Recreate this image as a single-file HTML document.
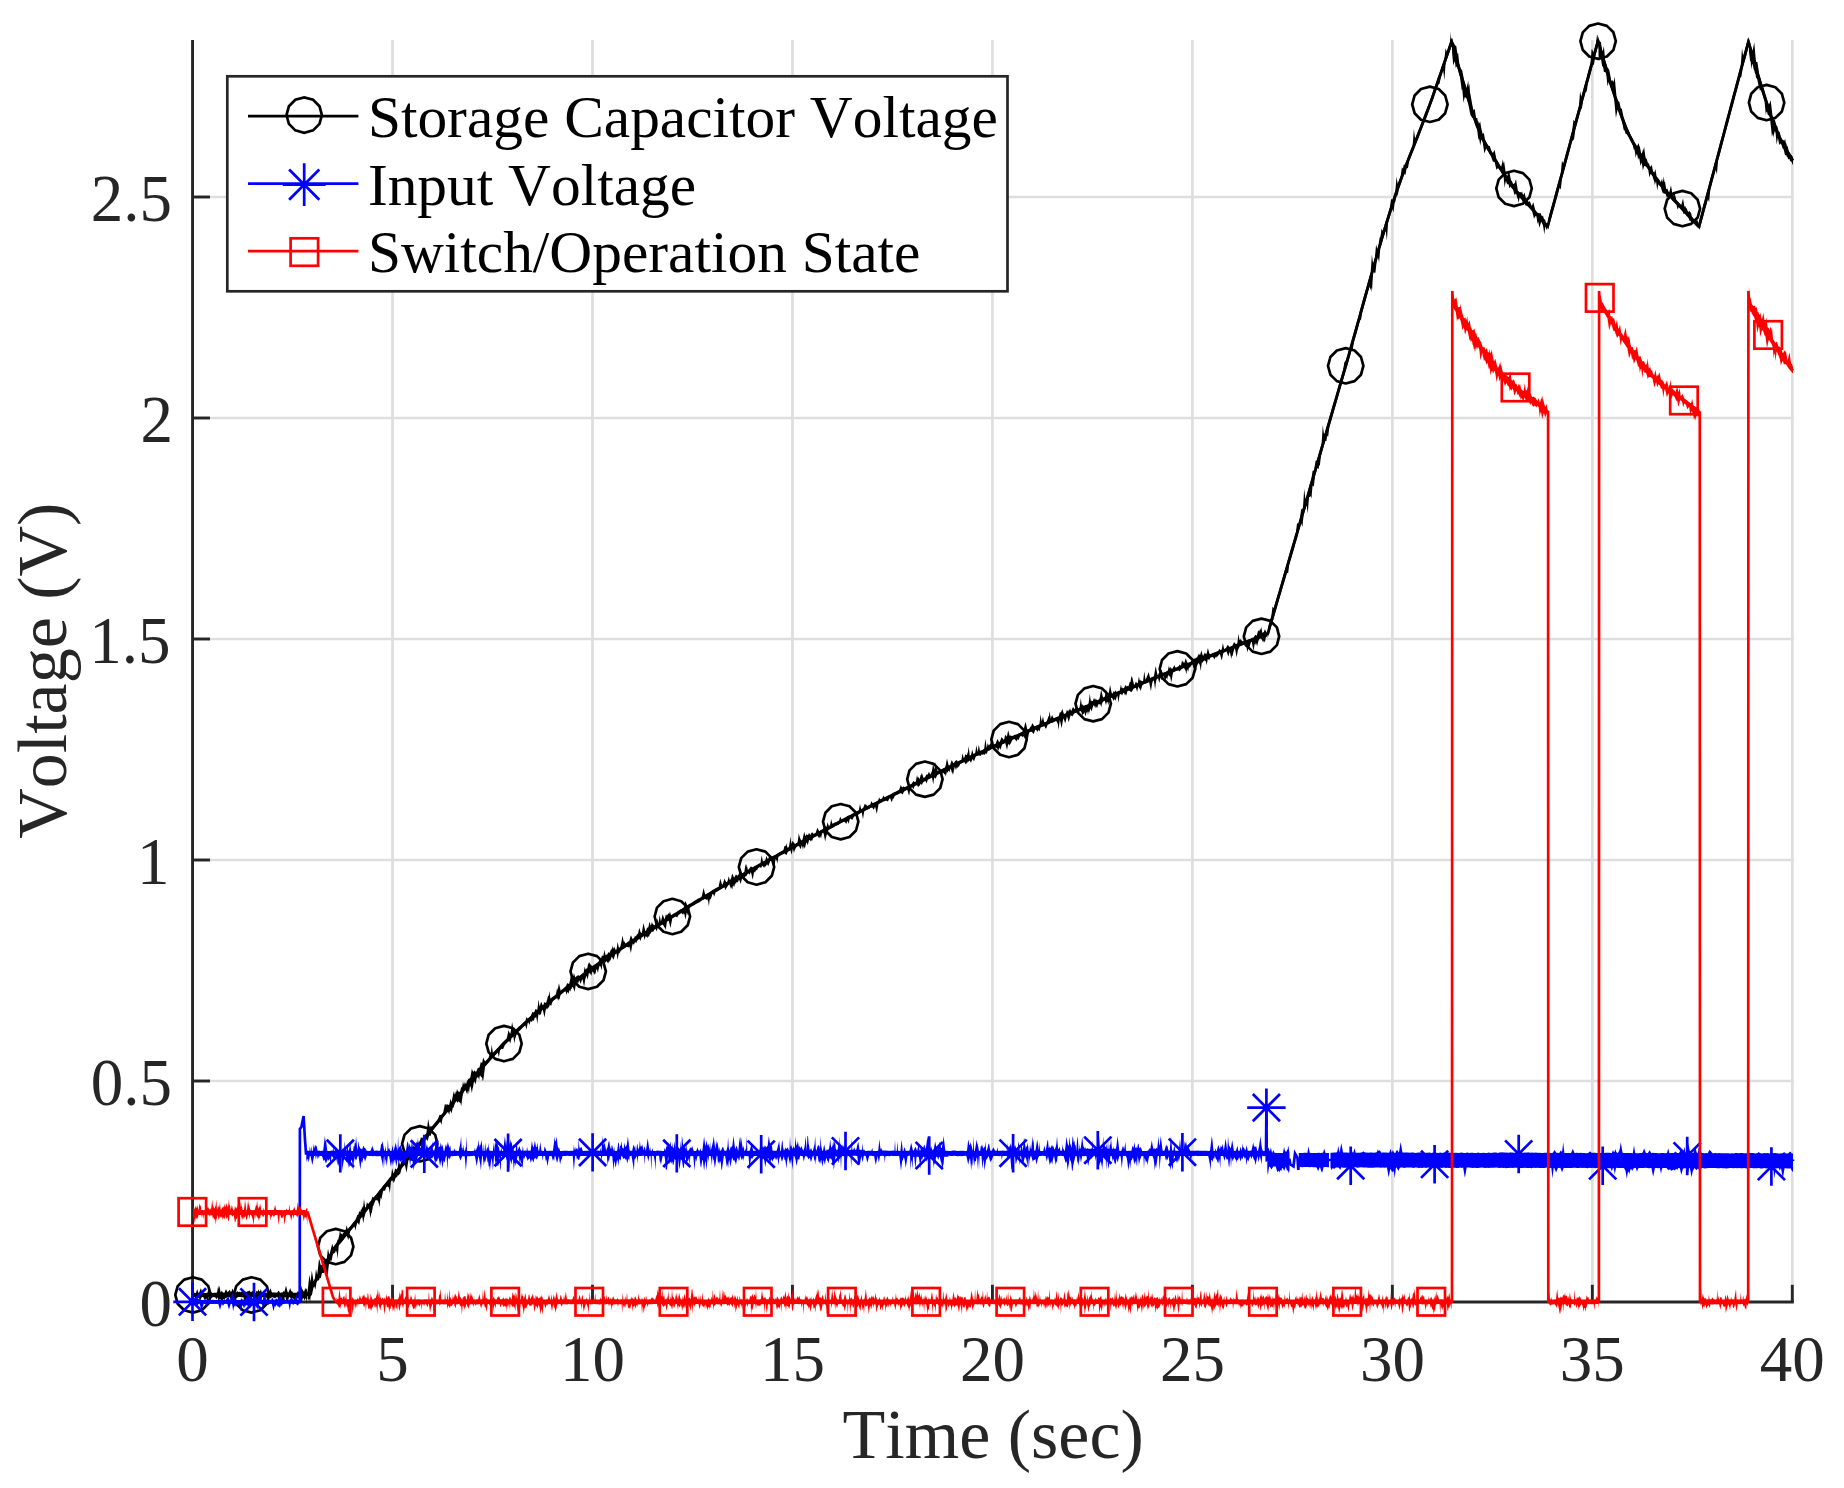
<!DOCTYPE html>
<html lang="en"><head><meta charset="utf-8"><title>Voltage vs Time</title>
<style>html,body{margin:0;padding:0;background:#fff}body{width:1844px;height:1488px;overflow:hidden}svg{display:block}text{font-family:"Liberation Serif",serif;font-kerning:none}</style>
</head><body>
<svg width="1844" height="1488" viewBox="0 0 1844 1488">
<rect width="1844" height="1488" fill="#fff"/>
<g stroke="#dedede" stroke-width="2.7" fill="none">
<line x1="392.52" y1="40" x2="392.52" y2="1302"/>
<line x1="592.49" y1="40" x2="592.49" y2="1302"/>
<line x1="792.46" y1="40" x2="792.46" y2="1302"/>
<line x1="992.42" y1="40" x2="992.42" y2="1302"/>
<line x1="1192.39" y1="40" x2="1192.39" y2="1302"/>
<line x1="1392.36" y1="40" x2="1392.36" y2="1302"/>
<line x1="1592.33" y1="40" x2="1592.33" y2="1302"/>
<line x1="1792.3" y1="40" x2="1792.3" y2="1302"/>
<line x1="192.6" y1="1081" x2="1793.7" y2="1081"/>
<line x1="192.6" y1="860" x2="1793.7" y2="860"/>
<line x1="192.6" y1="639" x2="1793.7" y2="639"/>
<line x1="192.6" y1="418" x2="1793.7" y2="418"/>
<line x1="192.6" y1="197" x2="1793.7" y2="197"/>
</g>
<g stroke="#262626" stroke-width="2.9" fill="none">
<path d="M192.55 40V1302H1793.8"/>
<line x1="392.52" y1="1302" x2="392.52" y2="1284.8"/>
<line x1="592.49" y1="1302" x2="592.49" y2="1284.8"/>
<line x1="792.46" y1="1302" x2="792.46" y2="1284.8"/>
<line x1="992.42" y1="1302" x2="992.42" y2="1284.8"/>
<line x1="1192.39" y1="1302" x2="1192.39" y2="1284.8"/>
<line x1="1392.36" y1="1302" x2="1392.36" y2="1284.8"/>
<line x1="1592.33" y1="1302" x2="1592.33" y2="1284.8"/>
<line x1="1792.3" y1="1302" x2="1792.3" y2="1284.8"/>
<line x1="192.55" y1="1081" x2="210" y2="1081"/>
<line x1="192.55" y1="860" x2="210" y2="860"/>
<line x1="192.55" y1="639" x2="210" y2="639"/>
<line x1="192.55" y1="418" x2="210" y2="418"/>
<line x1="192.55" y1="197" x2="210" y2="197"/>
</g>
<g fill="#262626" font-size="65">
<g text-anchor="middle">
<text transform="translate(192.6 1380.8) scale(1 1.02)">0</text>
<text transform="translate(392.5 1380.8) scale(1 1.02)">5</text>
<text transform="translate(592.5 1380.8) scale(1 1.02)">10</text>
<text transform="translate(792.5 1380.8) scale(1 1.02)">15</text>
<text transform="translate(992.4 1380.8) scale(1 1.02)">20</text>
<text transform="translate(1192.4 1380.8) scale(1 1.02)">25</text>
<text transform="translate(1392.4 1380.8) scale(1 1.02)">30</text>
<text transform="translate(1592.3 1380.8) scale(1 1.02)">35</text>
<text transform="translate(1792.3 1380.8) scale(1 1.02)">40</text>
</g>
<g text-anchor="end">
<text transform="translate(172 1326.1) scale(1 1.03)">0</text>
<text transform="translate(172 1105.1) scale(1 1.03)">0.5</text>
<text transform="translate(169.4 884.1) scale(1 1.03)">1</text>
<text transform="translate(170.6 663.1) scale(1 1.03)">1.5</text>
<text transform="translate(173 442.1) scale(1 1.03)">2</text>
<text transform="translate(172 221.1) scale(1 1.03)">2.5</text>
</g></g>
<g fill="#262626" font-size="70" text-anchor="middle">
<text x="993.2" y="1457.7">Time (sec)</text>
<text transform="translate(66.3 670.7) rotate(-90)">Voltage (V)</text>
</g>
<g fill="none" stroke-width="2.7" stroke-linejoin="miter" stroke-miterlimit="4">
<polyline stroke="#000" points="193,1294.9 196,1294.9 199,1294.9 202,1294.9 205,1294.9 208,1294.9 211,1294.9 214,1294.9 217,1294.9 220,1294.9 223,1294.9 226,1294.9 229,1294.9 232,1294.9 235,1294.9 238,1294.9 241,1294.9 244,1294.9 247,1294.9 250,1294.9 253,1294.9 256,1294.9 259,1294.9 262,1294.9 265,1294.9 268,1294.9 271,1294.9 274,1294.9 277,1294.9 280,1294.9 283,1294.9 286,1294.9 289,1294.9 292,1294.9 295,1294.9 298,1294.9 301,1294.9 304,1294.9 307,1294.9 307.6,1294.4 310.6,1289.3 313.6,1284.1 316.6,1279 319.6,1273.9 322.6,1268.7 325.7,1263.6 328.7,1258.5 331.7,1253.3 334.7,1248.2 337.7,1244.1 340.7,1240.5 343.7,1236.8 346.7,1233.1 349.7,1229.4 352.7,1225.7 355.7,1222 358.7,1218.3 361.8,1214.7 364.8,1211 367.8,1207.3 370.8,1203.6 373.8,1199.9 376.8,1196.2 379.8,1192.5 382.8,1188.8 385.8,1185.2 388.8,1181.5 391.8,1177.8 394.8,1174.1 397.9,1170.5 400.9,1166.8 403.9,1163.1 406.9,1159.5 409.9,1155.8 412.9,1152.2 415.9,1148.5 418.9,1144.9 421.9,1141.3 424.9,1137.6 427.9,1133.9 430.9,1130.2 434,1126.5 437,1122.8 440,1119 443,1115.3 446,1111.5 449,1107.8 452,1104 455,1100.3 458,1096.5 461,1092.8 464,1089.1 467,1085.5 470.1,1081.8 473.1,1078.2 476.1,1074.6 479.1,1071.1 482.1,1067.6 485.1,1064.1 488.1,1060.7 491.1,1057.3 494.1,1054 497.1,1050.8 500.1,1047.6 503.2,1044.5 506.2,1041.4 509.2,1038.4 512.2,1035.4 515.2,1032.5 518.2,1029.6 521.2,1026.8 524.2,1024 527.2,1021.2 530.2,1018.5 533.2,1015.8 536.2,1013.2 539.3,1010.5 542.3,1008 545.3,1005.4 548.3,1002.9 551.3,1000.4 554.3,997.9 557.3,995.5 560.3,993 563.3,990.6 566.3,988.2 569.3,985.9 572.3,983.5 575.4,981.2 578.4,978.9 581.4,976.6 584.4,974.3 587.4,972 590.4,969.7 593.4,967.5 596.4,965.3 599.4,963.2 602.4,961 605.4,958.9 608.4,956.9 611.5,954.8 614.5,952.8 617.5,950.8 620.5,948.8 623.5,946.9 626.5,944.9 629.5,943 632.5,941.1 635.5,939.2 638.5,937.3 641.5,935.5 644.5,933.6 647.6,931.7 650.6,929.9 653.6,928 656.6,926.2 659.6,924.3 662.6,922.5 665.6,920.7 668.6,918.8 671.6,916.9 674.6,915.1 677.6,913.2 680.6,911.4 683.7,909.5 686.7,907.7 689.7,905.9 692.7,904.1 695.7,902.2 698.7,900.4 701.7,898.6 704.7,896.9 707.7,895.1 710.7,893.3 713.7,891.5 716.8,889.8 719.8,888 722.8,886.3 725.8,884.5 728.8,882.8 731.8,881 734.8,879.3 737.8,877.6 740.8,875.9 743.8,874.1 746.8,872.4 749.8,870.7 752.9,869 755.9,867.3 758.9,865.6 761.9,864 764.9,862.3 767.9,860.6 770.9,858.9 773.9,857.3 776.9,855.6 779.9,854 782.9,852.3 785.9,850.7 789,849.1 792,847.4 795,845.8 798,844.2 801,842.6 804,841 807,839.4 810,837.8 813,836.2 816,834.6 819,833 822,831.4 825.1,829.8 828.1,828.3 831.1,826.7 834.1,825.1 837.1,823.5 840.1,822 843.1,820.4 846.1,818.8 849.1,817.3 852.1,815.7 855.1,814.2 858.1,812.6 861.2,811.1 864.2,809.5 867.2,808 870.2,806.5 873.2,804.9 876.2,803.4 879.2,801.9 882.2,800.4 885.2,798.9 888.2,797.3 891.2,795.8 894.3,794.3 897.3,792.8 900.3,791.3 903.3,789.8 906.3,788.4 909.3,786.9 912.3,785.4 915.3,783.9 918.3,782.4 921.3,781 924.3,779.5 927.3,778 930.4,776.5 933.4,775.1 936.4,773.6 939.4,772.2 942.4,770.7 945.4,769.2 948.4,767.8 951.4,766.3 954.4,764.9 957.4,763.5 960.4,762 963.4,760.6 966.5,759.2 969.5,757.7 972.5,756.3 975.5,754.9 978.5,753.5 981.5,752.1 984.5,750.7 987.5,749.3 990.5,747.9 993.5,746.5 996.5,745.1 999.5,743.7 1002.6,742.4 1005.6,741 1008.6,739.7 1011.6,738.3 1014.6,737 1017.6,735.7 1020.6,734.3 1023.6,733 1026.6,731.7 1029.6,730.4 1032.6,729.1 1035.6,727.8 1038.7,726.6 1041.7,725.3 1044.7,724 1047.7,722.7 1050.7,721.5 1053.7,720.2 1056.7,719 1059.7,717.7 1062.7,716.4 1065.7,715.2 1068.7,713.9 1071.7,712.7 1074.8,711.4 1077.8,710.2 1080.8,708.9 1083.8,707.7 1086.8,706.4 1089.8,705.2 1092.8,703.9 1095.8,702.6 1098.8,701.4 1101.8,700.1 1104.8,698.8 1107.9,697.6 1110.9,696.3 1113.9,695 1116.9,693.8 1119.9,692.5 1122.9,691.3 1125.9,690 1128.9,688.7 1131.9,687.5 1134.9,686.2 1137.9,685 1140.9,683.7 1144,682.5 1147,681.2 1150,680 1153,678.7 1156,677.5 1159,676.3 1162,675 1165,673.8 1168,672.6 1171,671.4 1174,670.2 1177,668.9 1180.1,667.7 1183.1,666.5 1186.1,665.3 1189.1,664.2 1192.1,663 1195.1,661.8 1198.1,660.6 1201.1,659.5 1204.1,658.3 1207.1,657.1 1210.1,656 1213.1,654.8 1216.2,653.6 1219.2,652.5 1222.2,651.3 1225.2,650.2 1228.2,649 1231.2,647.9 1234.2,646.7 1237.2,645.6 1240.2,644.4 1243.2,643.3 1246.2,642.1 1249.2,641 1252.3,639.8 1255.3,638.7 1258.3,637.5 1261.3,636.4 1264.3,635.2 1267.3,634.1 1267.6,634 1268.3,631.6 1271.3,621.1 1274.4,610.7 1277.4,600.2 1280.5,589.8 1283.5,579.3 1286.6,568.9 1289.6,558.5 1292.7,548 1295.7,537.6 1298.8,527.1 1301.8,516.7 1304.8,506.2 1307.9,495.8 1310.9,485.3 1314,474.9 1317,464.4 1320.1,454 1323.1,443.5 1326.2,433.1 1329.2,422.6 1332.2,412.1 1335.3,401.7 1338.3,391.2 1341.4,380.7 1344.4,370.2 1347.5,359.7 1350.5,349.1 1353.6,338.4 1356.6,327.5 1359.7,316.7 1362.7,305.8 1365.7,294.9 1368.8,284.1 1371.8,273.3 1374.9,262.6 1377.9,252 1381,241.6 1384,231.3 1387.1,221.3 1390.1,211.5 1393.1,201.9 1396.2,192.8 1399.2,184 1402.3,175.6 1405.3,167.5 1408.4,159.5 1411.4,151.8 1414.5,144.1 1417.5,136.5 1420.5,128.8 1423.6,121 1426.6,113 1429.7,104.9 1432.7,96.4 1435.8,87.8 1438.8,79 1441.9,70.2 1444.9,61.3 1448,52.4 1451,43.5 1451.6,41.8 1452.1,43.5 1455.2,54.4 1458.2,65.4 1461.3,76.1 1464.4,86.2 1467.4,96.1 1470.5,105.9 1473.6,115.4 1476.6,124.1 1479.7,131.9 1482.8,138.6 1485.8,144.6 1488.9,149.9 1492,154.9 1495,159.9 1498.1,164.9 1501.2,169.8 1504.3,174.6 1507.3,179.2 1510.4,183.5 1513.5,187.7 1516.5,191.5 1519.6,195.1 1522.7,198.5 1525.7,201.8 1528.8,205.1 1531.9,208.6 1534.9,212.1 1538,215.7 1541.1,219.2 1544.1,222.7 1547.2,226 1547.6,226.4 1548.1,224.6 1551.2,213.2 1554.3,201.8 1557.4,190.4 1560.5,179 1563.6,167.7 1566.7,156.3 1569.8,144.9 1572.8,133.5 1575.9,122.1 1579,110.8 1582.1,99.4 1585.2,88 1588.3,76.6 1591.4,65.2 1594.5,53.9 1597.6,42.5 1598,41 1598.5,42.7 1601.5,53 1604.6,63.3 1607.6,73.5 1610.6,83.2 1613.7,92.5 1616.7,101.9 1619.7,111 1622.8,119.6 1625.8,127.4 1628.8,134.3 1631.9,140.4 1634.9,145.8 1637.9,150.8 1641,155.5 1644,160.2 1647,164.9 1650.1,169.6 1653.1,174.1 1656.1,178.4 1659.2,182.6 1662.2,186.5 1665.2,190.3 1668.3,193.8 1671.3,197 1674.3,200.2 1677.4,203.3 1680.4,206.5 1683.4,209.8 1686.5,213.1 1689.5,216.5 1692.5,219.8 1695.6,223.1 1698.6,226.2 1699,226.6 1699.5,224.7 1702.5,213.4 1705.6,202.1 1708.6,190.7 1711.6,179.4 1714.7,168.1 1717.7,156.8 1720.7,145.4 1723.8,134.1 1726.8,122.8 1729.8,111.5 1732.8,100.1 1735.9,88.8 1738.9,77.5 1741.9,66.1 1745,54.8 1748,43.5 1748.4,42 1748.9,43.7 1752.1,54.7 1755.2,65.7 1758.4,76.4 1761.5,86.6 1764.7,96.6 1767.8,106.5 1771,115.9 1774.1,124.7 1777.2,132.4 1780.4,139.2 1783.5,145.1 1786.7,150.5 1789.8,155.5 1793,160.5 1793,160.5"/>
<path fill="#000" stroke="none" d="M193 1292.7 194.8 1292.8 196 1292.9 196.6 1291 197.2 1289.1 197.8 1291 198.4 1292.7 199 1292.7 199.6 1291.4 200.2 1289.8 200.8 1288.2 201.4 1289.8 202 1291.4 202.6 1292.5 203.8 1292.7 205.6 1292.9 207.4 1292.8 208 1290.4 208.6 1287.8 209.2 1290.4 209.8 1292 210.4 1291 211 1292 211.6 1292.6 212.8 1292.9 214.6 1292.7 216.4 1292.7 217 1292.6 217.6 1289.3 218.2 1285.6 218.8 1289.3 219.4 1285.6 220 1289.3 220.6 1292.5 221.2 1291.7 221.8 1290.4 222.4 1291.7 223 1292.7 223.6 1292.5 224.2 1292.9 224.8 1291.7 225.4 1290.4 226 1289.1 226.6 1290.4 227.2 1291.7 227.8 1292.1 228.4 1291.3 229 1290.8 229.6 1289.8 230.2 1290.8 230.8 1291.9 231.4 1291.5 232 1290.1 232.6 1288.6 233.2 1290.1 233.8 1291.5 234.4 1292.6 235.6 1292.7 236.2 1292.3 236.8 1291.7 237.4 1291 238 1291.7 238.6 1292.3 239.2 1292 239.8 1291.5 240.4 1292 241 1292.2 241.6 1291.5 242.2 1290.7 242.8 1291.5 243.4 1292.2 244 1292.8 244.6 1292.5 245.2 1292.1 245.8 1291.6 246.4 1292.1 247 1291.8 247.6 1291.2 248.2 1291.1 248.8 1291.2 249.4 1290.3 250 1291.2 250.6 1292.1 251.2 1292.2 251.8 1291.5 252.4 1290.7 253 1291.8 253.6 1292.7 254.2 1292.8 255.4 1292.9 256 1291.8 256.6 1290.7 257.2 1291.8 257.8 1291.1 258.4 1289.2 259 1290.8 259.6 1291.5 260.2 1291 260.8 1289.1 261.4 1291 262 1292.7 263.2 1292.6 265 1292.5 266.8 1292.7 268.6 1292.6 269.2 1291.4 269.8 1289.8 270.4 1288.2 271 1289.8 271.6 1291.4 272.2 1292.6 274 1292.6 275.8 1292.6 277 1292.7 277.6 1291.9 278.2 1290.9 278.8 1290.7 279.4 1291.8 280 1292.9 281.2 1292.5 282.4 1292.6 283 1291.9 283.6 1290.8 284.2 1291.9 284.8 1290.5 285.4 1288 286 1285.6 286.6 1288 287.2 1290.5 287.8 1292.6 288.4 1292.5 289 1291.3 289.6 1289.7 290.2 1288.1 290.8 1289.7 291.4 1291.3 292 1291.3 292.6 1292.1 293.2 1292.8 293.8 1292.7 295.6 1292.7 296.8 1292.8 297.4 1291.9 298 1290.8 298.6 1291.9 299.2 1292.9 299.8 1292.2 300.4 1291.4 301 1289.3 301.6 1285.6 302.2 1289.3 302.8 1289.8 303.4 1290.8 304 1291.9 304.6 1290.3 305.2 1287.6 305.8 1289.8 306.4 1288.2 307 1289.8 307 1303.7 306.4 1300.3 305.8 1298.1 305.2 1299.3 304.6 1300.5 304 1299.3 303.4 1298.1 302.8 1298.6 302.2 1300.4 301.6 1302.2 301 1300.4 300.4 1298.6 299.8 1297.2 299.2 1297.5 298.6 1298.2 298 1298.8 297.4 1298.2 296.8 1297.5 296.2 1297.1 295.6 1298.5 295 1300.1 294.4 1301.8 293.8 1300.1 293.2 1298.6 292.6 1298.2 292 1298.6 291.4 1298 290.8 1298.3 290.2 1297.6 289.6 1297.2 289 1297.3 288.4 1299.5 287.8 1302.1 287.2 1299.5 286.6 1301.6 286 1299.2 285.4 1297 284.8 1297 284.2 1299.3 283.6 1301.8 283 1304.2 282.4 1301.8 281.8 1299.3 281.2 1297.2 280 1297 279.4 1300.4 278.8 1304 278.2 1300.4 277.6 1296.9 276.4 1297.2 275.8 1297.7 275.2 1298.6 274.6 1297.7 274 1298.4 273.4 1297.6 272.8 1296.9 272.2 1297 271.6 1297.4 271 1298 270.4 1298.6 269.8 1298 269.2 1297.4 268.6 1297.6 268 1298.3 267.4 1299 266.8 1298.3 266.2 1297.6 265.6 1297.3 265 1297.2 263.2 1297.3 262 1297.3 261.4 1298.4 260.8 1300 260.2 1298.4 259.6 1297.2 257.8 1297 257.2 1298.8 256.6 1300.8 256 1298.8 255.4 1298.2 254.8 1299.6 254.2 1298.2 253.6 1297.1 252.4 1297.1 251.8 1297.9 251.2 1299 250.6 1300.1 250 1299 249.4 1297.9 248.8 1298.2 248.2 1297.8 247.6 1298.7 247 1300.6 246.4 1302.5 245.8 1300.6 245.2 1300 244.6 1301.6 244 1299.2 243.4 1297.2 241.6 1297.2 239.8 1297 238 1296.9 237.4 1297.5 236.8 1298.1 236.2 1298.7 235.6 1298.1 235 1297.5 234.4 1297.2 233.2 1297 232.6 1298.3 232 1299.8 231.4 1301.3 230.8 1300.4 230.2 1298.6 229.6 1297.3 229 1297.2 227.2 1297.2 226.6 1297.8 226 1298.8 225.4 1298.1 224.8 1299.3 224.2 1300.6 223.6 1299.3 223 1299.3 222.4 1301.8 221.8 1304.2 221.2 1301.8 220.6 1300.1 220 1298.5 219.4 1299.8 218.8 1302.7 218.2 1299.8 217.6 1297.3 217 1298.2 216.4 1299.5 215.8 1298.2 215.2 1297.3 214.6 1297.3 212.8 1296.9 212.2 1297.7 211.6 1298.5 211 1297.7 210.4 1296.9 209.2 1296.9 208.6 1297 208 1300.2 207.4 1303.6 206.8 1300.2 206.2 1298.2 205.6 1299.6 205 1301 204.4 1299.6 203.8 1298.2 203.2 1296.9 202 1297 201.4 1298 200.8 1299.1 200.2 1301.1 199.6 1299.7 199 1298.3 198.4 1298.2 197.8 1297.8 197.2 1297.3 196.6 1296.9 196 1297.6 195.4 1298.4 194.8 1297.6 194.2 1297.1 193 1296.9ZM307.6 1291 308.2 1285.9 308.8 1280.3 309.4 1274.8 310 1278.3 310.6 1281.8 311.2 1276.2 311.8 1270.7 312.4 1274.2 313 1277.7 313.6 1281.2 314.8 1278.8 315.4 1274 316 1268.9 316.6 1272 317.2 1274.8 317.8 1269.7 318.4 1264.3 319 1258.9 319.6 1260.3 320.2 1262.8 320.8 1265.4 321.4 1264.5 322 1265.2 322.6 1263 323.2 1260.6 323.8 1261 324.4 1261 325 1259.2 325.6 1259 326.2 1258.8 326.8 1258.5 327.4 1253.6 328 1248.6 328.6 1251.6 329.2 1254.6 329.8 1253.2 330.4 1251.1 331 1248.7 331.6 1246.2 332.2 1243.8 332.8 1245.6 333.4 1247.3 334.6 1245.2 336.4 1243 337 1241.4 337.6 1239.4 338.2 1239.4 338.8 1236.9 339.4 1234.4 340 1228.9 340.6 1233.2 341.2 1233.4 341.8 1234 342.4 1234.6 343 1232.6 343.6 1233.2 344.2 1231.6 344.8 1229.7 345.4 1230.1 346 1228.8 346.6 1225.2 347.2 1227.3 347.8 1229.3 349 1227.5 350.8 1225.7 352.6 1223.2 354.4 1221 355.6 1219.6 356.2 1218.1 356.8 1216.5 357.4 1214.8 358 1215 358.6 1213.7 359.2 1210.5 359.8 1212.2 360.4 1211.8 361 1208.9 361.6 1209.7 362.2 1206.1 362.8 1208.2 363.4 1204.9 364 1198.7 364.6 1203.4 365.2 1207.6 365.8 1207.2 366.4 1204.8 367 1202.3 367.6 1203.3 368.2 1204 368.8 1203.2 370.6 1201.1 371.2 1200.5 371.8 1198.7 372.4 1196.6 373 1197.2 373.6 1197.5 374.2 1196.7 376 1194.8 377.8 1192.6 379.6 1190.1 381.4 1188.1 383.2 1185.6 385 1183.4 386.8 1181.2 388.6 1179 390.4 1176.8 391 1176.2 391.6 1172.4 392.2 1168.3 392.8 1171 393.4 1173.6 394 1172.7 394.6 1170.5 395.2 1168.2 395.8 1169.1 396.4 1169.5 397.6 1168.1 398.2 1164 398.8 1159.5 399.4 1162.5 400 1165 400.6 1163.8 401.2 1162 401.8 1159.5 402.4 1155 403 1158.1 403.6 1156.7 404.2 1153.8 404.8 1148 405.4 1153.1 406 1150.6 406.6 1153.7 407.2 1156.7 407.8 1154.1 408.4 1151.5 409 1152.7 409.6 1153.7 410.2 1152.7 412 1150.8 412.6 1148.2 413.2 1145.4 413.8 1146.7 414.4 1147 415 1145.1 415.6 1145.5 416.2 1144.1 416.8 1141.5 417.4 1142.6 418 1143.6 419.2 1141.9 419.8 1141.3 420.4 1139.2 421 1136.9 421.6 1137.8 422.2 1138.4 422.8 1137.6 424.6 1135.3 426.4 1133.4 427 1128.7 427.6 1123.9 428.2 1119.1 428.8 1122.4 429.4 1125.7 430 1127.8 430.6 1125.8 431.2 1126.3 431.8 1126.4 433.6 1124.5 435.4 1122.2 437.2 1119.9 437.8 1119.1 438.4 1117.8 439 1116.3 439.6 1114.8 440.2 1114.8 440.8 1114.9 441.4 1114.7 442.6 1113.3 443.2 1112.5 443.8 1109.6 444.4 1106.5 445 1103.5 445.6 1105 446.2 1103.8 446.8 1105.6 447.4 1104.3 448 1104.6 448.6 1104.9 449.2 1104.8 449.8 1102 450.4 1098.8 451 1100.5 451.6 1102.1 452.2 1099 452.8 1095.9 453.4 1092.7 454 1091.2 454.6 1094.4 455.2 1094 455.8 1091.4 456.4 1091.9 457 1089 457.6 1090.4 458.2 1091.6 458.8 1091.6 459.4 1091.7 460 1091.7 460.6 1089.2 461.2 1086.6 461.8 1087.7 462.4 1085.4 463 1081.2 463.6 1083.9 464.2 1084.5 464.8 1081.7 465.4 1083.1 466 1084.3 466.6 1082.3 467.2 1080.2 467.7 1080.6 468.3 1078.2 468.9 1079.2 469.5 1077.9 470.1 1077.9 470.7 1075.6 471.3 1071.9 471.9 1068.2 472.5 1070.5 473.1 1071.3 473.7 1072.1 474.3 1070.3 474.9 1070.9 475.5 1071.6 476.1 1071.8 476.7 1070.7 477.3 1069.2 477.9 1067.7 478.5 1067.8 479.1 1067.9 479.7 1066.4 480.3 1064.1 480.9 1061.8 481.5 1062.7 482.1 1063.1 482.7 1060.3 483.3 1057.5 483.9 1058.9 484.5 1060.3 485.1 1061.6 485.7 1060.7 487.5 1058.9 488.7 1057.6 489.3 1055.3 489.9 1052.9 490.5 1054 491.1 1050.2 491.7 1044.7 492.3 1048.9 492.9 1052.7 494.7 1050.9 496.5 1049 498.3 1047.2 500.1 1045.1 501.9 1043.1 503.7 1041.3 505.5 1039.6 506.7 1038.4 507.3 1035.8 507.9 1033 508.5 1030.1 509.1 1031.8 509.7 1033 510.3 1033.7 510.9 1030.7 511.5 1026.3 512.1 1021.9 512.7 1025.2 513.3 1028.4 513.9 1029.1 514.5 1029.8 515.1 1030.4 516.3 1029.1 518.1 1027.2 519.9 1025.7 521.7 1024.2 523.5 1022.3 525.3 1020.7 525.9 1019 526.5 1017.1 527.1 1017.9 527.7 1018.4 528.9 1017.4 530.7 1016 531.3 1014.6 531.9 1013.2 532.5 1011.8 533.1 1012.2 533.7 1012.5 534.3 1011.9 534.9 1010.4 535.5 1008.9 536.1 1009.3 536.7 1009.8 537.3 1009.8 537.9 1004.9 538.5 999.5 539.1 1003.8 539.7 1006.6 540.3 1004.6 540.9 1002.6 541.5 1002.1 542.1 1003.9 542.7 1005.3 543.3 1005.1 543.9 1003.6 544.5 1002.1 545.1 1002.6 545.7 1003 546.3 1002.5 546.9 1000.3 547.5 998 548.1 995.7 548.7 996 549.3 990.9 549.9 995 550.5 998.7 552.3 997.1 554.1 995.9 555.9 994.2 556.5 991.2 557.1 987.8 557.7 990.2 558.3 986.7 558.9 983.3 559.5 985.8 560.1 988.3 560.7 990.7 561.3 989.9 563.1 988.7 564.9 987.1 565.5 986.5 566.1 985.7 566.7 984.3 567.3 983 567.9 983.4 568.5 983.8 569.1 984 569.7 981.5 570.3 978.8 570.9 976.1 571.5 977.4 572.1 974.5 572.7 976.5 573.3 975.9 573.9 972.9 574.5 975 575.1 977 575.7 977.3 576.3 976 576.9 976.4 577.5 975.5 578.1 975 578.7 975.6 579.3 976 581.1 974.6 582.9 973.1 583.5 973 584.1 969.9 584.7 966.6 585.3 968.9 585.9 969.5 586.5 968.2 587.1 968.6 587.7 966.3 588.3 962.3 588.9 964.6 589.5 961.9 590.1 963.7 590.7 964.7 591.3 965.2 591.9 965.8 592.5 966 593.7 965.1 595.5 964 597.3 962.7 598.5 961.5 599.1 960.6 599.7 959.1 600.3 959.7 600.9 958.8 601.5 956.9 602.1 955.1 602.7 956.1 603.3 956 603.9 952.9 604.5 949.7 605.1 953.3 605.7 955.6 606.3 954.5 606.9 954.8 607.5 953.9 608.1 952.6 608.7 952.2 609.3 953.1 609.9 952.1 610.5 950.6 611.1 949.3 611.7 949.4 612.3 945.6 612.9 948.2 613.5 948.6 614.1 946.7 614.7 947.8 615.3 948.9 615.9 950 616.5 949.6 617.1 945.7 617.7 941.7 618.3 944.9 618.9 947.8 620.1 947.2 620.7 944.9 621.3 942.5 621.9 939.2 622.5 935.4 623.1 938.5 623.7 941.5 624.3 941.3 624.9 942.5 625.5 943.5 626.1 943.2 627.9 941.8 629.1 941.3 629.7 939.4 630.3 937.3 630.9 935.2 631.5 936.6 632.1 937.9 632.7 939 633.3 938.4 633.9 938.4 634.5 937.1 635.1 935.8 635.7 936.4 636.3 935.6 636.9 934.5 637.5 934 638.1 933.4 638.7 930.5 639.3 927.7 639.9 929.8 640.5 931.9 641.1 932.8 641.7 933 642.3 930.1 642.9 926.5 643.5 923 644.1 925.8 644.7 928.6 645.3 931.1 645.9 930.8 646.5 929.2 647.1 927.4 647.7 927.8 648.3 927.2 648.9 924.5 649.5 921.8 650.1 923.7 650.7 925.7 651.3 924.2 651.9 922.1 652.5 923.5 653.1 924.4 653.7 924.8 654.3 925.1 654.9 925.4 655.5 923.6 656.1 921.8 656.7 920 657.3 918.8 657.9 921 658.5 923.2 659.1 919.1 659.7 914.9 660.3 918.4 660.9 921.6 661.5 919.3 662.1 916.8 662.7 914.3 663.3 916.1 663.9 917.8 664.5 919.5 665.1 917.3 665.7 915 666.3 915.7 666.9 913.9 667.5 914.9 668.1 914 668.7 913.1 669.3 914.1 669.9 911.2 670.5 913.4 671.1 915.2 672.9 914 674.7 912.9 676.5 912 678.3 910.8 680.1 909.6 681.9 908.7 683.7 907.6 684.3 905.4 684.9 903.1 685.5 900.7 686.1 902.4 686.7 904 687.3 905.2 689.1 904 690.9 903.2 692.7 902.1 694.5 900.8 696.3 899.7 698.1 898.6 699.9 897.9 701.7 896.5 702.3 893.9 702.9 890.9 703.5 887.9 704.1 890.2 704.7 892.5 705.3 894.5 707.1 893.5 708.9 892.6 710.7 891.2 712.5 890.1 714.3 889.1 716.1 888 717.9 886.9 718.5 887 719.1 884.2 719.7 881.4 720.3 878.6 720.9 880.7 721.5 882.8 722.1 884.8 722.7 884.2 723.3 882.6 723.9 880.6 724.5 878.5 725.1 879.9 725.7 881.2 726.3 882.3 726.9 882.1 727.5 881.3 728.1 879 728.7 876.3 729.3 878.3 729.9 880.3 730.5 879.3 731.1 877.9 731.7 875.6 732.3 873.4 732.9 874.9 733.5 876.5 734.1 877.6 734.7 876.8 735.3 875.6 735.9 874.4 736.5 874.9 737.1 875.4 737.7 875.6 738.3 875.1 738.9 873.6 739.5 871.7 740.1 869.7 740.7 868.5 741.3 871 741.9 873.3 743.1 872.8 744.3 871.9 744.9 868 745.5 863.8 746.1 867.3 746.7 863.9 747.3 867 747.9 870.1 748.5 869.4 749.1 868.8 749.7 867.9 750.3 867 750.9 866.4 751.5 866.7 752.1 867.1 752.7 867.4 753.9 866.5 755.7 865.4 757.5 864.6 759.3 863.6 760.5 863 761.1 859.1 761.7 855.2 762.3 858.4 762.9 861.6 764.7 860.7 765.3 860.3 765.9 858 766.5 855.7 767.1 857.4 767.7 858.9 768.3 858.4 768.9 857.1 769.5 855.6 770.1 856.5 770.7 857.1 771.9 856.5 773.7 855.6 775.5 854.7 777.3 853.4 779.1 852.4 780.9 851.5 782.7 850.5 783.3 850.3 783.9 848.2 784.5 846 785.1 845.8 785.7 846.3 786.3 843.2 786.9 845.7 787.5 847.8 788 847.5 788.6 847.2 789.2 845.2 789.8 841.7 790.4 836.3 791 841.1 791.6 843.9 792.2 841.6 792.8 841 793.4 842.1 794 843.1 794.6 843.5 795.2 843.9 797 842.8 797.6 842.3 798.2 837.9 798.8 833.2 799.4 836.1 800 837.6 800.6 839.2 801.2 840.6 802.4 839.8 803 837.3 803.6 834.5 804.2 831.8 804.8 833.9 805.4 836 806 835.5 806.6 833.9 807.2 834.9 807.8 834.8 808.4 834.4 809 832.8 809.6 833.8 810.2 834.7 810.8 834.4 811.4 832.9 812 832.2 812.6 832.8 813.2 833.4 813.8 833.8 815 833.3 815.6 833 816.2 831.3 816.8 829.5 817.4 827.8 818 828.9 818.6 830.1 819.2 831.2 820.4 830.3 822.2 829.4 822.8 829.1 823.4 828 824 826.6 824.6 825.3 825.2 826 825.8 826.7 826.4 827 827 824.8 827.6 822.2 828.2 824.2 828.8 825.8 829.4 825.7 830 825.2 830.6 822.3 831.2 819.1 831.8 821.7 832.4 823.8 833 823.5 834.8 822.5 836.6 822.1 838.4 820.7 839 820.7 839.6 818.7 840.2 816.6 840.8 818.1 841.4 819.3 842 819.1 843.8 818.3 845.6 817.2 847.4 816.1 849.2 815.3 851 814.4 852.8 813.6 854.6 812.6 856.4 811.4 858.2 810.6 858.8 810.3 859.4 807.3 860 804 860.6 806.7 861.2 809.3 861.8 808.7 863 808.1 863.6 806.9 864.2 805.3 864.8 803.7 865.4 804.7 866 804.2 866.6 805.3 867.2 806 869 805.1 870.2 804.5 870.8 802.9 871.4 801 872 802.3 872.6 803.1 874.4 802.4 876.2 801.5 878 800.4 878.6 799.2 879.2 797.6 879.8 798.6 880.4 799.3 881.6 798.8 882.2 798.3 882.8 797 883.4 795.3 884 796.4 884.6 797.3 885.2 797 887 796.1 888.8 795.2 890.6 794.4 892.4 793.2 894.2 792.3 896 791.4 897.8 790.5 899 790.1 899.6 788.5 900.2 786.8 900.8 785 901.4 786.2 902 787.3 902.6 787.2 903.2 786.3 903.8 786.7 904.4 787 905 786.9 906.8 786.3 908.6 785.5 910.4 784.2 911.6 783.8 912.2 783 912.8 782 913.4 781 914 781.5 914.6 781.9 915.2 782.1 915.8 781.6 916.4 778.4 917 774.9 917.6 777.8 918.2 776.8 918.8 777.8 919.4 778.9 920 777.7 920.6 775.1 921.2 775.1 921.8 772.7 922.4 774.5 923 776.4 923.6 778 924.8 777.5 925.4 776.5 926 775.4 926.6 774.3 927.2 774.8 927.8 774.3 928.4 773.1 929 771.6 929.6 773.3 930.2 774.5 930.8 773.6 931.4 772.3 932 770.7 932.6 767 933.2 763.3 933.8 766.4 934.4 769.5 935 765.9 935.6 762.2 936.2 765.3 936.8 768.4 937.4 770.7 938 770.7 939.2 770.2 941 769.4 942.8 768.4 944.6 767.7 945.2 766.9 945.8 764.7 946.4 761.6 947 758.6 947.6 761.1 948.2 763.5 948.8 765.5 950 765.2 950.6 763.6 951.2 761.8 951.8 760 952.4 761.2 953 762.4 953.6 763.3 954.2 762.6 954.8 761.5 955.4 760.5 956 760.9 956.6 759.7 957.2 760.7 957.8 761.5 959 760.7 960.8 760.1 961.4 759.8 962 756.5 962.6 753.2 963.2 756 963.8 758.3 964.4 757.2 965 755.5 965.6 753.9 966.2 755 966.8 755.1 967.4 753.6 968 751.7 968.6 746.3 969.2 751.1 969.8 755.8 971 754.9 971.6 752.4 972.2 749.5 972.8 751.9 973.4 754.1 975.2 753.1 975.8 749.3 976.4 745.2 977 748.7 977.6 752.1 978.2 748.5 978.8 744.8 979.4 747.9 980 751.1 980.6 750.5 982.4 749.9 984.2 748.8 984.8 743.8 985.4 738.5 986 743.3 986.6 747.8 987.2 745.5 987.8 743 988.4 744.9 989 745.7 989.6 744.2 990.2 744.2 990.8 741.8 991.4 743.7 992 745.1 993.2 744.9 995 743.9 995.6 743.8 996.2 742.3 996.8 740.6 997.4 738.9 998 740 998.6 741.2 999.2 741.9 999.8 741.8 1000.4 740.3 1001 738.6 1001.6 736.9 1002.2 738 1002.8 738.4 1003.4 739.2 1004 739.9 1004.6 737.4 1005.2 734.6 1005.8 735.4 1006.4 736.6 1007 736.1 1007.6 733.1 1008.2 730.2 1008.8 732.6 1009.4 735 1010 736.4 1010.6 735.1 1011.2 735.8 1011.8 736.1 1013 735.8 1014.8 734.8 1016.6 734.5 1018.4 733.5 1020.2 732.8 1022 731.7 1022.6 731.2 1023.2 730.3 1023.8 728.9 1024.4 726.2 1025 723.5 1025.6 722.1 1026.2 724.6 1026.8 727.2 1027.4 729.4 1029.2 728.8 1029.8 727.8 1030.4 726.7 1031 726.4 1031.6 725.3 1032.2 723.3 1032.8 723.7 1033.4 724.7 1034 725.7 1034.6 726.3 1036.4 725.5 1038.2 724.8 1039.4 724.3 1040 719.3 1040.6 714.1 1041.2 718.8 1041.8 721.5 1042.4 719.1 1043 716.2 1043.6 719.4 1044.2 722.3 1045.4 722 1046.6 721.4 1047.2 719.9 1047.8 718.2 1048.4 716.6 1049 716 1049.6 711.1 1050.2 715.5 1050.8 718.4 1051.4 716.7 1052 715.1 1052.6 716.2 1053.2 717.4 1053.8 718.2 1054.4 718.1 1056.2 717.1 1058 716.5 1058.6 716.4 1059.2 714.4 1059.8 712.2 1060.4 712.4 1061 712.1 1061.6 711.1 1062.2 708.8 1062.8 710.6 1063.4 712.5 1064 713.9 1065.2 713.6 1065.8 713.3 1066.4 711.5 1067 709.4 1067.6 711 1068.2 711.4 1068.8 710.1 1069.4 710.2 1070 708.1 1070.6 709.7 1071.2 711 1071.8 709.8 1072.4 708.3 1073 706.9 1073.6 707.8 1074.2 708.8 1074.8 708.9 1075.4 707.7 1076 706.6 1076.6 707.2 1077.2 707.9 1077.8 708.2 1079 707.9 1079.6 706.9 1080.2 702.9 1080.8 697.9 1081.4 702.4 1082 705.6 1082.6 704.2 1083.2 705.1 1083.8 706 1085 705.1 1086.8 704.7 1088 704.2 1088.6 702.9 1089.2 698.8 1089.8 693.5 1090.4 698.3 1091 701.6 1091.6 700.6 1092.2 701.1 1092.8 701 1093.4 699.5 1094 698 1094.6 699 1095.2 700 1095.8 698.5 1096.4 699.5 1097 700.2 1097.6 700.1 1098.8 699.4 1099.4 698.4 1100 696.2 1100.6 692.8 1101.2 689.4 1101.8 692.3 1102.4 695.1 1103 697.5 1104.8 696.8 1105.4 693.2 1106 689.1 1106.6 692.7 1107.2 695.8 1108.3 695.3 1108.9 692.1 1109.5 688.5 1110.1 684.9 1110.7 688 1111.3 691.1 1111.9 693.6 1112.5 693.5 1113.1 692.5 1113.7 691.1 1114.3 692 1114.9 691.8 1115.5 690.3 1116.1 691.3 1116.7 692.1 1117.3 691.6 1119.1 690.8 1119.7 690.8 1120.3 687.7 1120.9 684.4 1121.5 687.2 1122.1 688.6 1122.7 687.6 1123.3 688.1 1123.9 688.2 1124.5 686.9 1125.1 685.7 1125.7 685.1 1126.3 686 1126.9 686.8 1127.5 685.6 1128.1 686.4 1128.7 685.4 1129.3 683.4 1129.9 681.4 1130.5 682.3 1131.1 678 1131.7 675.9 1132.3 677.6 1132.9 680.1 1133.5 682.5 1134.1 684.7 1134.7 684.4 1135.3 683 1135.9 681.4 1136.5 682.5 1137.1 683.3 1137.7 683.2 1138.3 680 1138.9 676.6 1139.5 679.5 1140.1 681 1140.7 679.7 1141.3 680.7 1141.9 681.3 1142.5 681.3 1143.1 681 1143.7 676.2 1144.3 671.2 1144.9 675.7 1145.5 679.7 1146.1 678.6 1146.7 677 1147.3 675.5 1147.9 674.6 1148.5 672.1 1149.1 674.1 1149.7 676.2 1150.3 678.1 1151.5 677.3 1153.3 676.6 1153.9 676.3 1154.5 673.1 1155.1 669.5 1155.7 665.9 1156.3 669 1156.9 672.1 1157.5 675.1 1158.1 674.7 1158.7 673.4 1159.3 671.8 1159.9 672.9 1160.5 671.3 1161.1 669.7 1161.7 670.8 1162.3 671.9 1162.9 672.8 1164.1 672.5 1165.9 671.7 1167.7 670.7 1168.3 668.4 1168.9 665.8 1169.5 667.9 1170.1 668.5 1170.7 666.7 1171.3 668.1 1171.9 668.9 1172.5 668.4 1173.1 667.5 1173.7 666.5 1174.3 664.9 1174.9 666.4 1175.5 667.5 1176.7 667.4 1178.5 666.3 1179.1 665.6 1179.7 664.5 1180.3 665.1 1180.9 665.7 1181.5 663 1182.1 660.3 1182.7 662 1183.3 661.5 1183.9 662.9 1184.5 662.4 1185.1 660.3 1185.7 658.2 1186.3 659.8 1186.9 661.5 1187.5 662.8 1189.3 662.4 1191.1 661.5 1191.7 660.3 1192.3 658.8 1192.9 659.8 1193.5 659.2 1194.1 658.2 1194.7 658.7 1195.3 658.4 1195.9 657.4 1196.5 657.6 1197.1 657.7 1197.7 655.7 1198.3 655.2 1198.9 653.2 1199.5 654.8 1200.1 655.1 1200.7 653.1 1201.3 650.4 1201.9 652.6 1202.5 654.8 1203.1 656 1203.7 654.7 1204.3 653.8 1204.9 652.4 1205.5 653.5 1206.1 654.6 1206.7 653.3 1207.3 650.7 1207.9 648.1 1208.5 650.2 1209.1 652.4 1209.7 654 1210.9 654 1212.7 653.1 1214.5 652.5 1216.3 651.7 1218.1 651 1218.7 650 1219.3 648.8 1219.9 649.6 1220.5 650.2 1221.7 649.6 1222.3 646.4 1222.9 643 1223.5 646 1224.1 648.9 1225.3 648.5 1225.9 648 1226.5 647.1 1227.1 645.9 1227.7 644.8 1228.3 645.5 1228.9 646.2 1229.5 646.9 1230.7 646.4 1232.5 645.5 1233.1 644.3 1233.7 642.8 1234.3 642.2 1234.9 642.9 1235.5 643.7 1236.1 644.1 1237.3 643.5 1237.9 638.7 1238.5 633.5 1239.1 638.3 1239.7 640.3 1240.3 639.3 1240.9 639.4 1241.5 640.2 1242.1 640.9 1242.7 641.3 1243.3 641.3 1245.1 640.5 1246.9 639.9 1248.7 639.2 1250.5 638.7 1252.3 637.8 1253.5 637.5 1254.1 636.8 1254.7 635.8 1255.3 634.8 1255.9 635.3 1256.5 635.8 1257.1 634.4 1257.7 632.1 1258.3 629.9 1258.9 631.6 1259.5 630.7 1260.1 628.2 1260.7 630.3 1261.3 626.8 1261.9 630.6 1262.5 633.3 1263.1 632.1 1263.7 632.4 1264.3 630.8 1264.9 629.2 1265.5 630.4 1266.1 631.6 1266.7 632.6 1267.3 632.4 1267.3 637.9 1266.7 637 1266.1 636.6 1265.5 639.3 1264.9 642.4 1264.3 641.5 1263.7 640.6 1263.1 642.7 1262.5 641.1 1261.9 639.7 1261.3 639 1260.7 638.5 1259.5 638.7 1258.9 639.8 1258.3 641.4 1257.7 643.8 1257.1 646.3 1256.5 644.3 1255.9 642.4 1255.3 645 1254.7 643.8 1254.1 647.4 1253.5 651 1252.9 647.9 1252.3 644.8 1251.7 641.7 1251.1 642.1 1250.5 643.8 1249.9 645.8 1249.3 647.7 1248.7 646.2 1248.1 649.1 1247.5 652.4 1246.9 649.6 1246.3 646.8 1245.7 647 1245.1 646.2 1244.5 645.4 1243.9 644.7 1243.3 645 1241.5 645.8 1239.7 646.5 1239.1 647.7 1238.5 649.1 1237.9 650.3 1237.3 653.8 1236.7 657.4 1236.1 654.3 1235.5 651.2 1234.9 648.4 1234.3 648.8 1233.7 650.9 1233.1 653.6 1232.5 656.2 1231.9 655.6 1231.3 659 1230.7 656.1 1230.1 653.1 1229.5 652.1 1228.9 654.4 1228.3 656.6 1227.7 654.8 1227.1 653.1 1226.5 651.3 1225.3 651.9 1223.5 652.7 1222.9 655.1 1222.3 657.9 1221.7 660.6 1221.1 658.3 1220.5 656.1 1219.9 654.2 1219.3 654.3 1218.7 654.9 1218.1 655.8 1217.5 656.7 1216.9 656.3 1216.3 657.8 1215.7 656.7 1215.1 658.1 1214.5 659.5 1213.9 658.5 1213.3 657.6 1212.7 656.9 1210.9 657.4 1210.3 657.5 1209.7 659 1209.1 660.5 1208.5 659.5 1207.9 658.4 1207.3 661.8 1206.7 665.2 1206.1 662.3 1205.5 661.1 1204.9 660.7 1204.3 660.4 1203.7 660.8 1203.1 661.8 1202.5 662.7 1201.9 662.2 1201.3 666 1200.7 671.2 1200.1 666.5 1199.5 664.5 1198.9 663.3 1198.3 663.2 1197.7 664.5 1197.1 665.8 1196.5 667.9 1195.9 673.1 1195.3 668.3 1194.7 665.3 1194.1 664.7 1193.5 664.3 1192.9 664.3 1191.7 665.1 1191.1 665.8 1190.5 666.8 1189.9 667.8 1189.3 667.2 1188.7 668.9 1188.1 672 1187.5 669.3 1186.9 670.4 1186.3 674.5 1185.7 670.9 1185.1 669.7 1184.5 668.8 1183.9 668.1 1182.1 668.8 1181.5 669.2 1180.9 669.7 1180.3 670.6 1179.7 671.5 1179.1 671.1 1178.5 670.6 1177.9 670.6 1176.7 670.7 1174.9 671.6 1173.1 672.4 1172.5 675.6 1171.9 679 1171.3 682.5 1170.7 679.5 1170.1 676.6 1169.5 676.4 1168.9 675.7 1168.3 675 1167.7 676.9 1167.1 679.8 1166.5 677.4 1165.9 678.8 1165.3 680.9 1164.7 679.3 1164.1 677.7 1163.5 676.2 1162.9 676.4 1162.3 678.2 1161.7 680.2 1161.1 678.7 1160.5 677.5 1159.9 680.2 1159.3 683.1 1158.7 680.7 1158.1 678.3 1156.9 679.1 1156.3 680.6 1155.7 684.2 1155.1 689.5 1154.5 684.7 1153.9 680.9 1153.3 680.5 1152.7 681.4 1152.1 684.1 1151.5 687.6 1150.9 691.2 1150.3 688.1 1149.7 685 1149.1 681.9 1147.9 682.8 1146.1 683.6 1144.3 684 1142.5 684.9 1141.9 686.8 1141.3 688.8 1140.7 690.9 1140.1 689.3 1139.5 688.5 1138.9 687.5 1138.3 686.5 1137.7 689.2 1137.1 692 1136.5 689.7 1135.9 687.7 1135.3 688.1 1133.5 688.8 1132.9 689.7 1132.3 691 1131.7 692.3 1131.1 691.5 1130.5 691.7 1129.9 691.3 1129.3 690.8 1128.7 690.4 1128.1 691.1 1127.5 691.1 1126.9 693.3 1126.3 695.6 1125.7 693.8 1125.1 695.7 1124.5 694.1 1123.9 692.7 1123.3 693.1 1122.7 694.1 1122.1 695.5 1121.5 694.6 1120.9 693.9 1119.7 694.4 1119.1 698.4 1118.5 702.7 1117.9 698.9 1117.3 695.5 1116.7 697.1 1116.1 698.9 1115.5 700.8 1114.9 699.4 1114.3 699.3 1113.7 701 1113.1 699.8 1112.5 698.7 1111.9 697.7 1110.1 698.5 1109.5 698.6 1108.9 702 1108.3 705.4 1107.7 702.5 1107.2 701.8 1106.6 702.4 1106 705.3 1105.4 702.9 1104.8 700.8 1103.6 701.3 1103 701.9 1102.4 702.8 1101.8 704.4 1101.2 707.2 1100.6 704.9 1100 704 1099.4 704.6 1098.8 703.9 1098.2 704.7 1097.6 706.5 1097 708.2 1096.4 707 1095.8 706.1 1095.2 708.2 1094.6 706.6 1094 705.3 1093.4 705.6 1092.8 707.3 1092.2 709.3 1091.6 711.4 1091 709.9 1090.4 708.5 1089.8 710.7 1089.2 712.9 1088.6 711.2 1088 715.2 1087.4 711.6 1086.8 712.3 1086.2 713.6 1085.6 716.5 1085 714.5 1084.4 711.9 1083.8 714.2 1083.2 713.6 1082.6 715.8 1082 714.1 1081.4 712.3 1080.8 711 1079.6 711.5 1077.8 711.9 1076 712.8 1074.2 713.5 1073.6 714.4 1073 715.5 1072.4 716.5 1071.8 716 1071.2 715.4 1070.6 715.2 1070 717.3 1069.4 719.7 1068.8 722.2 1068.2 720.2 1067.6 718.3 1067 716.5 1066.4 718.7 1065.8 721.1 1065.2 723.5 1064.6 721.6 1064 719.7 1063.4 718.2 1062.8 721.3 1062.2 724.8 1061.6 728.3 1061 725.3 1060.4 722.3 1059.8 720 1059.2 724.6 1058.6 729.9 1058 725.1 1057.4 723 1056.8 721.9 1056.2 721 1054.4 721.8 1052.6 722.7 1050.8 723.1 1049 724.3 1047.8 724.5 1047.2 725.9 1046.6 727.4 1046 729 1045.4 728 1044.8 726.9 1044.2 726.1 1043.6 726.5 1041.8 726.9 1040.6 727.5 1040 729.5 1039.4 731.7 1038.8 730 1038.2 730.5 1037.6 731.9 1037 731.1 1036.4 730.2 1035.8 729.5 1035.2 730.1 1034.6 731.4 1034 733.2 1033.4 734 1032.8 733.1 1032.2 732.2 1031.6 731.7 1031 731.7 1029.2 732.5 1028.6 735.3 1028 738.3 1027.4 741.4 1026.8 738.8 1026.2 736.3 1025.6 734.1 1025 736.4 1024.4 739.1 1023.8 737 1023.2 736 1022.6 737.3 1022 736.5 1021.4 736.1 1020.2 736.2 1019.6 737.5 1019 738.9 1018.4 740.3 1017.8 739.5 1017.2 739.4 1016.6 741.7 1016 740.4 1015.4 739.9 1014.8 739.3 1014.2 738.9 1013 739.4 1012.4 740 1011.8 741 1011.2 742.4 1010.6 743.7 1010 743.9 1009.4 745.7 1008.8 744.4 1008.2 744.1 1007.6 747 1007 749.9 1006.4 747.5 1005.8 745.2 1005.2 743.1 1004 743.7 1002.2 744.5 1001.6 746 1001 747.9 1000.4 749.7 999.8 748.4 999.2 747.6 998.6 749.9 998 750.9 997.4 748.8 996.8 748.2 996.2 747.7 995.6 747.7 995 747.7 993.2 748.3 991.4 749.2 989.6 750.4 987.8 751.1 987.2 752.6 986.6 754.4 986 753.1 985.4 753.8 984.8 755 984.2 754.4 983.6 753.9 983 755.2 982.4 754.4 981.8 754.2 981.2 755.2 980.6 756.1 980 755.7 979.4 755.4 978.8 755.4 977 756 975.8 756.4 975.2 758.1 974.6 759.8 974 761.5 973.4 760.3 972.8 759.2 972.2 759.5 971.6 761.3 971 763 970.4 761.8 969.8 760.7 969.2 760.7 968.6 762.1 968 761.2 967.4 762.5 966.8 763.8 966.2 763.1 965.6 764.6 965 763.2 964.4 762 962.6 762.9 960.8 763.8 960.2 763.9 959.6 765.3 959 766.8 958.4 766.5 957.8 768.6 957.2 767.1 956.6 767.8 956 770.3 955.4 768.3 954.8 766.8 954.2 769.3 953.6 772.1 953 775 952.4 772.7 951.8 772.5 951.2 770.4 950.6 768.5 950 770.3 949.4 772.2 948.8 770.9 948.2 771.1 947.6 772.9 947 771.7 946.4 773.5 945.8 776.8 945.2 774 944.6 774.4 944 773.7 943.4 772.9 942.8 772.5 942.2 774 941.6 775.9 941 774.6 940.4 773.8 939.2 774.1 937.4 774.9 936.8 776.1 936.2 777.4 935.6 778.7 935 778 934.4 777.3 933.8 780.3 933.2 784.3 932.6 780.8 932 777.6 930.2 778.4 928.4 779.4 927.8 779.5 927.2 781.5 926.6 783.5 926 782 925.4 781 924.8 781.3 923.6 782 923 782.6 922.4 783.8 921.8 784.9 921.2 784.3 920.6 783.8 920 784.9 919.4 786 918.8 786.1 918.2 787.5 917.6 786.1 917 785.2 915.8 785.5 914.6 786.2 914 787.7 913.4 789.5 912.8 788.3 912.2 787.3 910.4 788.5 909.8 791.7 909.2 795.5 908.6 794.4 908 791.9 907.4 789.9 906.8 790.1 905 791.1 904.4 791.2 903.8 792.1 903.2 793.3 902.6 794.5 902 793.9 901.4 793.3 900.8 793.2 899.6 793.6 897.8 794.6 896 795.3 894.8 796 894.2 797.3 893.6 799 893 798.3 892.4 800.3 891.8 802.2 891.2 800.9 890.6 799.5 890 798.1 889.4 798.5 888.8 799.7 888.2 800.9 887.6 801.6 887 801.1 886.4 800.7 885.8 800.7 885.2 801 883.4 801.6 881.6 802.5 879.8 803.6 878.6 804.1 878 807.2 877.4 810.6 876.8 813.9 876.2 811.2 875.6 808.4 875 806.8 874.4 808.3 873.8 809.7 873.2 808.9 872.6 808.1 872 807.5 870.8 807.8 869 808.9 867.2 809.8 865.4 810.6 864.2 811.5 863.6 815.2 863 819.3 862.4 815.9 861.8 812.5 860 813.6 858.2 814.7 856.4 815.4 854.6 816.2 854 816.8 853.4 817.7 852.8 818.9 852.2 820.1 851.6 819.5 851 818.9 850.4 818.6 849.8 818.9 849.2 821.3 848.6 824.1 848 822 847.4 821 846.8 822.5 846.2 824 845.6 823.1 845 822.3 844.4 821.8 843.8 821.7 842 822.8 840.2 823.6 838.4 825 836.6 825.5 834.8 826.5 833 827.7 831.2 828.4 829.4 829.5 828.8 829.9 828.2 830.5 827.6 831.9 827 833.9 826.4 835.9 825.8 838 825.2 841.7 824.6 838.6 824 835.5 823.4 832.8 822.2 833.3 821.6 835.8 821 838.6 820.4 836.4 819.8 836.8 819.2 838.3 818.6 837.4 818 836.5 817.4 835.7 816.8 836.2 815 836.9 813.2 837.9 812.6 839.5 812 841.3 811.4 840.1 810.8 841.5 810.2 840.6 809.6 839.7 809 840.3 808.4 842.8 807.8 845.6 807.2 843.5 806.6 842.4 806 843.8 805.4 846.3 804.8 848.7 804.2 846.9 803.6 846.3 803 850.1 802.4 846.9 801.8 845.4 801.2 847.3 800.6 849.3 800 848 799.4 846.8 798.8 846.3 798.2 845.9 797 846.8 796.4 847.2 795.8 848 795.2 849.4 794.6 850.5 794 853 793.4 850.8 792.8 848.7 792.2 851.7 791.6 854.8 791 852.4 790.4 850.2 789.8 850.7 788 851.7 787.5 852.6 786.9 853.9 786.3 855.2 785.7 854.5 785.1 853.9 784.5 853.6 782.7 854.5 780.9 855.3 779.1 856.4 778.5 856.6 777.9 860 777.3 863.5 776.7 860.7 776.1 859.7 775.5 859.1 774.9 863.6 774.3 869.1 773.7 864.3 773.1 859.8 771.9 860.5 770.1 861.3 769.5 862.9 768.9 864.6 768.3 866.3 767.7 865.3 767.1 864.2 766.5 865 765.9 866.2 765.3 866.6 764.7 866.4 764.1 867.9 763.5 867.1 762.9 866.3 762.3 865.7 761.7 866.8 761.1 868.1 760.5 867.5 759.9 867.2 759.3 867.3 758.1 868.2 757.5 869.2 756.9 870.6 756.3 869.9 755.7 870.7 755.1 872.5 754.5 871.4 753.9 873.2 753.3 876.5 752.7 879.8 752.1 877.2 751.5 874.5 750.9 871.9 750.3 873.3 749.7 874.7 749.1 874 748.5 873.4 747.9 873.7 747.3 874.6 746.7 875.6 746.1 876.6 745.5 876.3 744.9 876.9 744.3 878.9 743.7 877.6 743.1 876.4 742.5 877.6 741.9 879.1 741.3 881.5 740.7 884 740.1 882.2 739.5 880.5 738.9 879.8 738.3 881.2 737.7 882.6 737.1 881.9 736.5 882.1 735.9 884.5 735.3 882.8 734.7 885 734.1 887.2 733.5 885.6 732.9 885.7 732.3 889.7 731.7 886.7 731.1 889 730.5 887.4 729.9 885.8 729.3 884.3 728.7 884.8 728.1 885.6 727.5 886.6 726.9 887.6 726.3 888 725.7 890.4 725.1 888.7 724.5 887.4 723.3 887.8 721.5 889.1 719.7 890 717.9 891.3 716.1 891.9 715.5 892.4 714.9 894.5 714.3 896.7 713.7 895.2 713.1 894 712.5 894.1 711.9 895.9 711.3 897.8 710.7 899.7 710.1 898.5 709.5 901 708.9 906.5 708.3 901.7 707.7 900.3 707.1 898.9 706.5 900.1 705.9 899.6 705.3 899.1 704.7 898.9 703.5 899.7 701.7 900.6 699.9 901.9 698.1 903 696.3 903.8 694.5 905 692.7 905.8 690.9 907 689.7 908.1 689.1 910.1 688.5 912.6 687.9 915.2 687.3 913.4 686.7 912.6 686.1 916.2 685.5 919.7 684.9 916.9 684.3 914.1 683.7 913.3 683.1 914.8 682.5 914.1 681.9 913.4 681.3 912.9 680.1 914 678.9 914.7 678.3 915.3 677.7 916.4 677.1 917.5 676.5 917.1 675.9 916.8 675.3 916.6 674.7 916.9 672.9 918.1 672.3 918.5 671.7 921.6 671.1 924.8 670.5 928.1 669.9 925.6 669.3 923 668.7 920.6 667.5 921.3 666.9 922 666.3 926.1 665.7 930.5 665.1 927.7 664.5 927.5 663.9 926.4 663.3 925.3 662.7 924.6 662.1 924.7 660.3 925.8 658.5 926.8 657.9 927.5 657.3 929.3 656.7 931.5 656.1 930 655.5 929 654.9 929.1 654.3 930 653.7 931 653.1 932 652.5 931.7 651.9 931.5 651.3 932.3 650.7 933.8 650.1 933.4 649.5 935.2 648.9 937 648.3 935.9 647.7 938.5 647.1 936.3 646.5 937.2 645.9 936.1 645.3 937.3 644.7 940 644.1 938 643.5 936.1 642.3 937.2 641.7 937.2 641.1 939 640.5 940.9 639.9 939.8 639.3 938.8 638.7 939.4 638.1 939.7 637.5 940.6 636.9 941.8 636.3 943.1 635.7 942.6 635.1 942.1 634.5 943.4 633.9 944.7 633.3 944.2 632.7 943.7 632.1 946.2 631.5 949.6 630.9 953.1 630.3 950.4 629.7 947.7 629.1 946.4 628.5 947.5 627.9 947.2 627.3 946.9 626.7 946.7 626.1 947.2 624.3 948.6 622.5 949.6 621.3 950.4 620.7 951.1 620.1 952.2 619.5 953.2 618.9 953.3 618.3 955.8 617.7 959.9 617.1 956.6 616.5 953.4 615.3 954.3 614.7 955.9 614.1 957.9 613.5 959.8 612.9 958.7 612.3 957.6 611.7 956.5 611.1 958.4 610.5 960.4 609.9 960.3 609.3 962 608.7 961.8 608.1 963.8 607.5 962.6 606.9 961.4 606.3 961.2 605.7 962.7 605.1 962.1 604.5 961.7 602.7 962.8 602.1 966.5 601.5 970.4 600.9 967.4 600.3 966.3 599.7 965.8 599.1 967.5 598.5 970.1 597.9 972.9 597.3 970.5 596.7 968.9 596.1 970.5 595.5 974 594.9 973.3 594.3 974.9 593.7 973.3 593.1 971.8 592.5 971.5 591.9 973.1 591.3 976.1 590.7 974.5 590.1 973.8 589.5 973.3 588.9 973.1 588.3 976.3 587.7 979.8 587.1 977.2 586.5 975.8 585.9 977.6 585.3 979.1 584.7 983.1 584.1 987.2 583.5 984.1 582.9 980.9 582.3 979 581.7 980.7 581.1 982.4 580.5 983.7 579.9 981.9 579.3 980.3 578.7 981.8 578.1 983.5 577.5 982.7 576.9 982.1 576.3 983 575.7 985.6 575.1 988.8 574.5 992.1 573.9 989.8 573.3 987.9 572.7 987.3 572.1 987.1 571.5 989 570.9 988.9 570.3 991.8 569.7 989.9 569.1 991.4 568.5 993.7 567.9 992.4 567.3 991.9 566.7 995 566.1 992.9 565.5 991.3 564.9 991.4 563.1 992.7 561.3 994.5 560.7 994.6 560.1 997 559.5 999.4 558.9 998.8 558.3 1000.8 557.7 999.2 557.1 997.9 555.9 998.9 554.1 1000.1 552.9 1001.2 552.3 1002.6 551.7 1004.2 551.1 1005.9 550.5 1005.2 549.9 1004.6 549.3 1006.2 548.7 1007.7 548.1 1007.2 547.5 1009.2 546.9 1007.9 546.3 1009.3 545.7 1010.1 545.1 1013.7 544.5 1017.4 543.9 1014.7 543.3 1012.1 542.7 1009.9 542.1 1010.1 541.5 1012.1 540.9 1014.2 540.3 1014.8 539.7 1014.9 539.1 1014.5 538.5 1014.1 537.9 1018.6 537.3 1024 536.7 1019.6 536.1 1016.4 535.5 1018.1 534.9 1017.5 534.3 1019.2 533.7 1021 533.1 1020.3 532.5 1020.4 531.9 1021.9 531.3 1021.4 530.7 1021 530.1 1022.6 529.5 1025.1 528.9 1023.7 528.3 1022.2 527.7 1022.9 527.1 1026.2 526.5 1029.7 525.9 1027.3 525.3 1025.4 523.5 1026.7 521.7 1028.7 519.9 1030.5 518.1 1032.2 517.5 1032.6 516.9 1034 516.3 1035.6 515.7 1037.3 515.1 1038.8 514.5 1043.5 513.9 1040 513.3 1036.5 512.7 1037.2 511.5 1038.3 510.9 1040.8 510.3 1043.4 509.7 1041.9 509.1 1041 507.3 1042.5 505.5 1044.3 504.9 1044.9 504.3 1046.2 503.7 1047.7 503.1 1049.2 502.5 1049 501.9 1048.7 501.3 1048.9 500.1 1050.2 499.5 1053.4 498.9 1057.1 498.3 1054.7 497.7 1052.4 496.5 1053.9 494.7 1055.8 492.9 1058 491.1 1059.8 489.3 1062 487.5 1064 485.7 1066.1 485.1 1066.5 484.5 1071 483.9 1075.7 483.3 1080.3 482.7 1081 482.1 1077.8 481.5 1076.9 480.9 1076.8 480.3 1075.6 479.7 1076 479.1 1080.2 478.5 1077.5 477.9 1077.7 477.3 1076.9 476.7 1078.4 476.1 1081.4 475.5 1084.4 474.9 1082.8 474.3 1081.3 473.7 1082.9 473.1 1086.9 472.5 1088.7 471.9 1093.2 471.3 1090.1 470.7 1087.1 470.1 1085.9 469.5 1089.1 468.9 1094.1 468.3 1090.5 467.7 1091.6 467.2 1094.6 466.6 1093 466 1091.5 465.4 1090.1 464.2 1091.5 463.6 1092.6 463 1094.2 462.4 1097.3 461.8 1101.7 461.2 1106.2 460.6 1103.2 460 1102.8 459.4 1102.2 458.8 1101.7 458.2 1101.2 457.6 1102.9 457 1102 456.4 1101.1 455.2 1102.7 454.6 1104.3 454 1106.1 453.4 1107.9 452.8 1107.6 452.2 1110.6 451.6 1113.5 451 1112.1 450.4 1110.6 449.8 1111.7 449.2 1114.9 448.6 1113.2 448 1111.7 446.2 1113.8 444.4 1116.1 442.6 1118.3 442 1121.5 441.4 1124.8 440.8 1123 440.2 1121.7 439 1123.1 437.2 1125.2 435.4 1127.2 433.6 1129.7 432.4 1131 431.8 1132.6 431.2 1134.3 430.6 1136 430 1135.7 429.4 1135.5 428.8 1136.7 428.2 1138.8 427.6 1140.9 427 1140.3 426.4 1139.6 425.8 1139.3 425.2 1140.1 424.6 1145.4 424 1151.1 423.4 1146.9 422.8 1145.6 422.2 1147.8 421.6 1147.1 421 1146.3 420.4 1145.8 419.2 1147.3 418.6 1147.9 418 1151.1 417.4 1154.5 416.8 1154.4 416.2 1153.6 415.6 1152.8 415 1154.1 414.4 1155.1 413.8 1157 413.2 1156.5 412.6 1156.1 412 1156.8 411.4 1158.7 410.8 1158.3 410.2 1158 408.4 1160.5 407.8 1164.3 407.2 1168.5 406.6 1172.7 406 1169.9 405.4 1167.2 404.8 1164.9 403 1166.7 401.8 1168.3 401.2 1170.1 400.6 1172.2 400 1174.2 399.4 1173.7 398.8 1175.7 398.2 1175.1 397.6 1175.6 397 1177.5 396.4 1177.1 395.8 1177.7 395.2 1178.8 394.6 1182.2 394 1180.3 393.4 1183.2 392.8 1181.5 392.2 1180.2 391 1181.6 390.4 1187.4 389.8 1193.6 389.2 1188.9 388.6 1186.9 388 1186.7 387.4 1186.5 386.8 1186.8 386.2 1187.5 385.6 1189.1 385 1191.1 384.4 1190.6 383.8 1190.4 383.2 1190.9 382.6 1193.5 382 1196.2 381.4 1199.5 380.8 1197.3 380.2 1200.5 379.6 1207.3 379 1204.2 378.4 1202.2 377.8 1200.1 377.2 1200.9 376.6 1200.2 376 1199.6 375.4 1200.5 374.8 1202 374.2 1203.6 373.6 1205.3 373 1205.9 372.4 1209.3 371.8 1212.7 371.2 1213.6 370.6 1218.4 370 1215 369.4 1211.7 368.8 1208.5 367 1211 365.8 1212.5 365.2 1214.3 364.6 1216.5 364 1218.4 363.4 1223.3 362.8 1219.9 362.2 1216.8 361.6 1217.4 360.4 1219 359.8 1221.9 359.2 1225 358.6 1224.2 358 1223.3 357.4 1222.4 356.8 1224.2 356.2 1226.7 355.6 1230.4 355 1228.2 354.4 1226.4 352.6 1228.6 350.8 1230.5 350.2 1231.4 349.6 1234.1 349 1237.1 348.4 1240 347.8 1238.5 347.2 1237.1 346.6 1235.9 345.4 1237.2 343.6 1239.7 341.8 1242 340 1244.1 338.8 1245.3 338.2 1252 337.6 1258.8 337 1253.4 336.4 1251.3 335.8 1250.7 335.2 1252.6 334.6 1252.9 334 1253.2 333.4 1253.8 332.8 1254.7 332.2 1257.8 331.6 1261.3 331 1259.9 330.4 1260.9 329.8 1263.2 329.2 1263 328.6 1266.7 328 1272.9 327.4 1276.2 326.8 1278.2 326.2 1272.4 325.6 1269.8 325 1270.3 324.4 1271.6 323.8 1273 323.2 1272.9 322.6 1272.9 322 1273.1 321.4 1275.6 320.8 1278.4 320.2 1277.7 319.6 1278.2 319 1280.4 318.4 1280.2 317.8 1280.2 316.6 1282 316 1285.8 315.4 1289.5 314.8 1287.8 314.2 1286.2 313.6 1287.2 313 1290 312.4 1292.8 311.8 1295.7 311.2 1294.9 310.6 1296.9 310 1302.6 309.4 1298.9 308.8 1299.5 308.2 1299.8 307.6 1299.1ZM1268.3 626.5 1270.1 620.1 1271.3 616.5 1271.9 611.5 1272.5 606.5 1273.1 607.4 1273.7 607.9 1275.5 602.1 1277.3 595.9 1279.1 589.8 1280.9 583.4 1282.7 577.2 1284.5 571 1286.3 565 1288.1 558.5 1289.9 552.3 1291.7 546.3 1293.5 540.3 1295.3 533.8 1295.9 532.2 1296.5 527.6 1297.1 523.1 1297.7 523.5 1298.3 523.7 1298.8 521.6 1300 517.4 1300.6 513.3 1301.2 508.8 1301.8 509.2 1302.4 509.3 1303 507.2 1303.6 498.1 1304.2 488.7 1304.8 494 1305.4 499.1 1306 497.2 1307.8 491 1309.6 484.6 1311.4 478.4 1312 474.8 1312.6 470.8 1313.2 470.7 1313.8 470.5 1314.4 468.3 1315 464.6 1315.6 460.7 1316.2 460.5 1316.8 460.3 1318.6 453.9 1320.4 447.6 1321.6 443.4 1322.2 434.4 1322.8 424.9 1323.4 430.3 1324 434.1 1324.6 433.5 1325.8 429 1327.6 422.9 1329.4 416.8 1331.2 410.8 1333 404.3 1334.8 398.5 1336.6 392.3 1338.4 386 1340.2 379.8 1342 373.6 1343.2 369.5 1343.8 365.8 1344.4 361.9 1345 361.7 1345.6 361 1347.4 355.2 1349.2 348.8 1351 342.3 1352.8 335.8 1354.6 329.5 1356.4 323.1 1358.2 316.9 1359.9 310.2 1361.7 303.7 1363.5 297.3 1365.3 291.2 1367.1 284.7 1368.9 278.2 1370.7 272 1371.3 263.4 1371.9 254.6 1372.5 259.2 1373.1 263.5 1374.3 259.4 1374.9 257.2 1375.5 251 1376.1 244.4 1376.7 246.8 1377.3 249.2 1377.9 246.7 1378.5 244.8 1379.1 241.2 1379.7 237.3 1380.3 237.1 1380.9 233.7 1381.5 228.4 1382.1 229.7 1382.7 230.8 1383.3 228.8 1385.1 222.7 1386.9 216.9 1388.7 211.2 1389.9 207.3 1390.5 203.1 1391.1 198.7 1391.7 199.4 1392.3 199.7 1394.1 194.3 1395.3 191.1 1395.9 184 1396.5 176.8 1397.1 180.6 1397.7 183.8 1399.5 179.2 1400.7 175.7 1401.3 171.6 1401.9 167.2 1402.5 168.4 1403.1 167.9 1403.7 164.7 1404.3 164.8 1404.9 164.4 1406.7 160 1408.5 155.2 1410.3 150.9 1412.1 146.4 1412.7 144.6 1413.3 137 1413.9 129.1 1414.5 134 1415.1 138.6 1415.7 137.3 1417.5 132.6 1419.3 128.4 1421 123.5 1422.8 119 1424.6 114 1426.4 109.6 1428.2 104.7 1430 99.9 1431.8 94.9 1433.6 89.6 1435.4 84.4 1437.2 79.1 1439 74.1 1440.8 68.7 1442.6 63.6 1444.4 58.2 1445 53.4 1445.6 48.3 1446.2 49.9 1446.8 51.5 1448 47.6 1449.8 42.7 1450.4 37.3 1451 31.8 1451 48.1 1449.8 51.4 1448 56.6 1446.2 61.7 1445.6 63.7 1445 71.7 1444.4 80 1443.8 75.2 1443.2 70.5 1442.6 72.3 1440.8 77.6 1440.2 80.6 1439.6 83.8 1439 84.1 1438.4 84.5 1437.2 87.8 1435.4 93.1 1433.6 98.4 1431.8 103.3 1430 108.1 1428.2 113 1426.4 117.8 1424.6 122.1 1422.8 126.7 1421 131.3 1419.3 136.1 1417.5 140.4 1415.7 145.1 1413.9 149.8 1412.1 154.1 1410.3 158.6 1409.1 161.5 1408.5 165 1407.9 168.5 1407.3 168.1 1406.7 167.9 1406.1 171.3 1405.5 174.8 1404.9 174.4 1404.3 174.1 1403.1 177.3 1401.3 182.7 1399.5 187.8 1398.9 189.4 1398.3 192.2 1397.7 195.3 1397.1 195.7 1396.5 196.2 1395.9 199.1 1395.3 202.1 1394.7 202.7 1394.1 207 1393.5 212.4 1392.9 210.7 1392.3 209.3 1390.5 215 1388.7 220.7 1388.1 222.8 1387.5 231.7 1386.9 240.8 1386.3 235.6 1385.7 230.8 1385.1 232.4 1383.3 238.4 1381.5 244.7 1380.3 248.7 1379.7 255.5 1379.1 262.5 1378.5 259.7 1377.9 256.9 1376.7 261.3 1376.1 266.6 1375.5 272.2 1374.9 273.2 1374.3 272.4 1373.7 271.7 1373.1 274 1372.5 283 1371.9 292.4 1371.3 287.3 1370.7 290.3 1370.1 288.3 1369.5 286.4 1368.9 288.7 1367.1 295.3 1365.3 301.8 1363.5 307.9 1362.3 312.2 1361.7 315.7 1361.1 319.4 1360.5 320 1359.9 320.9 1358.2 327.5 1356.4 333.9 1354.6 340 1354 342 1353.4 345.4 1352.8 348.9 1352.2 349.6 1351.6 350.5 1351 352.5 1349.2 358.9 1347.4 365.4 1345.6 371.5 1343.8 377.5 1342 383.6 1340.2 389.8 1338.4 395.9 1336.6 402.2 1334.8 408.4 1333 414.7 1331.2 421 1329.4 426.9 1328.8 431.6 1328.2 436.5 1327.6 435.7 1327 437 1326.4 441.1 1325.8 441.1 1325.2 441.2 1324 445.4 1322.2 451.6 1321 455.8 1320.4 460.8 1319.8 466.1 1319.2 464.9 1318.6 469.3 1318 468.6 1317.4 468 1316.8 470 1315 476.3 1314.4 481.6 1313.8 487.1 1313.2 485.7 1312.6 485.6 1312 491.7 1311.4 499.1 1310.8 495.8 1310.2 497.1 1309.6 496.9 1309 497.2 1308.4 505.2 1307.8 513.6 1307.2 509.3 1306.6 505.2 1306 507.3 1304.2 513.3 1303.6 515.5 1303 521 1302.4 526.8 1301.8 525.1 1301.2 523.6 1300.6 525.5 1298.8 531.6 1297.1 538.3 1295.3 544.1 1293.5 550.6 1291.7 556.8 1289.9 562.5 1289.3 564.5 1288.7 568.9 1288.1 573.4 1287.5 573.1 1286.9 573.1 1286.3 575.2 1284.5 581.4 1282.7 587.2 1280.9 593.4 1279.1 599.7 1277.3 606.1 1275.5 612.1 1273.7 618.4 1271.9 624.4 1270.1 630.4 1268.3 636.8ZM1452.1 37.8 1453.3 41.9 1453.9 43.3 1454.5 44.2 1455.1 45.1 1455.7 46.1 1456.3 45.9 1456.9 50.4 1457.5 53.9 1458.1 52.7 1458.7 58.2 1459.3 63.4 1460.5 67.7 1461.1 68.9 1461.7 69.8 1462.3 70.7 1462.9 73.9 1463.5 77.1 1464.1 79.9 1464.7 81.8 1466.5 88 1467.1 85.6 1467.7 83.2 1468.2 80.8 1468.8 87.1 1469.4 83.4 1470 92.5 1470.6 95.1 1471.2 98.4 1471.8 102 1472.4 105.5 1473 108.6 1473.6 110.5 1474.2 109.8 1474.8 108.7 1475.4 113.4 1476 117.7 1476.6 118.1 1477.2 118 1477.8 120.9 1478.4 121.4 1479 123.7 1479.6 122.7 1480.2 121.6 1480.8 125.6 1481.4 128.8 1482 131.3 1482.6 133.8 1483.2 133.8 1483.8 132.6 1484.4 136.2 1485 139.4 1486.2 142.1 1488 145 1488.6 145.7 1489.2 145.9 1489.8 146.1 1490.4 147.9 1491 149.7 1491.6 151 1492.8 153 1493.4 152.3 1494 151.1 1494.6 150 1495.2 153 1495.8 156.1 1496.4 159 1497 159.8 1498.8 162.8 1500.5 166 1501.1 166.8 1501.7 164.5 1502.3 161.9 1502.9 159.3 1503.5 163.7 1504.1 161.2 1504.7 165.6 1505.3 170.1 1505.9 174.1 1507.1 176.1 1507.7 174.6 1508.3 173 1508.9 171.3 1509.5 172.8 1510.1 176 1510.7 179.1 1511.3 180.8 1511.9 180.9 1512.5 182.5 1513.1 184 1513.7 183.9 1514.3 183.1 1514.9 183.3 1515.5 180.2 1516.1 179.7 1516.7 183.5 1517.3 187.2 1517.9 190.6 1518.5 191.2 1519.1 192 1519.7 192.2 1520.3 192.2 1520.9 192.1 1521.5 192.8 1522.1 191.2 1522.7 194.1 1523.3 195.1 1523.9 193.8 1524.5 192.5 1525.1 195.1 1525.7 197.6 1526.3 198.8 1526.9 198.8 1527.5 200.1 1528.1 201.5 1528.7 201.8 1529.3 201.6 1529.9 201.3 1530.5 202.9 1531.1 204.5 1531.6 205.9 1532.2 204.9 1532.8 203.6 1533.4 202.4 1534 205 1534.6 207.6 1535.2 209.7 1536.4 211.4 1537.6 212.8 1538.2 213.1 1538.8 213.2 1539.4 213.3 1540 213 1540.6 213 1541.2 214.8 1541.8 215.9 1542.4 216.6 1543 215.3 1543.6 218 1544.2 219.4 1544.8 218.9 1545.4 220.7 1546 222.5 1547.2 223.8 1547.2 229.3 1546.6 229.9 1546 228.1 1545.4 226.3 1544.8 230.4 1544.2 234.5 1543.6 229.1 1543 225.5 1542.4 223.9 1541.8 222.7 1541.2 221.7 1540.6 223.7 1540 225.7 1539.4 227.8 1538.8 224.4 1538.2 221.5 1537.6 224.1 1537 220.1 1536.4 216.2 1535.8 215.9 1535.2 216.5 1534.6 217.6 1534 218.7 1533.4 216.2 1532.8 213.7 1532.2 211.4 1531.1 209.9 1529.3 207.9 1527.5 206.3 1526.9 205.8 1526.3 205.8 1525.7 205.8 1525.1 204.5 1524.5 203.2 1523.9 203.2 1523.3 203.2 1522.7 201.9 1522.1 200.7 1521.5 199.6 1520.3 198.2 1519.7 197.5 1519.1 200.2 1518.5 202.9 1517.9 198.8 1517.3 198.3 1516.7 195.8 1516.1 193.4 1515.5 194.1 1514.9 194.8 1514.3 194.5 1513.7 192.1 1513.1 189.8 1511.3 187.7 1510.7 186.5 1510.1 187.4 1509.5 188.3 1508.9 185.7 1508.3 184.1 1507.7 184.2 1507.1 184.3 1506.5 182.5 1505.9 180.7 1505.3 183.8 1504.7 187.8 1504.1 182 1503.5 176.5 1502.3 174.8 1500.5 171.6 1498.8 169 1498.2 168.3 1497.6 168.4 1497 169.1 1496.4 169.7 1495.8 167.1 1495.2 164.5 1494.6 162 1494 161.8 1493.4 161.7 1492.8 161.5 1492.2 159.7 1491.6 157.9 1491 156.3 1489.8 154.5 1488 151.3 1486.2 148.6 1485.6 150 1485 151.8 1484.4 153.6 1483.8 149.6 1483.2 145.6 1482.6 142 1481.4 139.3 1480.8 142.5 1480.2 145.6 1479.6 141.5 1479 138.2 1478.4 140 1477.8 134.9 1477.2 130.1 1475.4 125.6 1473.6 120.3 1473 118.5 1472.4 117.9 1471.8 117.3 1471.2 116 1470.6 115.3 1470 112.9 1469.4 109.8 1468.8 106.8 1468.2 103.7 1466.5 98.2 1465.9 97.7 1465.3 97.4 1464.7 97.2 1464.1 99.8 1463.5 102.8 1462.9 96 1462.3 89.5 1461.7 90 1461.1 85.5 1460.5 81 1459.9 76.9 1459.3 74.8 1457.5 68.6 1456.9 66.5 1456.3 66.9 1455.7 67.9 1455.1 62.7 1454.5 61.6 1453.9 63.6 1453.3 65.6 1452.7 59.3 1452.1 53.1ZM1548.1 219.4 1549.9 212.3 1551.7 205.9 1553.5 199.4 1555.3 192.6 1557.2 185.8 1559 179 1560.8 172.7 1561.4 166.6 1562 160.4 1562.6 162.2 1563.2 163.9 1564.4 159.1 1566.2 152.3 1568 145.9 1569.8 139.3 1571.6 132.4 1572.2 130.4 1572.8 125.1 1573.5 119.6 1574.1 120.7 1574.7 121.3 1575.3 119.1 1577.1 112.6 1578.9 106 1579.5 98.7 1580.1 91.3 1580.7 94.3 1581.3 97 1582.5 92.6 1584.3 85.7 1586.1 79.4 1587.9 72.5 1589.8 65.8 1590.4 63.9 1591 56.7 1591.6 49.3 1592.2 49.3 1592.8 51.1 1593.4 52.6 1595.2 45.8 1595.8 44 1596.4 39.4 1597 34.9 1597.6 35 1597.6 47.8 1597 49.9 1595.2 56.6 1594.6 60.4 1594 64.4 1593.4 64.9 1592.8 65.4 1591.6 70.2 1589.8 77 1587.9 83.4 1587.3 87.4 1586.7 91.6 1586.1 91.8 1585.5 92.4 1584.3 96.9 1583.1 101 1582.5 104.7 1581.9 108.4 1581.3 109.1 1580.7 110.2 1578.9 116.7 1577.1 123.4 1575.3 130 1574.7 134.3 1574.1 138.8 1573.5 139.9 1572.8 140.4 1572.2 141.2 1571.6 143.1 1569.8 150.1 1568 156.7 1566.2 163.4 1564.4 170.2 1562.6 176.8 1562 178.7 1561.4 184.1 1560.8 189.6 1560.2 188.5 1559.6 187.6 1559 189.9 1557.2 196.8 1555.3 203.4 1553.5 210.1 1551.7 216.4 1549.9 223.1 1548.1 229.8ZM1598.5 37.4 1599.7 41.4 1600.3 41.8 1600.9 42.1 1601.5 45.9 1602.1 49.4 1602.7 51.4 1603.3 48.8 1603.9 46 1604.5 52.9 1605.1 59.9 1605.7 61.6 1607.5 67.6 1608.1 68.4 1608.7 68.8 1609.3 70.2 1609.9 72.9 1610.5 76.4 1611.1 79.7 1611.7 81.5 1612.3 80.8 1612.9 80 1613.5 82.5 1614.1 79.7 1614.7 76.8 1615.3 83.4 1615.9 89.9 1616.5 96.3 1617.7 99.8 1618.3 100.9 1618.9 101.6 1619.5 102.3 1620.1 105.2 1620.7 108 1621.3 108.4 1621.9 108.9 1622.5 111.9 1623.1 114.9 1623.7 117.3 1625.5 122.6 1627.3 127.2 1629.1 131.2 1630.9 135.2 1632.7 138.4 1634.5 142.1 1636.3 144.8 1636.9 145.9 1637.5 145.2 1638.1 144.2 1638.7 143.1 1639.3 146.1 1639.9 146.8 1640.5 149.9 1641.1 152.9 1641.7 153.8 1642.3 151.9 1642.9 149.9 1643.5 149.5 1644.1 146.9 1644.7 151.4 1645.3 155.9 1645.9 158.4 1646.5 158.4 1647.1 160.3 1647.7 162.2 1648.3 163.2 1648.8 163.2 1649.4 165 1650 166.7 1650.6 166.5 1651.2 166.1 1651.8 164.5 1652.4 167.9 1653 171.2 1654.2 172.7 1654.8 171.1 1655.4 169 1656 172.8 1656.6 176.5 1657.8 177.8 1659.6 180.3 1660.8 182.3 1661.4 180.4 1662 178.5 1662.6 182 1663.2 180.6 1663.8 176.4 1664.4 182.1 1665 181.4 1665.6 185.3 1666.2 188.9 1666.8 188.9 1667.4 188.5 1668 190.3 1668.6 191.8 1669.2 192.3 1669.8 190.2 1670.4 187.7 1671 185.2 1671.6 188.9 1672.2 192.7 1672.8 196.2 1673.4 195.3 1674 194.1 1674.6 192.9 1675.2 195.4 1675.8 197.8 1676.4 200 1677.6 201.3 1679.4 203.2 1681.2 205.1 1681.8 202.9 1682.4 200.7 1683 198.4 1683.6 202 1684.2 205.5 1684.8 207.1 1685.4 205.9 1686 208.4 1686.6 208 1687.2 209.7 1687.8 211.2 1688.4 211.9 1689 211.4 1689.6 210.8 1690.2 212.7 1690.8 212.1 1691.4 214.6 1692 216.8 1693.8 218.8 1695.6 220.5 1696.2 220.6 1696.8 220.2 1697.4 219.9 1698 221.5 1698.6 223.1 1698.6 228.6 1697.4 227.2 1695.6 225.4 1693.8 223.5 1692.6 222.4 1692 222.8 1691.4 223.5 1690.8 221.5 1690.2 220.5 1689.6 220.9 1689 219.2 1688.4 217.8 1686.6 215.9 1684.8 213.8 1684.2 213.7 1683.6 214 1683 212.4 1682.4 211.3 1681.2 210 1679.4 208 1678.8 207 1678.2 208.2 1677.6 209.5 1677 206.9 1676.4 204.6 1675.8 204.3 1674 202.2 1672.2 200.4 1670.4 198.3 1668.6 196.7 1668 196.7 1667.4 197.1 1666.8 197.5 1666.2 195.8 1665.6 194.1 1665 193.4 1664.4 193.8 1663.8 194.1 1663.2 192.6 1662.6 193.1 1662 191.1 1661.4 189.2 1660.8 187.2 1659.6 185.7 1658.4 184.2 1657.8 187.1 1657.2 190.2 1656.6 185.5 1656 181.2 1655.4 182.9 1654.8 184.9 1654.2 181.2 1653.6 180.1 1653 177.9 1652.4 176.1 1651.2 174.4 1650.6 174 1650 175.4 1649.4 177.6 1648.8 173.6 1648.3 170 1647.1 167.9 1646.5 167.2 1645.9 166.5 1645.3 166.2 1644.7 166 1644.1 166.1 1643.5 168.3 1642.9 170.4 1642.3 166.4 1641.7 162.4 1641.1 164.1 1640.5 166.1 1639.9 162.3 1639.3 158.5 1638.7 157.8 1638.1 159.9 1637.5 155.9 1636.9 154 1636.3 154.9 1635.7 158 1635.1 153 1634.5 149.4 1633.9 149.8 1633.3 147.4 1632.7 145.2 1630.9 141.7 1629.1 138.3 1627.3 134.9 1626.7 134.3 1626.1 134.1 1625.5 133.8 1624.9 131.3 1624.3 130.2 1623.7 129.9 1623.1 127.1 1622.5 124.3 1621.9 121.8 1620.1 116.6 1618.3 111.3 1617.7 109.7 1617.1 112.3 1616.5 115 1615.9 117.7 1615.3 111.4 1614.7 105 1614.1 98.9 1612.9 95.1 1611.1 89.4 1609.3 84.3 1608.7 82.1 1608.1 84.2 1607.5 86.3 1606.9 80.3 1606.3 74.5 1605.7 72.5 1605.1 72.2 1604.5 72 1603.9 71.9 1603.3 68 1602.7 66.3 1602.1 66.3 1601.5 62.2 1600.9 58.1 1600.3 57.6 1599.7 59.3 1599.1 60.9 1598.5 55.2ZM1699.5 219.3 1701.3 212.7 1703.1 205.6 1704.9 198.9 1706.7 192.2 1708.5 185.9 1710.3 178.7 1712.1 172.4 1713.9 165.6 1715.7 158.9 1717.5 152.3 1719.3 145.6 1721.1 138.7 1722.9 131.9 1724.6 125.2 1726.4 118.6 1728.2 112.1 1730 105 1731.8 98.4 1733.6 91.8 1735.4 85.1 1737.2 78.2 1739 71.4 1740.8 64.8 1741.4 56.7 1742 48.3 1742.6 52.3 1743.2 55.7 1744.4 51.4 1746.2 44.6 1748 38 1748 48.8 1746.2 55.9 1744.4 62.3 1742.6 69.1 1742 72.8 1741.4 76.8 1740.8 77.3 1740.2 78 1739 82.5 1737.2 89.2 1735.4 95.8 1733.6 102.9 1731.8 109.6 1730 115.9 1728.2 123 1726.4 129.5 1724.6 136 1722.9 143.1 1721.1 149.7 1719.3 156.6 1718.1 160.6 1717.5 167.5 1716.9 174.5 1716.3 172 1715.7 169.6 1713.9 176.6 1712.1 183.3 1710.3 190 1709.7 195.9 1709.1 202.2 1708.5 200.4 1707.9 199.1 1706.7 203.4 1704.9 210.1 1703.1 217 1701.3 223.6 1699.5 230.2ZM1748.9 38.4 1750.7 44.3 1752.5 50.7 1753.1 48.1 1753.7 45.3 1754.3 42.4 1754.9 49.5 1755.5 56.6 1756.1 61.8 1756.8 62 1757.4 62.1 1758 66.1 1758.6 70.1 1759.2 73.9 1759.8 75.7 1761.6 81.9 1763.4 87.3 1765.2 93.4 1767 99.2 1768.8 104.7 1769.4 103.4 1770 101.9 1770.6 100.3 1771.3 105.5 1771.9 110.7 1772.5 115.6 1773.7 119 1774.3 119.6 1774.9 119.9 1775.5 121.9 1776.1 124.3 1776.7 125.7 1777.3 126.3 1777.9 128.6 1778.5 130.9 1779.1 131.8 1779.7 131.9 1780.3 134.4 1780.9 136.8 1781.5 137.8 1782.1 139.3 1782.7 139.8 1783.3 140.1 1783.9 140.4 1784.5 140.7 1785.1 138.5 1785.8 142.8 1786.4 143.7 1787 146.4 1787.6 146.1 1788.2 148.6 1788.8 150.9 1790.6 153.9 1792.4 156.3 1793 157.3 1793 164.4 1792.4 164.5 1791.8 162.4 1791.2 161.4 1790.6 161.6 1790 160.8 1789.4 159.1 1788.8 159 1788.2 159.5 1787.6 157.1 1787 157.4 1786.4 155.2 1785.8 155 1785.1 155.6 1784.5 153 1783.9 150.4 1783.3 148.8 1782.7 148.8 1782.1 146.7 1781.5 144.8 1780.9 143.6 1780.3 144.1 1779.7 144.8 1779.1 144.4 1778.5 141 1777.9 137.8 1777.3 141.1 1776.7 144.7 1776.1 138.4 1775.5 132.2 1774.9 130.7 1774.3 133.1 1773.7 135.3 1773.1 137.6 1772.5 133.6 1771.9 136.5 1771.3 130.3 1770.6 124.1 1770 117.9 1769.4 116.4 1768.8 115.6 1768.2 115.1 1767.6 114.6 1767 111.5 1766.4 112 1765.8 115.1 1765.2 108.2 1764.6 101.8 1763.4 97.9 1761.6 92 1761 90.1 1760.4 90.2 1759.8 90.5 1759.2 87 1758.6 86.5 1758 83.1 1757.4 79.7 1756.8 78.3 1756.1 78.3 1755.5 74.2 1754.9 73.1 1754.3 70.4 1753.7 69.5 1753.1 66.2 1752.5 63.8 1751.9 65.6 1751.3 69.6 1750.7 61.4 1750.1 61 1749.5 56.3 1748.9 51.6Z"/>
</g>
<g fill="none" stroke="#000" stroke-width="2.7" stroke-linejoin="round">
<polygon points="210.7,1294.9 208.3,1303.8 201.8,1310.2 193,1312.6 184.2,1310.2 177.7,1303.8 175.3,1294.9 177.7,1286.1 184.2,1279.6 193,1277.2 201.8,1279.6 208.3,1286.1"/>
<polygon points="269.2,1294.9 266.8,1303.8 260.4,1310.2 251.5,1312.6 242.7,1310.2 236.2,1303.8 233.8,1294.9 236.2,1286.1 242.7,1279.6 251.5,1277.2 260.4,1279.6 266.8,1286.1"/>
<polygon points="353.4,1246.6 351,1255.4 344.5,1261.9 335.7,1264.3 326.8,1261.9 320.3,1255.4 318,1246.6 320.3,1237.7 326.8,1231.3 335.7,1228.9 344.5,1231.3 351,1237.7"/>
<polygon points="437.5,1143.8 435.2,1152.6 428.7,1159.1 419.8,1161.5 411,1159.1 404.5,1152.6 402.1,1143.8 404.5,1134.9 411,1128.5 419.8,1126.1 428.7,1128.5 435.2,1134.9"/>
<polygon points="521.7,1043.6 519.3,1052.4 512.9,1058.9 504,1061.3 495.2,1058.9 488.7,1052.4 486.3,1043.6 488.7,1034.7 495.2,1028.2 504,1025.9 512.9,1028.2 519.3,1034.7"/>
<polygon points="605.9,971.4 603.5,980.3 597,986.7 588.2,989.1 579.3,986.7 572.9,980.3 570.5,971.4 572.9,962.6 579.3,956.1 588.2,953.7 597,956.1 603.5,962.6"/>
<polygon points="690.1,916.5 687.7,925.3 681.2,931.8 672.4,934.2 663.5,931.8 657,925.3 654.6,916.5 657,907.6 663.5,901.2 672.4,898.8 681.2,901.2 687.7,907.6"/>
<polygon points="774.2,867 771.8,875.8 765.4,882.3 756.5,884.7 747.7,882.3 741.2,875.8 738.8,867 741.2,858.1 747.7,851.6 756.5,849.3 765.4,851.6 771.8,858.1"/>
<polygon points="858.4,821.7 856,830.5 849.5,837 840.7,839.4 831.8,837 825.4,830.5 823,821.7 825.4,812.8 831.8,806.3 840.7,804 849.5,806.3 856,812.8"/>
<polygon points="942.6,779.2 940.2,788.1 933.7,794.6 924.9,796.9 916,794.6 909.5,788.1 907.2,779.2 909.5,770.4 916,763.9 924.9,761.5 933.7,763.9 940.2,770.4"/>
<polygon points="1026.7,739.5 1024.4,748.3 1017.9,754.8 1009,757.2 1000.2,754.8 993.7,748.3 991.3,739.5 993.7,730.6 1000.2,724.1 1009,721.8 1017.9,724.1 1024.4,730.6"/>
<polygon points="1110.9,703.7 1108.5,712.6 1102,719.1 1093.2,721.4 1084.4,719.1 1077.9,712.6 1075.5,703.7 1077.9,694.9 1084.4,688.4 1093.2,686 1102,688.4 1108.5,694.9"/>
<polygon points="1195.1,668.8 1192.7,677.7 1186.2,684.1 1177.4,686.5 1168.5,684.1 1162,677.7 1159.7,668.8 1162,660 1168.5,653.5 1177.4,651.1 1186.2,653.5 1192.7,660"/>
<polygon points="1279.2,636.3 1276.9,645.1 1270.4,651.6 1261.5,654 1252.7,651.6 1246.2,645.1 1243.8,636.3 1246.2,627.4 1252.7,620.9 1261.5,618.6 1270.4,620.9 1276.9,627.4"/>
<polygon points="1363.4,365.8 1361,374.7 1354.6,381.1 1345.7,383.5 1336.9,381.1 1330.4,374.7 1328,365.8 1330.4,357 1336.9,350.5 1345.7,348.1 1354.6,350.5 1361,357"/>
<polygon points="1447.6,104.3 1445.2,113.2 1438.7,119.7 1429.9,122 1421,119.7 1414.6,113.2 1412.2,104.3 1414.6,95.5 1421,89 1429.9,86.6 1438.7,89 1445.2,95.5"/>
<polygon points="1531.8,188.4 1529.4,197.3 1522.9,203.8 1514,206.1 1505.2,203.8 1498.7,197.3 1496.3,188.4 1498.7,179.6 1505.2,173.1 1514,170.7 1522.9,173.1 1529.4,179.6"/>
<polygon points="1615.8,41.2 1613.4,50 1606.9,56.5 1598.1,58.9 1589.2,56.5 1582.8,50 1580.4,41.2 1582.8,32.4 1589.2,25.9 1598.1,23.5 1606.9,25.9 1613.4,32.3"/>
<polygon points="1700.1,208.6 1697.7,217.5 1691.2,223.9 1682.4,226.3 1673.5,223.9 1667.1,217.5 1664.7,208.6 1667.1,199.8 1673.5,193.3 1682.4,190.9 1691.2,193.3 1697.7,199.8"/>
<polygon points="1784.3,102.6 1781.9,111.5 1775.4,117.9 1766.6,120.3 1757.7,117.9 1751.2,111.5 1748.9,102.6 1751.2,93.8 1757.7,87.3 1766.6,84.9 1775.4,87.3 1781.9,93.8"/>
</g>
<g fill="none" stroke-width="2.7" stroke-linejoin="miter" stroke-miterlimit="4">
<polyline stroke="#00f" points="193,1301.8 196,1301.8 199.1,1301.8 202.1,1301.8 205.1,1301.8 208.2,1301.8 211.2,1301.8 214.3,1301.8 217.3,1301.8 220.3,1301.8 223.4,1301.8 226.4,1301.8 229.4,1301.8 232.5,1301.8 235.5,1301.8 238.6,1301.8 241.6,1301.8 244.6,1301.8 247.7,1301.8 250.7,1301.8 253.7,1301.8 256.8,1301.8 259.8,1301.8 262.9,1301.8 265.9,1301.8 268.9,1301.8 272,1301.8 275,1301.8 278,1301.8 281.1,1301.8 284.1,1301.8 287.2,1301.8 290.2,1301.8 293.2,1301.8 296.3,1301.8 299.3,1301.8 299.7,1301.5 299.9,1129 301.4,1127 303.6,1116 305,1140 306,1153.4 306.3,1153.4 309.3,1153.4 312.3,1153.4 315.3,1153.4 318.3,1153.4 321.3,1153.4 324.3,1153.4 327.4,1153.4 330.4,1153.4 333.4,1153.4 336.4,1153.4 339.4,1153.4 342.4,1153.4 345.4,1153.4 348.4,1153.4 351.4,1153.4 354.4,1153.4 357.4,1153.4 360.4,1153.4 363.4,1153.4 366.5,1153.4 369.5,1153.4 372.5,1153.4 375.5,1153.4 378.5,1153.4 381.5,1153.4 384.5,1153.4 387.5,1153.4 390.5,1153.4 393.5,1153.4 396.5,1153.4 399.5,1153.4 402.6,1153.4 405.6,1153.4 408.6,1153.4 411.6,1153.4 414.6,1153.4 417.6,1153.4 420.6,1153.4 423.6,1153.4 426.6,1153.4 429.6,1153.4 432.6,1153.4 435.6,1153.4 438.6,1153.4 441.7,1153.4 444.7,1153.4 447.7,1153.4 450.7,1153.4 453.7,1153.4 456.7,1153.4 459.7,1153.4 462.7,1153.4 465.7,1153.4 468.7,1153.4 471.7,1153.4 474.7,1153.4 477.7,1153.4 480.8,1153.4 483.8,1153.4 486.8,1153.4 489.8,1153.4 492.8,1153.4 495.8,1153.4 498.8,1153.4 501.8,1153.4 504.8,1153.4 507.8,1153.4 510.8,1153.4 513.8,1153.4 516.8,1153.4 519.9,1153.4 522.9,1153.4 525.9,1153.4 528.9,1153.4 531.9,1153.4 534.9,1153.4 537.9,1153.4 540.9,1153.4 543.9,1153.4 546.9,1153.4 549.9,1153.4 552.9,1153.4 556,1153.4 559,1153.4 562,1153.4 565,1153.4 568,1153.4 571,1153.4 574,1153.4 577,1153.4 580,1153.4 583,1153.4 586,1153.4 589,1153.4 592,1153.4 595.1,1153.4 598.1,1153.4 601.1,1153.4 604.1,1153.4 607.1,1153.4 610.1,1153.4 613.1,1153.4 616.1,1153.4 619.1,1153.4 622.1,1153.4 625.1,1153.4 628.1,1153.4 631.1,1153.4 634.2,1153.4 637.2,1153.4 640.2,1153.4 643.2,1153.4 646.2,1153.4 649.2,1153.4 652.2,1153.4 655.2,1153.4 658.2,1153.4 661.2,1153.4 664.2,1153.4 667.2,1153.4 670.2,1153.4 673.3,1153.4 676.3,1153.4 679.3,1153.4 682.3,1153.4 685.3,1153.4 688.3,1153.4 691.3,1153.4 694.3,1153.4 697.3,1153.4 700.3,1153.4 703.3,1153.4 706.3,1153.4 709.4,1153.4 712.4,1153.4 715.4,1153.4 718.4,1153.4 721.4,1153.4 724.4,1153.4 727.4,1153.4 730.4,1153.4 733.4,1153.4 736.4,1153.4 739.4,1153.4 742.4,1153.4 745.4,1153.4 748.5,1153.4 751.5,1153.4 754.5,1153.4 757.5,1153.4 760.5,1153.4 763.5,1153.4 766.5,1153.4 769.5,1153.4 772.5,1153.4 775.5,1153.4 778.5,1153.4 781.5,1153.4 784.5,1153.4 787.6,1153.4 790.6,1153.4 793.6,1153.4 796.6,1153.4 799.6,1153.4 802.6,1153.4 805.6,1153.4 808.6,1153.4 811.6,1153.4 814.6,1153.4 817.6,1153.4 820.6,1153.4 823.6,1153.4 826.7,1153.4 829.7,1153.4 832.7,1153.4 835.7,1153.4 838.7,1153.4 841.7,1153.4 844.7,1153.4 847.7,1153.4 850.7,1153.4 853.7,1153.4 856.7,1153.4 859.7,1153.4 862.7,1153.4 865.8,1153.4 868.8,1153.4 871.8,1153.4 874.8,1153.4 877.8,1153.4 880.8,1153.4 883.8,1153.4 886.8,1153.4 889.8,1153.4 892.8,1153.4 895.8,1153.4 898.8,1153.4 901.9,1153.4 904.9,1153.4 907.9,1153.4 910.9,1153.4 913.9,1153.4 916.9,1153.4 919.9,1153.4 922.9,1153.4 925.9,1153.4 928.9,1153.4 931.9,1153.4 934.9,1153.4 937.9,1153.4 941,1153.4 944,1153.4 947,1153.4 950,1153.4 953,1153.4 956,1153.4 959,1153.4 962,1153.4 965,1153.4 968,1153.4 971,1153.4 974,1153.4 977,1153.4 980.1,1153.4 983.1,1153.4 986.1,1153.4 989.1,1153.4 992.1,1153.4 995.1,1153.4 998.1,1153.4 1001.1,1153.4 1004.1,1153.4 1007.1,1153.4 1010.1,1153.4 1013.1,1153.4 1016.1,1153.4 1019.2,1153.4 1022.2,1153.4 1025.2,1153.4 1028.2,1153.4 1031.2,1153.4 1034.2,1153.4 1037.2,1153.4 1040.2,1153.4 1043.2,1153.4 1046.2,1153.4 1049.2,1153.4 1052.2,1153.4 1055.3,1153.4 1058.3,1153.4 1061.3,1153.4 1064.3,1153.4 1067.3,1153.4 1070.3,1153.4 1073.3,1153.4 1076.3,1153.4 1079.3,1153.4 1082.3,1153.4 1085.3,1153.4 1088.3,1153.4 1091.3,1153.4 1094.4,1153.4 1097.4,1153.4 1100.4,1153.4 1103.4,1153.4 1106.4,1153.4 1109.4,1153.4 1112.4,1153.4 1115.4,1153.4 1118.4,1153.4 1121.4,1153.4 1124.4,1153.4 1127.4,1153.4 1130.4,1153.4 1133.5,1153.4 1136.5,1153.4 1139.5,1153.4 1142.5,1153.4 1145.5,1153.4 1148.5,1153.4 1151.5,1153.4 1154.5,1153.4 1157.5,1153.4 1160.5,1153.4 1163.5,1153.4 1166.5,1153.4 1169.5,1153.4 1172.6,1153.4 1175.6,1153.4 1178.6,1153.4 1181.6,1153.4 1184.6,1153.4 1187.6,1153.4 1190.6,1153.4 1193.6,1153.4 1196.6,1153.4 1199.6,1153.4 1202.6,1153.4 1205.6,1153.4 1208.7,1153.4 1211.7,1153.4 1214.7,1153.4 1217.7,1153.4 1220.7,1153.4 1223.7,1153.4 1226.7,1153.4 1229.7,1153.4 1232.7,1153.4 1235.7,1153.4 1238.7,1153.4 1241.7,1153.4 1244.7,1153.4 1247.8,1153.4 1250.8,1153.4 1253.8,1153.4 1256.8,1153.4 1259.8,1153.4 1262.8,1153.4 1265.8,1153.4 1266,1153.4 1266.4,1107.5 1266.8,1160 1267.3,1159.8 1270.5,1159.8 1273.6,1159.8 1276.8,1159.8 1280,1159.8 1283.2,1159.8 1286.3,1159.8 1289.5,1159.8 1290.5,1164.5 1293.5,1166.5 1295,1153.5 1297.5,1158 1298.3,1170 1298.8,1160 1301.8,1160 1304.8,1160 1307.9,1160 1310.9,1160 1313.9,1160 1316.9,1160 1319.9,1160 1323,1160 1326,1160 1329,1160 1330.5,1160 1333.5,1160 1336.5,1160 1339.5,1160 1342.5,1160 1345.5,1160 1348.5,1160 1351.5,1160 1354.5,1160 1357.5,1160 1360.5,1160.1 1363.5,1160.1 1366.5,1160.1 1369.5,1160.1 1372.5,1160.1 1375.5,1160.1 1378.6,1160.1 1381.6,1160.1 1384.6,1160.1 1387.6,1160.1 1390.6,1160.1 1393.6,1160.1 1396.6,1160.1 1399.6,1160.1 1402.6,1160.1 1405.6,1160.1 1408.6,1160.1 1411.6,1160.1 1414.6,1160.1 1417.6,1160.2 1420.6,1160.2 1423.6,1160.2 1426.6,1160.2 1429.6,1160.2 1432.6,1160.2 1435.6,1160.2 1438.6,1160.2 1441.6,1160.2 1444.6,1160.2 1447.6,1160.2 1450.6,1160.2 1453.6,1160.2 1456.6,1160.2 1459.6,1160.2 1462.6,1160.2 1465.6,1160.2 1468.6,1160.2 1471.7,1160.2 1474.7,1160.3 1477.7,1160.3 1480.7,1160.3 1483.7,1160.3 1486.7,1160.3 1489.7,1160.3 1492.7,1160.3 1495.7,1160.3 1498.7,1160.3 1501.7,1160.3 1504.7,1160.3 1507.7,1160.3 1510.7,1160.3 1513.7,1160.3 1516.7,1160.3 1519.7,1160.3 1522.7,1160.3 1525.7,1160.3 1528.7,1160.3 1531.7,1160.3 1534.7,1160.4 1537.7,1160.4 1540.7,1160.4 1543.7,1160.4 1546.7,1160.4 1549.7,1160.4 1552.7,1160.4 1555.7,1160.4 1558.7,1160.4 1561.8,1160.4 1564.8,1160.4 1567.8,1160.4 1570.8,1160.4 1573.8,1160.4 1576.8,1160.4 1579.8,1160.4 1582.8,1160.4 1585.8,1160.4 1588.8,1160.4 1591.8,1160.5 1594.8,1160.5 1597.8,1160.5 1600.8,1160.5 1603.8,1160.5 1606.8,1160.5 1609.8,1160.5 1612.8,1160.5 1615.8,1160.5 1618.8,1160.5 1621.8,1160.5 1624.8,1160.5 1627.8,1160.5 1630.8,1160.5 1633.8,1160.5 1636.8,1160.5 1639.8,1160.5 1642.8,1160.5 1645.8,1160.5 1648.8,1160.6 1651.8,1160.6 1654.9,1160.6 1657.9,1160.6 1660.9,1160.6 1663.9,1160.6 1666.9,1160.6 1669.9,1160.6 1672.9,1160.6 1675.9,1160.6 1678.9,1160.6 1681.9,1160.6 1684.9,1160.6 1687.9,1160.6 1690.9,1160.6 1693.9,1160.6 1696.9,1160.6 1699.9,1160.6 1702.9,1160.6 1705.9,1160.6 1708.9,1160.7 1711.9,1160.7 1714.9,1160.7 1717.9,1160.7 1720.9,1160.7 1723.9,1160.7 1726.9,1160.7 1729.9,1160.7 1732.9,1160.7 1735.9,1160.7 1738.9,1160.7 1741.9,1160.7 1744.9,1160.7 1748,1160.7 1751,1160.7 1754,1160.7 1757,1160.7 1760,1160.7 1763,1160.7 1766,1160.8 1769,1160.8 1772,1160.8 1775,1160.8 1778,1160.8 1781,1160.8 1784,1160.8 1787,1160.8 1790,1160.8 1793,1160.8 1793,1161"/>
<path fill="#00f" stroke="none" d="M193 1299.7 194.8 1299.7 195.4 1299.1 196 1298 196.6 1297 197.2 1298 197.8 1299.1 198.4 1299.2 199 1298.7 199.6 1299.2 200.2 1299.6 202 1300 203.8 1300 205.6 1299.8 207.4 1300 209.2 1299.7 211 1300 212.8 1299.7 214.6 1299.9 216.4 1299.9 218.2 1299.8 220 1300 221.8 1300 223.6 1299.9 225.4 1300 226 1299.4 226.6 1298.7 227.2 1298 227.8 1297 228.4 1296.3 229 1298.2 229.6 1299.7 230.2 1300 230.8 1297.6 231.4 1295 232 1294.9 232.6 1292.3 233.2 1294.9 233.8 1297.5 234.4 1298.6 235 1299.3 235.6 1299.6 236.2 1299.9 238 1299.9 239.8 1299.9 240.4 1299.9 241 1299.1 241.6 1298.2 242.2 1299.1 242.8 1299.7 243.4 1299.6 245.2 1299.6 245.8 1298.7 246.5 1297.3 247.1 1295.9 247.7 1294.8 248.3 1297.4 248.9 1296.6 249.5 1297.8 250.1 1298.9 250.7 1299.7 251.3 1299.6 251.9 1299.1 252.5 1298.7 253.1 1299.1 253.7 1299.6 254.3 1300.1 254.9 1299.9 255.5 1299.5 256.1 1298.8 256.7 1298.2 257.3 1297.9 257.9 1298.7 258.5 1297.4 259.1 1297.5 259.7 1294.9 260.3 1292.3 260.9 1294.9 261.5 1297.5 262.1 1300 262.7 1299.9 263.3 1297.5 263.9 1294.9 264.5 1292.3 265.1 1294.9 265.7 1297.5 266.3 1299.7 266.9 1299.9 268.7 1300.1 270.5 1299.7 271.1 1300 271.7 1298.6 272.3 1297.2 272.9 1298.6 273.5 1299.7 274.1 1299.8 275.3 1299.6 275.9 1299 276.5 1298.5 277.1 1299 277.7 1299.6 278.3 1298.5 278.9 1296.8 279.5 1295.2 280.1 1296.8 280.7 1296.3 281.3 1297.6 281.9 1298.8 282.5 1300.1 283.1 1299.4 283.7 1298.6 284.3 1298.6 284.9 1299.3 285.5 1300 286.7 1300 288.5 1300 289.7 1299.6 290.3 1298.9 290.9 1297.6 291.5 1297.2 292.1 1298.2 292.7 1299.1 293.3 1300 293.9 1299.6 294.5 1299.3 295.1 1298.6 295.7 1297 296.3 1293.9 296.9 1297 297.5 1299.8 299.3 1300.1 299.3 1303.9 298.7 1304.3 298.1 1305 297.5 1305.8 296.9 1305 296.3 1304.3 295.7 1303.9 294.5 1303.9 293.9 1304.3 293.3 1305.1 292.7 1304.3 292.1 1303.9 290.9 1303.5 290.3 1307 289.7 1310.6 289.1 1307 288.5 1303.6 286.7 1303.6 284.9 1303.7 283.1 1304 282.5 1304.5 281.9 1304.9 281.3 1306.2 280.7 1305.6 280.1 1307.7 279.5 1307.7 278.9 1306.3 278.3 1307.1 277.7 1306.6 277.1 1305.6 276.5 1304.7 275.9 1305.8 275.3 1307 274.7 1306.1 274.1 1308.7 273.5 1311.3 272.9 1308.7 272.3 1306.1 271.7 1303.7 270.5 1303.8 269.3 1304 268.7 1304.4 268.1 1304.9 267.5 1304.4 266.9 1304 265.1 1303.9 264.5 1305.1 263.9 1306.8 263.3 1308.4 262.7 1306.8 262.1 1305.1 261.5 1303.9 259.7 1303.6 259.1 1303.6 258.5 1307.4 257.9 1311.3 257.3 1307.4 256.7 1308.1 256.1 1306.6 255.5 1306.5 254.9 1305.5 254.3 1304.5 253.7 1303.8 253.1 1303.9 252.5 1305 251.9 1306.4 251.3 1305.2 250.7 1306.8 250.1 1308.5 249.5 1306.8 248.9 1306.3 248.3 1307.7 247.7 1306.3 247.1 1304.9 246.5 1305.1 245.8 1306.7 245.2 1305.3 244.6 1307 244 1308.8 243.4 1307 242.8 1305.3 242.2 1306 241.6 1307.2 241 1308.7 240.4 1311.3 239.8 1308.7 239.2 1306.1 238.6 1303.8 238 1304.5 237.4 1305.6 236.8 1306.6 236.2 1305.6 235.6 1305.5 235 1307.5 234.4 1305.5 233.8 1307.4 233.2 1311.3 232.6 1307.4 232 1303.8 230.8 1303.8 230.2 1305.6 229.6 1307.6 229 1309.7 228.4 1307.6 227.8 1305.6 227.2 1303.7 225.4 1303.7 224.2 1303.9 223.6 1304.7 223 1305.9 222.4 1304.7 221.8 1303.9 221.2 1305.6 220.6 1307.8 220 1309.9 219.4 1307.8 218.8 1305.6 218.2 1303.8 216.4 1304 214.6 1303.8 212.8 1303.9 211 1303.8 209.2 1303.7 208.6 1303.9 208 1304.4 207.4 1305.4 206.8 1306.3 206.2 1305.4 205.6 1304.4 205 1303.9 203.8 1303.5 203.2 1305.5 202.6 1307.4 202 1308.4 201.4 1310.8 200.8 1308.4 200.2 1305.9 199.6 1303.6 199 1303.6 198.4 1304.3 197.8 1305.2 197.2 1306 196.6 1305.2 196 1304.3 195.4 1303.9 194.8 1303.8 193 1303.9ZM306.3 1142.8 306.9 1150.6 308.1 1150.7 309.3 1150.9 309.9 1146.1 310.5 1150.8 311.1 1151 311.7 1145.9 312.3 1150.9 312.9 1150.9 313.5 1143.8 314.1 1148.6 314.7 1146.2 315.3 1144.6 315.9 1146.8 316.5 1145.5 317.1 1148.3 317.7 1151 318.9 1150.6 320.7 1150.9 322.5 1150.6 323.1 1150.9 323.7 1146.1 324.3 1141.1 324.9 1136.1 325.5 1141.1 326.1 1141.2 326.7 1146.1 327.3 1151 327.9 1150.9 329.7 1151 331.5 1150.6 332.7 1150.8 333.3 1146.3 333.9 1150.7 335.1 1150.6 335.7 1147.3 336.3 1150.9 336.9 1150.9 338.7 1151 339.9 1150.6 340.5 1145.8 341.1 1150.6 342.3 1151 342.9 1147.2 343.5 1151 344.1 1150.7 344.7 1140.5 345.3 1147.7 345.9 1149.4 346.5 1151 347.1 1146.7 347.7 1147 348.3 1150.6 348.9 1150.7 349.5 1146.8 350.1 1142.6 350.7 1146.8 351.3 1150.9 353.1 1150.9 353.7 1145.8 354.3 1146.8 354.9 1142.5 355.5 1143.6 356.1 1136.1 356.7 1143.6 357.3 1150.6 357.9 1146 358.5 1140.9 359.1 1146 359.7 1146.7 360.3 1148.9 360.9 1147.9 361.5 1149 362.1 1149.4 362.7 1147.7 363.3 1146 363.9 1146.3 364.5 1147.9 365.1 1147.9 365.7 1148.9 366.3 1150 366.9 1150.9 367.5 1150.8 369.3 1151 370.5 1150.7 371.1 1149.3 371.7 1147.5 372.3 1145.7 372.9 1147.5 373.5 1149.3 374.1 1150.8 374.7 1150.7 376.5 1150.6 378.3 1150.7 380.1 1150.8 380.7 1147.1 381.3 1143.2 381.9 1144.4 382.5 1141.1 383.1 1144.4 383.7 1147.7 384.3 1150.8 384.9 1150.6 385.5 1146 386.1 1151 387.3 1150.9 387.9 1139.3 388.5 1149.4 389.1 1147.8 389.7 1149.4 390.3 1151 390.9 1150.8 391.5 1150.9 392.1 1148.1 392.7 1144.8 393.3 1150.8 393.9 1149.8 394.5 1147.2 395.1 1145.4 395.7 1142.6 396.3 1145.4 396.9 1148.2 397.5 1150.8 398.1 1136.1 398.7 1148.8 399.3 1146.6 399.9 1146.7 400.5 1144.6 401.1 1146.7 401.7 1148.9 402.3 1150.9 403.5 1150.9 405.3 1150.9 405.9 1150.6 406.5 1146.9 407.1 1142.7 407.7 1141.2 408.3 1143.5 408.9 1147 409.5 1142.9 410.1 1145.4 410.7 1147.3 411.3 1146.6 411.9 1141 412.5 1147.4 413.1 1139.7 413.7 1151 414.3 1149.1 414.9 1147.2 415.5 1145.3 416.1 1147.2 416.7 1141.7 417.3 1144.3 417.9 1137.5 418.5 1144.3 419.1 1139.9 419.7 1145.5 420.3 1148.8 420.9 1146.3 421.5 1141.6 422.1 1136.9 422.7 1141.6 423.3 1146.3 423.9 1141.7 424.5 1146.4 425.1 1150.8 425.7 1148.7 426.3 1146.4 426.9 1144 427.5 1146.4 428.1 1148.7 428.7 1150.8 429.9 1150.7 430.5 1149.3 431.1 1147.5 431.7 1145.9 432.3 1141.1 432.9 1149.3 433.5 1150.6 434.1 1150.8 434.7 1150.7 435.3 1143.6 435.9 1136.1 436.5 1143.6 437.1 1143 437.7 1147.8 438.3 1147.1 438.9 1145.2 439.5 1147.1 440.1 1146.8 440.7 1142.6 441.3 1144.8 441.9 1146.9 442.5 1144.5 443.1 1147.8 443.7 1150.9 444.3 1151 444.9 1148.3 445.5 1145.6 446.1 1144 446.7 1147.3 447.3 1144.8 447.9 1141.6 448.5 1144.8 449.1 1146.3 449.7 1147.9 450.3 1145.2 450.9 1150.9 452.1 1150.8 453.9 1150.6 454.5 1148 455.1 1150.7 455.7 1150.6 457.5 1150.9 458.7 1151 459.3 1148.1 459.9 1145.2 460.5 1142.3 461.1 1136.1 461.7 1148.1 462.3 1147.3 462.9 1150.6 463.5 1144.5 464.1 1151 464.7 1150.8 465.3 1146.4 465.9 1150.7 466.5 1136.1 467.1 1150.9 468.3 1150.9 470.1 1151 471.9 1150.9 473.7 1150.7 474.3 1150.6 474.9 1147.8 475.5 1150.8 476.1 1149.7 476.7 1148.3 477.3 1146.8 477.9 1144.7 478.5 1139.5 479.1 1147.8 479.7 1144.5 480.3 1145.8 480.9 1143.1 481.5 1140 482.1 1145.5 482.7 1150.7 483.3 1151 483.9 1143.5 484.5 1151 485.1 1150.9 485.7 1141.9 486.3 1151 486.9 1148.9 487.5 1146.7 488.1 1148.9 488.7 1142.7 489.3 1150.6 489.9 1150.8 491.7 1150.7 492.9 1150.9 493.5 1142.2 494.1 1150.8 494.7 1145.3 495.3 1139.5 495.9 1145.3 496.5 1140.9 497.1 1140.4 497.7 1143.9 498.3 1147.5 498.9 1146.1 499.5 1150.7 500.7 1150.8 501.3 1147.5 501.9 1150.6 502.5 1150.9 503.1 1150.9 503.7 1146.1 504.3 1141.1 504.9 1136.1 505.5 1141.1 506.1 1146.1 506.7 1141.6 507.3 1136.8 507.9 1141.6 508.5 1146.3 509.1 1144.8 509.7 1143.1 510.3 1139.2 510.9 1143.1 511.5 1141.7 512.1 1144.8 512.7 1147.9 513.3 1143.5 513.9 1150.9 515.1 1150.7 515.7 1150.9 516.3 1143.6 516.9 1141.8 517.5 1150.7 518.1 1149.4 518.7 1147.7 519.3 1146 519.9 1147.7 520.5 1149.4 521.1 1150.7 522.3 1150.6 522.9 1145.6 523.5 1150.7 524.1 1150.7 525.9 1150.6 526.5 1151 527.1 1146.6 527.7 1150.6 529.5 1150.7 530.7 1150.6 531.3 1145.8 531.9 1140.5 532.5 1144.5 533.1 1146.7 533.7 1147.6 534.3 1144.1 534.9 1140.6 535.5 1144.1 536.1 1147.6 536.7 1146.8 537.3 1142.5 537.9 1146.8 538.5 1150.8 539.1 1150.7 539.7 1146.6 540.3 1142.1 540.9 1146.6 541.5 1150.8 542.1 1150.8 543.9 1150.9 544.5 1146.7 545.1 1147.2 545.7 1149.1 546.3 1150.7 547.5 1151 549.3 1150.8 551.1 1150.8 552.9 1150.8 553.5 1146.3 554.1 1141.5 554.7 1136.7 555.3 1141.5 555.9 1141.1 556.5 1136.2 557.1 1141.1 557.7 1146.1 558.3 1148.9 558.9 1146.7 559.5 1148.9 560.1 1151 561.9 1150.9 563.7 1150.8 565.5 1150.7 567.3 1150.7 569.1 1151 570.9 1150.8 572.7 1150.7 573.3 1150.9 573.9 1144.8 574.5 1150.6 575.1 1146.4 575.7 1149.9 576.3 1148.8 576.9 1147.7 577.5 1148.8 578.1 1149.9 578.7 1139.1 579.3 1146.4 579.9 1148.7 580.5 1147.4 581.1 1147.4 581.7 1147 582.3 1149.8 582.9 1150.9 583.5 1151 585.3 1150.8 587.1 1150.8 588.9 1150.7 590.7 1150.6 592.5 1151 594.3 1150.6 596.1 1150.6 597.9 1150.6 599.7 1151 600.3 1147.7 600.9 1150.9 601.5 1150.7 602.1 1143.6 602.7 1136.1 603.3 1143.6 603.9 1145.2 604.5 1142.2 605.1 1145.2 605.7 1148.1 606.3 1150.7 606.9 1147.9 607.5 1147.4 608.1 1143.7 608.7 1141.5 609.3 1141.1 609.9 1146.1 610.5 1147.7 611.1 1149.4 611.7 1145.3 612.3 1145.6 612.9 1148.3 613.5 1151 614.1 1146.6 614.7 1150.7 615.9 1150.9 617.1 1150.8 617.7 1146.7 618.3 1142.4 618.9 1143.3 619.5 1150.6 620.1 1145.6 620.7 1146.1 621.3 1141.1 621.9 1145.4 622.5 1148.2 623.1 1147.8 623.7 1149.2 624.3 1142.5 624.9 1145.4 625.5 1147.3 626.1 1146 626.7 1145.1 627.3 1141.3 627.9 1136.5 628.5 1141.3 629.1 1146.2 629.7 1150.6 630.3 1150.7 632.1 1150.7 632.7 1148.2 633.3 1145.4 633.9 1145 634.5 1148 635.1 1145.6 635.7 1150.6 636.3 1150.9 636.9 1145.5 637.5 1143.6 638.1 1149.7 638.7 1148.3 639.3 1147 639.9 1140.3 640.5 1147.1 641.1 1145.2 641.7 1147.1 642.3 1144.2 642.9 1147.6 643.5 1150.6 644.1 1147.7 644.7 1146.3 645.3 1148.7 645.9 1150.9 646.5 1146.8 647.1 1142.6 647.7 1138.3 648.3 1142.6 648.9 1146.8 649.5 1151 650.1 1146.5 650.7 1150.7 651.9 1150.7 652.5 1148 653.1 1150.7 653.7 1150.9 655.5 1150.9 657.3 1150.6 659.1 1150.7 660.9 1150.8 662.7 1151 663.9 1151 664.5 1147.4 665.1 1150.8 665.7 1149 666.3 1146.9 666.9 1144.9 667.5 1146.9 668.1 1142.8 668.7 1145.4 669.3 1145.3 669.9 1145.9 670.5 1140.8 671.1 1145.9 671.7 1151 672.3 1147.2 672.9 1142.6 673.5 1150.7 674.1 1146 674.7 1140.9 675.3 1146 675.9 1150.7 676.5 1150.8 677.1 1149.7 677.7 1148.3 678.3 1146.9 678.9 1148.3 679.5 1149.7 680.1 1151 680.7 1140.6 681.3 1151 681.9 1136.1 682.5 1138.9 683.1 1145 683.7 1148 684.3 1146.5 684.9 1148 685.5 1146.8 686.1 1150.6 686.7 1143.6 687.3 1150.7 687.9 1150.8 688.5 1150.6 689.1 1149.7 689.7 1148.4 690.3 1147.1 690.9 1148.4 691.5 1147.7 692.1 1146 692.7 1147.7 693.3 1149.4 693.9 1151 695.1 1150.9 696.3 1150.8 696.9 1149.2 697.5 1147.3 698.1 1149.2 698.7 1150.7 699.9 1150.6 700.5 1148.1 701.1 1151 702.3 1150.8 702.9 1146.2 703.5 1141.3 704.1 1136.4 704.7 1141.3 705.3 1146.2 705.9 1143.8 706.5 1140.2 707.1 1143.8 707.7 1146.1 708.3 1143.6 708.9 1146.1 709.5 1148.6 710.1 1141.7 710.7 1150.6 711.3 1148.6 711.9 1146.2 712.5 1143.8 713.1 1141.1 713.7 1136.1 714.3 1141.1 714.9 1146.1 715.5 1148.9 716.1 1139.6 716.7 1144.7 717.3 1141.5 717.9 1144.7 718.5 1147.9 719.1 1150.9 719.7 1146.8 720.3 1150.8 720.9 1150.7 721.5 1149.6 722.1 1148.1 722.7 1146.7 723.3 1147.6 723.9 1149.3 724.5 1150.8 725.7 1150.7 726.3 1151 726.9 1148.7 727.5 1146.4 728.1 1137.5 728.7 1146.2 729.3 1150.8 729.9 1149.3 730.5 1147.6 731.1 1145.9 731.7 1147.6 732.3 1146.1 732.9 1141.1 733.5 1136.1 734.1 1141.1 734.7 1146.1 735.3 1149.2 735.9 1147.3 736.5 1145.5 737.1 1147.3 737.7 1149.2 738.3 1150.9 738.9 1144 739.5 1136.9 740.1 1144 740.7 1136.7 741.3 1139 741.9 1143 742.5 1147 743.1 1148.7 743.7 1145.2 744.3 1150.6 744.9 1151 745.5 1149.5 746.1 1148 746.7 1136.1 747.3 1150.9 749.1 1150.7 749.7 1150.7 750.3 1148.6 750.9 1146.1 751.5 1143.7 752.1 1146.1 752.7 1148.6 753.3 1151 754.5 1150.8 756.3 1151 758.1 1150.6 759.3 1150.6 759.9 1147.5 760.5 1143.9 761.1 1147.4 761.7 1145.6 762.3 1147.4 762.9 1146.3 763.5 1147.9 764.1 1145.1 764.7 1147.3 765.3 1145.4 765.9 1147.3 766.5 1149.2 767.1 1148.6 767.7 1145.6 768.3 1140.2 768.9 1136.1 769.5 1141.1 770.1 1143.6 770.7 1143.7 771.3 1146.2 771.9 1145.1 772.5 1150.6 774.3 1150.7 776.1 1150.7 776.7 1150.6 777.3 1148.4 777.9 1145.8 778.5 1143.9 779.1 1140.8 779.7 1145.9 780.3 1151 780.9 1150.9 781.5 1145.5 782.1 1140 782.7 1142.3 783.3 1150.7 783.9 1147.4 784.5 1150.6 785.1 1149.1 785.7 1147.2 786.4 1149.1 787 1148.5 787.6 1147.3 788.2 1148.5 788.8 1149.8 789.4 1150.8 790 1136.1 790.6 1146.9 791.2 1144.8 791.8 1146.9 792.4 1149 793 1147.7 793.6 1146 794.2 1147.7 794.8 1148.4 795.4 1136.1 796 1143 796.6 1145.7 797.2 1144.3 797.8 1141 798.4 1144.3 799 1147.7 799.6 1145.6 800.2 1148.3 800.8 1147.5 801.4 1145.7 802 1147.5 802.6 1149.3 803.2 1150.8 803.8 1149.2 804.4 1147.4 805 1143.6 805.6 1136.1 806.2 1143.6 806.8 1151 807.4 1136.1 808 1136.1 808.6 1143.6 809.2 1146.2 809.8 1150.6 810.4 1149.4 811 1147.7 811.6 1149.4 812.2 1151 812.8 1150.8 813.4 1148.7 814 1146.3 814.6 1143.9 815.2 1136.1 815.8 1148.7 816.4 1150.8 817 1148.5 817.6 1146 818.2 1145.9 818.8 1144.4 819.4 1146.6 820 1148.8 820.6 1136.1 821.2 1145.8 821.8 1148.4 822.4 1150.9 823 1150.7 823.6 1147.6 824.2 1144.2 824.8 1147.6 825.4 1150.8 826.6 1150.9 827.8 1151 828.4 1149.7 829 1148.4 829.6 1145 830.2 1139 830.8 1145 831.4 1147.7 832 1147.1 832.6 1145.6 833.2 1140.2 833.8 1145.6 834.4 1142.1 835 1142 835.6 1146.5 836.2 1150.7 837.4 1150.9 838 1146.9 838.6 1142.8 839.2 1146.9 839.8 1136.1 840.4 1148.3 841 1146.9 841.6 1148.3 842.2 1149.7 842.8 1144.2 843.4 1147.8 844 1144.6 844.6 1147.5 845.2 1147.2 845.8 1145.3 846.4 1147.2 847 1149.1 847.6 1150.6 848.2 1150.6 850 1150.8 851.2 1150.7 851.8 1138.2 852.4 1151 853 1150.9 853.6 1149 854.2 1147 854.8 1149 855.4 1150.8 856 1150.6 856.6 1148.3 857.2 1145.6 857.8 1142.9 858.4 1142.1 859 1146.6 859.6 1151 860.8 1150.6 862 1150.7 862.6 1142.7 863.2 1150.6 864.4 1150.7 866.2 1151 868 1150.8 869.8 1150.7 871.6 1150.6 872.2 1147.4 872.8 1151 873.4 1151 875.2 1150.9 877 1150.9 878.2 1150.8 878.8 1145 879.4 1138.9 880 1145 880.6 1149.4 881.2 1147.7 881.8 1149.4 882.4 1150.6 884.2 1150.6 886 1150.6 887.8 1150.7 889.6 1150.8 891.4 1150.7 893.2 1150.6 894.4 1150.7 895 1139.7 895.6 1150.9 896.8 1150.8 897.4 1140.9 898 1150.7 898.6 1150.8 900.4 1151 901 1145.3 901.6 1139.6 902.2 1145.3 902.8 1150.9 903.4 1150.9 904 1149 904.6 1146.9 905.2 1149 905.8 1151 907.6 1150.7 909.4 1150.7 910 1148.3 910.6 1145.5 911.2 1142.8 911.8 1145.5 912.4 1148.3 913 1150.6 913.6 1150.6 914.2 1149.6 914.8 1148.1 915.4 1146.7 916 1148.1 916.6 1149.6 917.2 1150.9 917.8 1147.6 918.4 1144.1 919 1147.6 919.6 1150.6 920.2 1150.8 920.8 1148.6 921.4 1146.1 922 1148.6 922.6 1149.5 923.2 1148 923.8 1145.7 924.4 1144.6 925 1146.7 925.6 1148.9 926.2 1146.1 926.8 1141.1 927.4 1136.1 928 1141.1 928.6 1146.1 929.2 1150.8 929.8 1149.4 930.4 1147.7 931 1146 931.6 1147.7 932.2 1149.4 932.8 1150.8 933.4 1150.7 934 1147.8 934.6 1144.5 935.2 1141.2 935.8 1144.5 936.4 1147.8 937 1149.7 937.6 1148.3 938.2 1146.9 938.8 1146.4 939.4 1141.7 940 1142.7 940.6 1145.5 941.2 1148.3 941.8 1147.7 942.4 1144.3 943 1141.1 943.6 1136.1 944.2 1141.1 944.8 1146.1 945.4 1150.8 947.2 1150.8 949 1151 950.8 1150.9 952.6 1150.6 954.4 1150.6 956.2 1150.8 958 1151 959.8 1150.7 961.6 1150.7 963.4 1150.8 965.2 1151 967 1150.7 967.6 1145.2 968.2 1139.3 968.8 1142.1 969.4 1145.1 970 1145.1 970.6 1142.2 971.2 1144.6 971.8 1146.8 972.4 1148.9 973 1150.8 973.6 1136.1 974.2 1150.9 974.8 1151 975.4 1147.2 976 1143.4 976.6 1139.5 977.2 1143.4 977.8 1144.4 978.4 1147.7 979 1150.9 979.6 1150.8 980.2 1150.8 980.8 1146.3 981.4 1146.5 982 1144.2 982.6 1146.5 983.2 1148.8 983.8 1147.8 984.4 1146.2 985 1147.8 985.6 1141.2 986.2 1150.8 986.8 1150.6 987.4 1148.5 988 1146 988.6 1143.5 989.2 1144.3 989.8 1147.7 990.4 1150.8 991.6 1150.8 992.2 1149.8 992.8 1148.5 993.4 1147.2 994 1148.5 994.6 1149.8 995.2 1150.8 995.8 1150.6 997 1150.7 997.6 1146.8 998.2 1150.9 999.4 1150.7 1001.2 1150.8 1003 1150.6 1004.8 1150.7 1006.6 1150.9 1007.2 1142.5 1007.8 1150.9 1008.4 1149.4 1009 1147.7 1009.6 1146 1010.2 1145.7 1010.8 1143.1 1011.4 1145.7 1012 1148.4 1012.6 1150.8 1013.2 1149.2 1013.8 1147.4 1014.4 1145.6 1015 1146.9 1015.6 1145.1 1016.2 1150.6 1017.4 1150.6 1018 1146 1018.6 1140.9 1019.2 1146 1019.8 1150.8 1020.4 1150.7 1021 1147.4 1021.6 1143.7 1022.2 1147.4 1022.8 1150.9 1023.4 1144.4 1024 1137.8 1024.6 1139.4 1025.2 1145.2 1025.8 1148.5 1026.4 1145.9 1027 1146.8 1027.6 1142.6 1028.2 1146.6 1028.8 1151 1029.4 1150.9 1030 1144.3 1030.6 1147.7 1031.2 1149.4 1031.8 1143.6 1032.4 1136.1 1033 1143.6 1033.6 1139.1 1034.2 1150.8 1035.4 1150.6 1036 1147.1 1036.6 1143.2 1037.2 1139.3 1037.8 1143.2 1038.4 1147.1 1039 1150.8 1039.6 1141.5 1040.2 1150.9 1040.8 1151 1042.6 1150.9 1043.2 1151 1043.8 1148.3 1044.4 1145.5 1045 1148.3 1045.6 1150.9 1046.2 1147.6 1046.8 1144.2 1047.4 1140.8 1048 1139.7 1048.6 1147.6 1049.2 1148.3 1049.8 1145.5 1050.4 1148.3 1051 1147.3 1051.6 1145.4 1052.2 1145 1052.8 1147 1053.4 1145.9 1054 1148.5 1054.6 1149.6 1055.2 1148.2 1055.8 1146.8 1056.4 1143.6 1057 1136.1 1057.6 1143.6 1058.2 1149.1 1058.8 1148.8 1059.4 1146.5 1060 1148.8 1060.6 1151 1061.8 1150.8 1062.4 1143.7 1063 1150.6 1063.6 1147.8 1064.2 1150.6 1064.8 1150.9 1065.4 1146.2 1066 1141.4 1066.6 1136.6 1067.2 1141.4 1067.8 1144.1 1068.4 1146.3 1069 1143.7 1069.6 1136.4 1070.2 1143.7 1070.8 1145.1 1071.4 1148.1 1072 1143.6 1072.6 1136.1 1073.2 1138.5 1073.8 1142.7 1074.4 1140.3 1075 1145.7 1075.6 1144.5 1076.2 1150.9 1076.8 1143.6 1077.4 1136.1 1078 1140.5 1078.6 1151 1079.2 1150.6 1079.8 1143.8 1080.4 1150.9 1081 1146.4 1081.6 1141.8 1082.2 1137.1 1082.8 1141.8 1083.4 1146.4 1084 1146.7 1084.6 1148.9 1085.2 1146.7 1085.8 1148.9 1086.4 1150 1087 1149 1087.6 1148 1088.2 1149 1088.8 1150 1089.4 1150.8 1090.6 1150.7 1091.2 1149.6 1091.8 1148.1 1092.4 1140 1093 1150.8 1094.8 1150.9 1095.4 1147.8 1096 1150.6 1096.6 1150.8 1098.4 1150.6 1099 1150.7 1099.6 1136.1 1100.2 1151 1102 1150.9 1102.6 1146.2 1103.2 1136.1 1103.8 1145.8 1104.4 1144.1 1105 1146.4 1105.6 1147.5 1106.2 1144 1106.8 1147.5 1107.4 1150.8 1108 1139.9 1108.6 1150.9 1109.2 1150.8 1109.8 1144.8 1110.4 1144.6 1111 1138.2 1111.6 1144.6 1112.2 1150.9 1112.8 1150.6 1113.4 1146.1 1114 1150.7 1114.6 1150.6 1115.2 1150 1115.8 1149 1116.4 1146.1 1117 1141.1 1117.6 1136.1 1118.2 1141.1 1118.8 1146.1 1119.4 1150.9 1120 1150.7 1121.2 1151 1121.8 1149.3 1122.4 1147.5 1123 1145.7 1123.6 1147.5 1124.2 1149.3 1124.8 1146 1125.4 1141.8 1126 1150.6 1127.2 1150.9 1129 1150.8 1130.8 1150.8 1131.4 1150.8 1132 1148.1 1132.6 1145.2 1133.2 1148.1 1133.8 1146.5 1134.4 1141.9 1135 1146.5 1135.6 1148.6 1136.2 1146.2 1136.8 1148.6 1137.4 1147.3 1138 1143.5 1138.6 1143.9 1139.2 1147.5 1139.8 1148.4 1140.4 1147.1 1141 1147.5 1141.6 1149.3 1142.2 1151 1143.4 1151 1145.2 1150.9 1147 1150.9 1148.2 1150.6 1148.8 1149.5 1149.4 1147.9 1150 1149.5 1150.6 1147.5 1151.2 1143.9 1151.8 1140.3 1152.4 1143.9 1153 1147.5 1153.6 1149.1 1154.2 1149.3 1154.8 1147.5 1155.4 1149.3 1156 1148.7 1156.6 1147.5 1157.2 1148.7 1157.8 1143.6 1158.4 1136.1 1159 1143.6 1159.6 1146.1 1160.2 1141.1 1160.8 1136.1 1161.4 1141.1 1162 1146.1 1162.6 1150.6 1163.2 1150.9 1164.4 1150.8 1165 1148.8 1165.6 1146.5 1166.2 1144.3 1166.8 1146.5 1167.4 1145.5 1168 1148.3 1168.6 1150.9 1169.8 1150.6 1170.4 1142 1171 1136.1 1171.6 1143.6 1172.2 1150.8 1173.4 1150.6 1174 1146.7 1174.6 1146.1 1175.2 1150.7 1175.8 1150.9 1177.6 1151 1178.8 1150.7 1179.4 1144.8 1180 1138.5 1180.6 1144.8 1181.2 1151 1183 1151 1183.6 1150.6 1184.2 1145.7 1184.8 1140.4 1185.4 1144.5 1186 1141.2 1186.6 1144.5 1187.2 1147.8 1187.8 1147.5 1188.4 1145.8 1189 1147.5 1189.6 1149.3 1190.2 1150.9 1192 1151 1193.8 1150.9 1195.6 1151 1197.4 1150.7 1199.2 1150.9 1201 1150.9 1202.8 1150.7 1204.6 1150.8 1206.4 1150.8 1208.2 1150.9 1210 1150.8 1210.6 1146.1 1211.2 1141.1 1211.8 1136.1 1212.4 1139.8 1213 1146.1 1213.6 1150.9 1214.8 1151 1215.4 1148 1216 1151 1216.6 1150.9 1217.2 1149 1217.8 1146.9 1218.4 1144.8 1219 1146.9 1219.6 1149 1220.2 1148.3 1220.8 1145.6 1221.4 1146.8 1222 1147.3 1222.6 1143.6 1223.2 1147.3 1223.8 1150.8 1224.4 1146.9 1225 1142.7 1225.6 1138.5 1226.2 1142.7 1226.8 1146.9 1227.4 1150.9 1228 1136.1 1228.6 1143 1229.2 1147 1229.8 1145.6 1230.4 1148.3 1231 1147.4 1231.6 1143.7 1232.2 1140 1232.8 1143.7 1233.4 1147.4 1234 1150.9 1235.2 1150.8 1235.8 1150.8 1236.4 1149.1 1237 1147.2 1237.6 1145.8 1238.2 1150.8 1238.8 1150.7 1239.4 1150.9 1240 1148.9 1240.6 1146.8 1241.2 1148.9 1241.8 1150.9 1242.4 1143.3 1243 1148.2 1243.6 1146.8 1244.2 1148.2 1244.8 1149.6 1245.4 1150.6 1246 1148.2 1246.6 1145.3 1247.2 1148.2 1247.8 1150.8 1249.6 1150.7 1251.4 1150.6 1252 1148.2 1252.6 1145.4 1253.2 1142.6 1253.8 1145.4 1254.4 1147.3 1255 1145.4 1255.6 1147.3 1256.2 1146.3 1256.8 1148.7 1257.4 1151 1258 1150.9 1258.6 1148.1 1259.2 1145.1 1259.8 1141.1 1260.4 1136.1 1261 1141.1 1261.6 1146.1 1262.2 1149 1262.8 1150.8 1264 1150.9 1265.8 1150.9 1265.8 1156.1 1264 1156.2 1262.2 1155.8 1261.6 1164.7 1261 1160.8 1260.4 1158.3 1259.8 1156.1 1259.2 1159 1258.6 1162.2 1258 1159 1257.4 1156 1256.8 1158.9 1256.2 1162 1255.6 1165.2 1255 1162 1254.4 1159.9 1253.8 1159.6 1253.2 1157.7 1252.6 1156 1252 1157.3 1251.4 1158.9 1250.8 1157.3 1250.2 1156.1 1249.6 1157.7 1249 1159.6 1248.4 1161.5 1247.8 1159.6 1247.2 1160.6 1246.6 1165.5 1246 1160.6 1245.4 1157.3 1244.8 1158.8 1244.2 1157.3 1243.6 1156.1 1243 1157.6 1242.4 1159.4 1241.8 1157.6 1241.2 1159.5 1240.6 1161.4 1240 1159.5 1239.4 1157.6 1238.8 1157.7 1238.2 1159.6 1237.6 1160.6 1237 1159.4 1236.4 1163 1235.8 1159.4 1235.2 1159.2 1234.6 1157.5 1234 1157.7 1233.4 1159.6 1232.8 1161.5 1232.2 1159.6 1231.6 1157.7 1231 1168.5 1230.4 1156.1 1229.8 1161.6 1229.2 1167.4 1228.6 1165.2 1228 1158.8 1227.4 1160 1226.8 1157.9 1226.2 1160.2 1225.6 1155.9 1225 1158.4 1224.4 1161.1 1223.8 1158.4 1223.2 1156 1222.6 1155.9 1220.8 1156.1 1220.2 1168.4 1219.6 1161.6 1219 1158.7 1218.4 1163 1217.8 1162.8 1217.2 1161.1 1216.6 1159.5 1216 1159.3 1215.4 1157.5 1214.8 1155.8 1214.2 1159 1213.6 1157.8 1213 1159.9 1212.4 1161.9 1211.8 1159.9 1211.2 1159.9 1210.6 1170.8 1210 1165 1209.4 1161.9 1208.8 1158.8 1208.2 1156 1206.4 1155.9 1204.6 1156.1 1202.8 1155.9 1201 1155.9 1199.2 1156.1 1197.4 1155.9 1195.6 1155.8 1193.8 1156 1192 1155.9 1191.4 1158.2 1190.8 1160.6 1190.2 1158.2 1189.6 1155.9 1188.4 1156 1186.6 1156 1184.8 1155.9 1183 1155.8 1181.2 1156.1 1180 1156.1 1179.4 1158.9 1178.8 1161.9 1178.2 1158.4 1177.6 1161 1177 1163.6 1176.4 1161 1175.8 1160.3 1175.2 1158 1174.6 1156.1 1174 1155.8 1173.4 1161.6 1172.8 1167.4 1172.2 1169.5 1171.6 1164.9 1171 1165.8 1170.4 1170.8 1169.8 1165.8 1169.2 1160.8 1168.6 1156.1 1168 1158.2 1167.4 1160.6 1166.8 1158.2 1166.2 1160.7 1165.6 1159.4 1165 1156 1163.2 1156 1161.4 1156 1160.8 1156.1 1160.2 1162.3 1159.6 1170.8 1159 1156 1157.8 1156 1157.2 1160 1156.6 1164.3 1156 1168.5 1155.4 1164.3 1154.8 1170.8 1154.2 1163.2 1153.6 1158.9 1153 1157.3 1152.4 1155.9 1150.6 1156 1149.4 1156.1 1148.8 1157.7 1148.2 1160.7 1147.6 1165.6 1147 1160.7 1146.4 1162.2 1145.8 1161.6 1145.2 1159.6 1144.6 1157.7 1144 1169.1 1143.4 1156.2 1141.6 1156.1 1141 1157.4 1140.4 1159 1139.8 1160.6 1139.2 1164.4 1138.6 1157.4 1138 1167.6 1137.4 1155.8 1136.8 1161.2 1136.2 1166.6 1135.6 1161.2 1135 1161.5 1134.4 1164.4 1133.8 1161.5 1133.2 1158.6 1132.6 1157.7 1132 1159.7 1131.4 1159.9 1130.8 1162.2 1130.2 1168.7 1129.6 1162.2 1129 1165.8 1128.4 1170.8 1127.8 1165.8 1127.2 1160.8 1126.6 1157.7 1126 1156.2 1125.4 1156.1 1123.6 1156.1 1123 1155.8 1122.4 1162 1121.8 1168.2 1121.2 1162 1120.6 1156.2 1120 1155.9 1119.4 1156 1118.8 1158 1118.2 1160.2 1117.6 1162.4 1117 1160.2 1116.4 1158.2 1115.8 1164.7 1115.2 1163.1 1114.6 1163.3 1114 1160.8 1113.4 1158.5 1112.8 1161.2 1112.2 1158.5 1111.6 1156.1 1111 1155.9 1110.4 1156 1109.8 1162.3 1109.2 1162.5 1108.6 1169.2 1108 1166 1107.4 1158.1 1106.8 1160.4 1106.2 1170.8 1105.6 1156 1103.8 1156 1103.2 1156.2 1102.6 1170.8 1102 1161.4 1101.4 1167.1 1100.8 1161.4 1100.2 1162.6 1099.6 1166 1099 1162.6 1098.4 1159.3 1097.8 1161 1097.2 1159.3 1096.6 1157.5 1096 1156.2 1095.4 1161.5 1094.8 1155.8 1093 1155.9 1091.8 1155.9 1091.2 1159.2 1090.6 1156.1 1090 1156 1089.4 1159.3 1088.8 1162.8 1088.2 1166.3 1087.6 1162.8 1087 1159.3 1086.4 1156 1085.8 1155.9 1084 1156.2 1082.2 1156 1081.6 1159.3 1081 1162.8 1080.4 1159.3 1079.8 1155.8 1079.2 1161 1078.6 1166.2 1078 1161 1077.4 1163.4 1076.8 1156.2 1075.6 1156.1 1075 1158.1 1074.4 1160.5 1073.8 1162.9 1073.2 1165.8 1072.6 1170.8 1072 1170.8 1071.4 1164.5 1070.8 1160.1 1070.2 1161.7 1069.6 1155.9 1069 1163.1 1068.4 1165.8 1067.8 1170.8 1067.2 1165.8 1066.6 1160.8 1066 1163.1 1065.4 1162.1 1064.8 1160 1064.2 1157.9 1063.6 1156.1 1062.4 1156.1 1060.6 1155.8 1058.8 1155.9 1057.6 1156.2 1057 1161.8 1056.4 1161.8 1055.8 1164.9 1055.2 1161.8 1054.6 1158.8 1054 1155.8 1053.4 1158 1052.8 1160.3 1052.2 1164.8 1051.6 1161.1 1051 1163.7 1050.4 1162.1 1049.8 1165.3 1049.2 1162.1 1048.6 1158.9 1048 1156.2 1047.4 1158.7 1046.8 1161.7 1046.2 1158.7 1045.6 1156.1 1044.4 1156.1 1042.6 1155.8 1040.8 1155.9 1039 1155.9 1038.4 1157.4 1037.8 1159 1037.2 1161.8 1036.6 1164.8 1036 1161.8 1035.4 1158.8 1034.8 1159.8 1034.2 1159.9 1033.6 1160 1033 1162.1 1032.4 1160 1031.8 1157.9 1031.2 1156.2 1030.6 1156.1 1030 1158.3 1029.4 1160.8 1028.8 1168.9 1028.2 1156.2 1027.6 1166.2 1027 1163.3 1026.4 1159.4 1025.8 1158.2 1025.2 1157 1024.6 1158.1 1024 1160.4 1023.4 1162.7 1022.8 1160.4 1022.2 1164.1 1021.6 1159.9 1021 1155.9 1020.4 1156 1019.8 1165.4 1019.2 1161 1018.6 1155.8 1018 1157.3 1017.4 1158.9 1016.8 1160.5 1016.2 1163.5 1015.6 1163.7 1015 1156 1013.8 1155.8 1013.2 1160.1 1012.6 1164.4 1012 1168.3 1011.4 1169.9 1010.8 1162.8 1010.2 1155.9 1009.6 1156.8 1009 1157.8 1008.4 1158.9 1007.8 1157.8 1007.2 1156.8 1006.6 1156.1 1004.8 1156.1 1003 1155.9 1002.4 1156.2 1001.8 1160.2 1001.2 1155.8 999.4 1156.2 997.6 1156.1 995.8 1156.1 994 1156.1 993.4 1155.9 992.8 1157.4 992.2 1159 991.6 1160.7 991 1160.3 990.4 1162.5 989.8 1160.3 989.2 1158 988.6 1156 988 1157 987.4 1158.2 986.8 1159.4 986.2 1159.3 985.6 1162.9 985 1166.5 984.4 1170.8 983.8 1159.3 983.2 1162.3 982.6 1168.9 982 1162.3 981.4 1155.9 979.6 1155.9 979 1170.8 978.4 1156.2 977.8 1169.5 977.2 1158.8 976.6 1157.3 976 1161.1 975.4 1161.5 974.8 1161 974.2 1166.2 973.6 1161 973 1156 972.4 1166.3 971.8 1163.2 971.2 1170.8 970.6 1163.2 970 1158.3 969.4 1159.6 968.8 1161.7 968.2 1164.7 967.6 1161.7 967 1158.7 966.4 1156.1 965.2 1155.8 963.4 1156 961.6 1156.2 959.8 1155.9 958 1156.2 956.2 1155.9 954.4 1155.8 952.6 1156 950.8 1155.9 949 1155.8 947.2 1156.1 945.4 1156 944.2 1156.1 943.6 1163.7 943 1165.8 942.4 1170.8 941.8 1165.8 941.2 1162.6 940.6 1161 940 1158 939.4 1155.9 938.8 1157.9 938.2 1160 937.6 1157.9 937 1155.9 936.4 1156 935.8 1158.8 935.2 1163.8 934.6 1164.8 934 1161.8 933.4 1168.7 932.8 1157.2 932.2 1156.1 931 1156.2 929.2 1155.8 928.6 1155.8 928 1157.8 927.4 1159.8 926.8 1161.9 926.2 1159.8 925.6 1157.8 925 1156 924.4 1159.2 923.8 1156 923.2 1155.8 922.6 1158.2 922 1160.6 921.4 1158.2 920.8 1162.4 920.2 1169.1 919.6 1162.4 919 1158.4 918.4 1155.8 916.6 1156 916 1162.4 915.4 1169.1 914.8 1162.4 914.2 1156.1 913.6 1156.2 913 1157.8 912.4 1169 911.8 1162 911.2 1159.9 910.6 1170.8 910 1155.8 909.4 1155.8 907.6 1156.1 907 1159.7 906.4 1163.7 905.8 1167.7 905.2 1163.7 904.6 1159.7 904 1157.5 903.4 1158.1 902.8 1160.5 902.2 1160.8 901.6 1165.8 901 1170.8 900.4 1165.8 899.8 1160.8 899.2 1156.1 898.6 1156 896.8 1155.9 895 1155.9 893.2 1156 891.4 1155.8 889.6 1156.2 887.8 1155.9 886 1156.2 885.4 1156.2 884.8 1162.9 884.2 1156.2 882.4 1155.8 880.6 1156 880 1156.1 879.4 1159.8 878.8 1162.5 878.2 1159.1 877.6 1155.9 877 1158.9 876.4 1162 875.8 1165.1 875.2 1162 874.6 1158.9 874 1155.8 873.4 1156.2 871.6 1155.8 869.8 1155.8 869.2 1155.9 868.6 1158.1 868 1160.5 867.4 1162.8 866.8 1160.5 866.2 1158.1 865.6 1156 864.4 1155.8 863.8 1156.1 863.2 1159.2 862.6 1162.6 862 1159.2 861.4 1156.1 860.8 1159.1 860.2 1162.5 859.6 1165.8 859 1162.5 858.4 1164.7 857.8 1160.2 857.2 1156 855.4 1155.8 853.6 1155.8 851.8 1156 851.2 1167.8 850.6 1156 850 1155.9 848.2 1156.1 847.6 1155.8 847 1159.4 846.4 1163 845.8 1159.4 845.2 1157.3 844.6 1155.9 842.8 1156.2 841.6 1155.8 841 1170.2 840.4 1156 839.8 1156.2 839.2 1159.6 838.6 1163.5 838 1159.6 837.4 1158.1 836.8 1156.9 836.2 1156.2 835.6 1155.9 835 1160.6 834.4 1165.4 833.8 1170.2 833.2 1163 832.6 1164.2 832 1160.7 831.4 1159 830.8 1159.2 830.2 1158.1 829.6 1158.3 829 1160.9 828.4 1163.5 827.8 1160.9 827.2 1160.4 826.6 1158.1 826 1158.8 825.4 1161.8 824.8 1164.8 824.2 1161.8 823.6 1159.9 823 1163 822.4 1166.7 821.8 1163.4 821.2 1159.6 820.6 1161.4 820 1164.2 819.4 1161.4 818.8 1162.2 818.2 1159 817.6 1156.1 816.4 1156.1 815.8 1164.9 815.2 1159 814.6 1161.5 814 1158.6 813.4 1155.8 812.8 1156 812.2 1157.9 811.6 1160.1 811 1162.3 810.4 1160.1 809.8 1157.9 809.2 1158.2 808.6 1159.5 808 1158.2 807.4 1157 806.8 1156.2 805 1156.2 804.4 1158.8 803.8 1161.8 803.2 1158.8 802.6 1156.1 801.4 1155.9 800.2 1155.8 799.6 1158.1 799 1160.5 798.4 1159 797.8 1159.2 797.2 1162.6 796.6 1166.1 796 1162.6 795.4 1159.2 794.8 1157.3 794.2 1156 793.6 1156 793 1162.8 792.4 1169.8 791.8 1163.7 791.2 1158.7 790.6 1161.6 790 1164.5 789.4 1161.6 788.8 1158.7 788.2 1156.1 787.6 1158.8 787 1162.2 786.4 1168.7 785.7 1162.2 785.1 1159.4 784.5 1160.1 783.9 1155.9 783.3 1157.7 782.7 1159.6 782.1 1161.6 781.5 1160.4 780.9 1157.7 780.3 1156.2 779.7 1157.8 779.1 1159.8 778.5 1165.7 777.9 1160.5 777.3 1157.2 776.7 1158.7 776.1 1160.2 775.5 1158.7 774.9 1157.2 774.3 1158.4 773.7 1159.7 773.1 1158.8 772.5 1161.7 771.9 1160.7 771.3 1159.1 770.7 1160.7 770.1 1165.7 769.5 1160.7 768.9 1160 768.3 1158.1 767.7 1159.3 767.1 1158.1 766.5 1160 765.9 1163.2 765.3 1167 764.7 1163.2 764.1 1159.5 763.5 1158.2 762.9 1160.6 762.3 1158.2 761.7 1158.9 761.1 1164 760.5 1160.9 759.9 1158.3 759.3 1156.1 758.1 1155.9 756.3 1156.1 754.5 1156.1 753.9 1156.2 753.3 1156.9 752.7 1158 752.1 1159.1 751.5 1158 750.9 1158.7 750.3 1163.2 749.7 1170.8 749.1 1163.2 748.5 1155.9 747.3 1156.2 745.5 1156.1 744.3 1155.8 743.7 1161.3 743.1 1157.2 742.5 1158.7 741.9 1160.2 741.3 1158.7 740.7 1157.2 740.1 1155.8 739.5 1160 738.9 1160.7 738.3 1158.2 737.7 1157.5 737.1 1159.3 736.5 1162.1 735.9 1165.3 735.3 1162.1 734.7 1161.5 734.1 1159.6 733.5 1161 732.9 1159.3 732.3 1157.5 731.7 1159.5 731.1 1163.3 730.5 1167.1 729.9 1163.3 729.3 1159.5 728.7 1162 728.1 1168.3 727.5 1163.5 726.9 1167.3 726.3 1163.5 725.7 1159.6 725.1 1155.8 723.9 1155.9 723.3 1160 722.7 1164.3 722.1 1168.6 721.5 1170.8 720.9 1163.6 720.3 1161 719.7 1161.5 719.1 1164.4 718.5 1161.5 717.9 1162.9 717.3 1155.8 716.7 1155.8 716.1 1159.8 715.5 1163.9 714.9 1168 714.3 1163.9 713.7 1159.8 713.1 1159.5 712.5 1155.8 711.9 1165.8 711.3 1160 710.7 1156 709.5 1156 708.9 1156.2 708.3 1162 707.7 1156.2 707.1 1163.2 706.5 1170.8 705.9 1163.2 705.3 1160.8 704.7 1165.8 704.1 1170.8 703.5 1165.8 702.9 1160.8 702.3 1159.7 701.7 1163.7 701.1 1167.7 700.5 1166 699.9 1160.9 699.3 1156.2 698.7 1156 697.5 1156.2 696.9 1158.6 696.3 1161.5 695.7 1158.6 695.1 1163.2 694.5 1170.8 693.9 1163.2 693.3 1156.2 691.5 1155.9 690.3 1156.2 689.7 1166 689.1 1157.8 688.5 1159.8 687.9 1161.3 687.3 1160.7 686.7 1165.6 686.1 1160.7 685.5 1156.1 684.9 1159.7 684.3 1163.7 683.7 1167.7 683.1 1167.9 682.5 1163.9 681.9 1159.8 681.3 1156.2 680.7 1160.4 680.1 1165.1 679.5 1169.8 678.9 1165.1 678.3 1160.4 677.7 1156.1 677.1 1158.1 676.5 1160.5 675.9 1160 675.3 1159.7 674.7 1158.7 674.1 1161.7 673.5 1164.7 672.9 1165 672.3 1161.2 671.7 1163.9 671.1 1161.2 670.5 1161.5 669.9 1164.3 669.3 1161.5 668.7 1163.9 668.1 1156 667.5 1163.2 666.9 1170.8 666.3 1169.1 665.7 1169.3 665.1 1160.2 664.5 1156.2 662.7 1156.1 662.1 1158.8 661.5 1161.8 660.9 1164.9 660.3 1161.8 659.7 1161.4 659.1 1155.8 657.3 1155.8 656.1 1155.9 655.5 1170.8 654.9 1162.2 654.3 1159 653.7 1155.9 651.9 1155.8 651.3 1170.8 650.7 1156 650.1 1156.1 649.5 1155.8 648.9 1158.6 648.3 1161.4 647.7 1158.6 647.1 1156 646.5 1156.1 645.3 1156 644.7 1165.1 644.1 1155.8 642.9 1155.8 641.1 1155.9 639.3 1156.1 638.1 1156.2 637.5 1163.8 636.9 1156 636.3 1156.9 635.7 1158.1 635.1 1159.2 634.5 1159.3 633.9 1170.8 633.3 1166.3 632.7 1162.8 632.1 1159.3 631.5 1155.8 630.3 1156.2 629.7 1156.2 629.1 1161.2 628.5 1158.3 627.9 1160.8 627.3 1163.4 626.7 1160.8 626.1 1158.6 625.5 1160 624.9 1158.6 624.3 1158 623.7 1159.2 623.1 1158 622.5 1156.9 621.9 1155.8 621.3 1155.9 620.7 1161 620.1 1159.2 619.5 1158.9 618.9 1161.1 618.3 1166.4 617.7 1161.1 617.1 1159.5 616.5 1163.2 615.9 1166.9 615.3 1166.4 614.7 1161.1 614.1 1163.2 613.5 1170.8 612.9 1163.2 612.3 1156.2 610.5 1156.1 609.9 1156.2 609.3 1159.4 608.7 1162.6 608.1 1159.2 607.5 1166 606.9 1156.1 605.1 1156 603.3 1155.9 602.1 1156.2 601.5 1161.2 600.9 1156.1 599.7 1156 597.9 1155.9 596.1 1156 594.3 1156.1 592.5 1156.1 590.7 1155.9 588.9 1156.2 587.1 1156.1 585.3 1155.9 583.5 1155.9 581.7 1156 580.5 1156.1 579.9 1157.1 579.3 1159.7 578.7 1159.8 578.1 1160.1 577.5 1157.9 576.9 1159.8 576.3 1155.8 575.1 1156.1 574.5 1163.2 573.9 1170.8 573.3 1163.2 572.7 1155.8 570.9 1156.1 569.1 1156 567.3 1155.8 565.5 1156 563.7 1156 562.5 1156.1 561.9 1159 561.3 1159.4 560.7 1161.3 560.1 1164.6 559.5 1160.6 558.9 1156 558.3 1158.2 557.7 1160.7 557.1 1163.1 556.5 1160.7 555.9 1158.2 555.3 1155.9 554.7 1156.1 554.1 1161.2 553.5 1158.4 552.9 1161 552.3 1158.4 551.7 1156.2 551.1 1156.1 549.3 1155.9 548.7 1159.2 548.1 1162.7 547.5 1166.2 546.9 1162.7 546.3 1159.2 545.7 1161.2 545.1 1156 543.9 1155.9 543.3 1155.9 542.7 1161.3 542.1 1155.9 540.3 1155.9 538.5 1156 537.9 1157.1 537.3 1158.4 536.7 1159.7 536.1 1158.4 535.5 1157.7 534.9 1159.6 534.3 1157.7 533.7 1162.3 533.1 1161.7 532.5 1159 531.9 1162.2 531.3 1159 530.7 1163.3 530.1 1159.7 529.5 1157.7 528.9 1159.2 528.3 1159.2 527.7 1161 527.1 1159.2 526.5 1157.5 525.9 1156.2 525.3 1156.1 524.7 1157.5 524.1 1159.3 523.5 1157.5 522.9 1164 522.3 1168.9 521.7 1162.3 521.1 1164.4 520.5 1161.5 519.9 1158.6 519.3 1164.2 518.7 1156 517.5 1156.2 516.9 1159.2 516.3 1162.7 515.7 1166.1 515.1 1162.7 514.5 1163.2 513.9 1170.8 513.3 1163.2 512.7 1158.8 512.1 1160.3 511.5 1164.8 510.9 1161.4 510.3 1160 509.7 1170.8 509.1 1156 508.5 1156.2 507.9 1157.4 507.3 1159 506.7 1160.4 506.1 1158.1 505.5 1156 504.3 1156 503.7 1157.7 503.1 1159.6 502.5 1157.7 501.9 1156.1 501.3 1156 500.7 1170.8 500.1 1167.9 499.5 1156.2 498.9 1160.8 498.3 1165.9 497.7 1166.2 497.1 1162.7 496.5 1162.7 495.9 1160.4 495.3 1166.3 494.7 1156 494.1 1155.9 493.5 1163.2 492.9 1170.8 492.3 1163.2 491.7 1157.9 491.1 1160.8 490.5 1165.8 489.9 1170.8 489.3 1165.8 488.7 1166.8 488.1 1161.3 487.5 1162.4 486.9 1155.9 486.3 1157.9 485.7 1160.1 485.1 1162.3 484.5 1161 483.9 1166.2 483.3 1161 482.7 1156.1 482.1 1156.2 481.5 1163.1 480.9 1170.5 480.3 1164.8 479.7 1161.8 479.1 1158.8 478.5 1155.8 477.9 1159.3 477.3 1162.8 476.7 1166.3 476.1 1162.8 475.5 1159.3 474.9 1156.2 473.7 1155.8 471.9 1155.9 470.1 1156.2 468.3 1156.2 467.1 1156.2 466.5 1163.2 465.9 1170.8 465.3 1163.2 464.7 1156.2 462.9 1156.2 462.3 1156 461.7 1157.4 461.1 1159.1 460.5 1160.8 459.9 1159.1 459.3 1157.4 458.7 1156.1 457.5 1155.8 455.7 1155.9 453.9 1156.1 452.1 1156.2 450.9 1156.1 450.3 1157.8 449.7 1159.8 449.1 1157.8 448.5 1157.8 447.9 1159.9 447.3 1170.8 446.7 1156.1 446.1 1156.2 445.5 1158 444.9 1161.5 444.3 1162.6 443.7 1160.3 443.1 1164.1 442.5 1168.3 441.9 1164.1 441.3 1159.9 440.7 1162.8 440.1 1166.3 439.5 1162.8 438.9 1159.3 438.3 1157.5 437.7 1159.3 437.1 1161.1 436.5 1161.7 435.9 1160.2 435.3 1164.6 434.7 1161.3 434.1 1158.5 433.5 1155.9 432.9 1156.1 432.3 1159.1 431.7 1156 431.1 1157.1 430.5 1158.5 429.9 1159.9 429.3 1158.5 428.7 1157.1 428.1 1156 426.9 1156.1 425.1 1155.9 423.3 1155.9 421.5 1155.8 419.7 1156.1 418.5 1156.1 417.9 1157.1 417.3 1158.5 416.7 1159.9 416.1 1162.1 415.5 1163 414.9 1164.5 414.3 1165.8 413.7 1170.8 413.1 1165.8 412.5 1160.8 411.9 1158.7 411.3 1157.2 410.7 1160.8 410.1 1165.9 409.5 1160.8 408.9 1155.9 408.3 1157.4 407.7 1159.1 407.1 1159.2 406.5 1157.5 405.9 1159.9 405.3 1164 404.7 1163.8 404.1 1161.5 403.5 1159.6 402.9 1160.5 402.3 1165.3 401.7 1160.5 401.1 1160.2 400.5 1162.5 399.9 1160.2 399.3 1160.6 398.7 1163.1 398.1 1160.6 397.5 1159.4 396.9 1163 396.3 1166.7 395.7 1163 395.1 1159.4 394.5 1160.3 393.9 1164.8 393.3 1160.3 392.7 1165.9 392.1 1160.7 391.5 1163.1 390.9 1166.8 390.3 1163.1 389.7 1159.4 389.1 1155.9 387.9 1156.2 387.3 1161.1 386.7 1166.5 386.1 1161.1 385.5 1158.9 384.9 1166 384.3 1156 383.7 1158.4 383.1 1168.4 382.5 1163.8 381.9 1161.1 381.3 1158.4 380.7 1156.2 380.1 1156.1 378.3 1156.2 376.5 1156.2 374.7 1155.9 372.9 1156.2 371.1 1155.9 369.3 1155.9 367.5 1155.8 366.9 1155.9 366.3 1157.7 365.7 1159.6 365.1 1161.5 364.5 1159.6 363.9 1157.7 363.3 1158.2 362.7 1160.7 362.1 1163.2 361.5 1160.7 360.9 1164.9 360.3 1169.5 359.7 1164.9 359.1 1160.3 358.5 1156.1 357.9 1155.8 357.3 1157.3 356.7 1158.9 356.1 1160.2 355.5 1158.7 354.9 1161.6 354.3 1156.1 353.7 1163.2 353.1 1170.8 352.5 1163.2 351.9 1160.5 351.3 1159.6 350.7 1162.7 350.1 1166.2 349.5 1166.7 348.9 1162.2 348.3 1168.6 347.7 1162.2 347.1 1161 346.5 1162.8 345.9 1155.9 344.7 1156.2 344.1 1158.9 343.5 1162 342.9 1165.2 342.3 1170.7 341.7 1158.9 341.1 1155.9 340.5 1155.9 339.9 1159.3 339.3 1162.9 338.7 1166.5 338.1 1162.9 337.5 1165.3 336.9 1155.9 336.3 1162.4 335.7 1155.8 335.1 1156.9 334.5 1158.1 333.9 1159.2 333.3 1158.1 332.7 1156.9 332.1 1156.2 331.5 1155.8 330.9 1162.5 330.3 1162.3 329.7 1159 329.1 1159.3 328.5 1161 327.9 1159.3 327.3 1159.7 326.7 1163.6 326.1 1160.8 325.5 1163.4 324.9 1160.8 324.3 1159.4 323.7 1161.3 323.1 1159.4 322.5 1157.6 321.9 1156.1 320.7 1156 319.5 1155.8 318.9 1158.8 318.3 1155.9 317.7 1159.5 317.1 1155.8 316.5 1156.1 315.9 1160.1 315.3 1155.8 314.1 1156.2 313.5 1158.9 312.9 1162 312.3 1165.2 311.7 1162 311.1 1158.9 310.5 1156 309.9 1155.8 309.3 1159.2 308.7 1162.6 308.1 1159.2 307.5 1159 306.9 1162.2 306.3 1159ZM1267.3 1151.2 1267.9 1149.2 1268.5 1147.3 1269.1 1149.2 1269.7 1151.2 1270.3 1150.2 1270.9 1147.3 1271.5 1150.2 1272.1 1153.1 1272.7 1151.6 1273.3 1150.1 1273.9 1151.6 1274.5 1152.8 1276.3 1153 1278.1 1152.9 1279.9 1153 1281.7 1153 1282.9 1152.9 1283.5 1149.9 1284.1 1146.7 1284.7 1149.9 1285.3 1151.1 1285.9 1152.1 1286.5 1151.5 1287.1 1149.9 1287.7 1149.3 1288.3 1145.4 1288.9 1149.3 1289.5 1153.1 1289.5 1169.9 1288.9 1173.4 1288.3 1171.4 1287.7 1169.8 1287.1 1171.5 1286.5 1169 1285.9 1166.8 1285.3 1167.9 1284.7 1169.4 1284.1 1170.9 1283.5 1169.4 1282.9 1167.9 1282.3 1168.1 1281.7 1169.7 1281.1 1171.4 1280.5 1169.7 1279.9 1170.7 1279.3 1172.8 1278.7 1170.7 1278.1 1171 1277.5 1172.5 1276.9 1170.5 1276.3 1168.5 1275.7 1166.5 1274.5 1166.6 1273.3 1166.6 1272.7 1167.4 1272.1 1168.4 1271.5 1169.4 1270.9 1168.4 1270.3 1167.4 1269.7 1166.7 1269.1 1166.5 1268.5 1170.8 1267.9 1175.2 1267.3 1170.8ZM1298.8 1153.1 1300.6 1153.1 1302.4 1153.1 1304.2 1152.7 1306 1152.8 1307.3 1153 1307.9 1149.7 1308.5 1146.2 1309.1 1149.7 1309.7 1152.8 1311.5 1153.1 1313.3 1153 1315.1 1152.9 1316.9 1153.1 1318.7 1152.7 1320.5 1152.9 1322.4 1152.7 1323 1152.7 1323.6 1150.8 1324.2 1148.5 1324.8 1150.8 1325.4 1152.8 1326 1152.9 1327.8 1153.1 1329 1152.9 1329 1167.3 1327.8 1167.3 1326 1167.1 1324.2 1167 1323.6 1167.2 1323 1169.4 1322.4 1172 1321.8 1172.6 1321.1 1170.7 1320.5 1168.8 1319.9 1167.1 1319.3 1168.3 1318.7 1169.7 1318.1 1171.2 1317.5 1169.7 1316.9 1168.3 1316.3 1167.3 1315.1 1167.2 1313.3 1167.3 1311.5 1167 1309.7 1167.3 1307.9 1167 1306 1166.9 1304.2 1166.9 1302.4 1167.3 1300.6 1167.1 1298.8 1166.9ZM1330.5 1152.7 1332.3 1152.7 1334.1 1152.5 1335.9 1152.5 1337.1 1152.4 1337.7 1149.2 1338.3 1145.7 1338.9 1149.2 1339.5 1152.8 1340.1 1149.5 1340.7 1146.3 1341.3 1143 1341.9 1146.3 1342.5 1149.5 1343.1 1152.5 1344.9 1152.5 1346.7 1152.5 1348.5 1152.7 1350.3 1152.4 1350.9 1151.5 1351.5 1150.3 1352.1 1151.5 1352.7 1152.4 1353.3 1152.6 1353.9 1150.5 1354.5 1148.2 1355.1 1150.5 1355.7 1152.7 1357.5 1152.7 1359.3 1152.7 1361.1 1152.5 1362.9 1152.5 1364.7 1152.6 1366.5 1152.6 1368.3 1152.8 1370.1 1152.6 1371.9 1152.4 1373.7 1152.7 1375.5 1152.5 1376.7 1152.3 1377.3 1150.9 1377.9 1149 1378.5 1150.9 1379.1 1150.9 1379.7 1149.9 1380.3 1150.9 1380.9 1151.9 1381.5 1152.8 1382.7 1152.4 1384.5 1152.5 1386.3 1152.6 1388.1 1152.7 1389.3 1152.4 1389.9 1150.8 1390.5 1148.7 1391.1 1150.8 1391.7 1152.6 1392.3 1151.5 1392.9 1150.1 1393.5 1151.5 1394.1 1152.8 1395.3 1152.9 1395.9 1151.8 1396.5 1150.8 1397.1 1149.8 1397.7 1150.8 1398.3 1151.8 1398.9 1152.6 1399.5 1149.2 1400.1 1145.5 1400.7 1141.9 1401.3 1145.5 1401.9 1149.2 1402.5 1152.4 1404.3 1152.5 1406.1 1152.6 1407.9 1152.5 1409.7 1152.7 1411.5 1152.6 1413.3 1152.5 1415.1 1152.9 1416.9 1152.8 1418.7 1152.5 1420.5 1152.5 1422.3 1152.5 1424.1 1152.9 1425.9 1152.7 1427.7 1152.8 1429.5 1152.5 1431.3 1152.9 1433.1 1152.6 1434.9 1152.7 1436.7 1152.7 1438.5 1152.9 1440.3 1152.6 1442.1 1152.9 1443.9 1152.5 1445.7 1152.9 1447.5 1152.7 1449.3 1152.6 1451.1 1152.9 1452.9 1152.9 1454.7 1152.7 1456.5 1152.7 1458.3 1152.9 1460.1 1152.7 1461.9 1152.5 1463.7 1152.9 1465.5 1152.9 1467.3 1152.5 1469.1 1152.9 1470.9 1152.7 1472.7 1152.7 1474.5 1152.9 1476.3 1152.9 1478.1 1152.6 1479.9 1152.9 1481.7 1153 1483.5 1152.7 1485.3 1153 1487.1 1153 1488.9 1152.5 1490.7 1152.9 1492.5 1152.8 1494.3 1152.6 1496.1 1152.6 1497.9 1152.9 1499.7 1152.6 1501.5 1152.6 1503.3 1152.6 1505.1 1152.8 1506.9 1152.7 1508.7 1152.9 1510.5 1152.6 1512.3 1152.7 1514.1 1153 1515.9 1153.1 1517.7 1152.6 1519.5 1152.9 1521.3 1152.8 1523.1 1153 1524.9 1152.7 1526.7 1152.8 1528.5 1152.6 1530.3 1152.9 1532.1 1152.8 1533.9 1152.9 1535.7 1152.8 1537.5 1153.1 1539.3 1152.7 1541.1 1153.1 1542.9 1153 1544.7 1152.8 1546.5 1152.7 1548.3 1152.7 1550.1 1153.1 1551.9 1152.9 1552.5 1152.9 1553.1 1152.2 1553.7 1151.2 1554.3 1150.3 1554.9 1150.6 1555.5 1151.4 1556.1 1152.3 1556.7 1153.1 1557.3 1152.7 1559.1 1152.9 1559.7 1152.2 1560.3 1151.2 1560.9 1150.2 1561.5 1151.2 1562 1152.2 1562.6 1147.7 1563.2 1142.2 1563.8 1147.7 1564.4 1153 1566.2 1153.1 1568 1153.1 1569.8 1153.1 1571 1152.9 1571.6 1151.7 1572.2 1150.3 1572.8 1148.8 1573.4 1150.3 1574 1151.7 1574.6 1153.1 1575.2 1153 1577 1152.7 1578.8 1153.1 1580.6 1152.8 1582.4 1153 1584.2 1153.1 1586 1153.2 1587.8 1153.1 1589.6 1152.8 1591.4 1153 1593.2 1152.8 1595 1152.8 1596.8 1153.1 1598.6 1153 1600.4 1152.9 1602.2 1152.9 1604 1153 1605.8 1152.8 1607.6 1152.8 1609.4 1152.8 1611.2 1152.9 1611.8 1153 1612.4 1151.6 1613 1149.9 1613.6 1151.6 1614.2 1153.1 1614.8 1151.1 1615.4 1148.9 1616 1151.1 1616.6 1152.8 1617.8 1153.1 1618.4 1152.2 1619 1151.1 1619.6 1149.6 1620.2 1145.9 1620.8 1142.3 1621.4 1145.9 1622 1149.6 1622.6 1152.8 1623.8 1153 1625.6 1153.1 1627.4 1153.1 1629.2 1152.9 1631 1153.1 1632.8 1153.2 1633.4 1149.3 1634 1145.3 1634.6 1149.3 1635.2 1153.1 1636.4 1153.2 1638.2 1153.2 1640 1153.1 1641.8 1152.9 1642.4 1152.8 1643 1151.5 1643.6 1149.7 1644.2 1148.6 1644.8 1150.2 1645.4 1151.7 1646 1152.9 1647.2 1152.9 1647.8 1153.2 1648.4 1152.3 1649 1151.3 1649.6 1150.3 1650.2 1151.3 1650.8 1152.3 1651.4 1153.2 1652.6 1152.8 1654.4 1152.9 1656.2 1153 1658 1153.3 1659.8 1153.2 1661.6 1153 1663.4 1153 1665.2 1153.3 1667 1152.9 1667.6 1150.8 1668.2 1148.3 1668.8 1150.8 1669.4 1153.3 1670.6 1152.9 1672.4 1152.9 1673.6 1152.9 1674.2 1152.7 1674.8 1152.1 1675.4 1151.5 1676 1152.1 1676.6 1152.7 1677.2 1153 1677.8 1153.1 1679 1153 1679.6 1151.9 1680.2 1150.4 1680.8 1148.9 1681.4 1150.4 1682 1151.3 1682.6 1150.3 1683.2 1151.3 1683.8 1149.9 1684.4 1146.4 1685 1149.9 1685.6 1153.1 1686.8 1153.2 1687.4 1153.1 1688 1147.9 1688.6 1142.4 1689.2 1147.9 1689.8 1150.6 1690.4 1152 1691 1153.2 1692.2 1153 1693.4 1153.1 1694 1151.2 1694.6 1149.1 1695.2 1147 1695.8 1149.1 1696.4 1151.2 1697 1153 1697.6 1153.3 1698.2 1150.5 1698.8 1147.6 1699.4 1144.7 1700 1147.6 1700.6 1150.3 1701.2 1151.9 1701.8 1152.9 1703 1153.1 1704.8 1153.2 1706.6 1153.1 1707.8 1153.3 1708.4 1152.1 1709 1150.8 1709.6 1149.6 1710.2 1150.8 1710.8 1151 1711.4 1151.8 1712 1152.6 1712.6 1153.3 1713.8 1153.3 1715.6 1153.1 1717.4 1153.2 1719.2 1153 1721 1153.3 1722.8 1153.3 1724.6 1153.2 1726.4 1153.3 1728.2 1153.3 1730 1153.4 1731.8 1153.2 1733.6 1153.4 1735.4 1153 1737.2 1153.1 1739 1153.2 1740.8 1153.1 1742.6 1153.1 1744.4 1153.3 1746.2 1153.3 1748 1153.3 1749.8 1153.1 1751.6 1153 1753.4 1153 1755.2 1153.4 1757 1153.2 1758.8 1153.5 1760.6 1153.2 1762.4 1153.5 1764.2 1153 1766 1153.3 1767.8 1153.1 1769.6 1153.4 1771.4 1153.3 1773.2 1153.3 1775 1153.1 1776.8 1153.3 1778.6 1153.5 1780.4 1153.4 1782.2 1153.3 1784 1153.2 1785.8 1153.4 1787.6 1153.5 1788.2 1153.3 1788.8 1152.8 1789.4 1152.1 1790 1151.4 1790.6 1152.1 1791.2 1152.8 1791.8 1153.4 1793 1153.5 1793 1170.8 1792.4 1172.2 1791.8 1170.8 1791.2 1169.4 1790.6 1168.3 1789.4 1168.5 1787.6 1168.4 1785.8 1168.3 1784.6 1168.3 1784 1171.5 1783.4 1174.9 1782.8 1178.3 1782.2 1174.9 1781.6 1171.5 1781 1168.1 1780.4 1169.3 1779.8 1170.6 1779.2 1169.3 1778.6 1168.1 1776.8 1168.4 1775.6 1168 1775 1173.3 1774.4 1178.5 1773.8 1173.3 1773.2 1168.1 1771.4 1168.4 1769.6 1168.2 1767.8 1168.3 1766 1168.5 1764.2 1168.1 1762.4 1168.4 1760.6 1168.4 1758.8 1168 1757 1168.2 1755.2 1168.2 1753.4 1168.2 1751.6 1168 1749.8 1168.1 1748 1168.3 1746.2 1168.4 1744.4 1168.1 1742.6 1168.3 1740.8 1168.2 1739 1168.1 1737.2 1168.3 1735.4 1168 1733.6 1168.3 1731.8 1168.1 1730 1168 1728.2 1168.2 1726.4 1168.4 1724.6 1168.3 1722.8 1168.2 1721 1168.1 1719.2 1168.3 1717.4 1168.3 1715.6 1168 1713.8 1168 1712 1168 1710.2 1168.1 1708.4 1168 1706.6 1168.3 1704.8 1168.4 1703 1168.1 1701.2 1168.1 1699.4 1167.9 1698.2 1168 1697.6 1168.7 1697 1169.4 1696.4 1170.2 1695.8 1169.4 1695.2 1168.7 1694.6 1168 1694 1169 1693.4 1170.1 1692.8 1171.2 1692.2 1174.1 1691.6 1177.2 1691 1174.1 1690.4 1171 1689.8 1168.2 1689.2 1168 1688.6 1170.7 1688 1173.5 1687.4 1170.7 1686.8 1168.2 1685 1168.2 1683.2 1168.4 1682.6 1170.1 1682 1172.4 1681.4 1174.7 1680.8 1172.4 1680.2 1170.1 1679.6 1168.1 1678.4 1168.1 1677.8 1168.9 1677.2 1170 1676.6 1168.9 1676 1168.3 1674.2 1168.1 1673.6 1169.2 1673 1170.5 1672.4 1169.9 1671.8 1170.1 1671.2 1171.2 1670.6 1170.1 1670 1169 1669.4 1170.1 1668.8 1169.4 1668.2 1170.2 1667.6 1169.4 1667 1168.6 1666.4 1168 1665.2 1168.1 1663.4 1167.9 1662.2 1168.2 1661.6 1170.8 1661 1173.8 1660.4 1170.8 1659.8 1168.1 1658 1168.3 1656.2 1168.1 1655 1168.1 1654.4 1170.8 1653.8 1173.8 1653.2 1176.8 1652.6 1173.8 1652 1170.8 1651.4 1168.1 1650.8 1168.1 1649 1168.2 1647.2 1167.9 1645.4 1167.8 1643.6 1168 1641.8 1167.9 1640 1167.9 1638.2 1168.2 1637.6 1169.9 1637 1171.9 1636.4 1169.8 1635.8 1167.8 1634.6 1168.2 1634 1168.1 1633.4 1168.8 1632.8 1169.8 1632.2 1170.9 1631.6 1169.8 1631 1168.8 1630.4 1169.8 1629.8 1171.9 1629.2 1173.9 1628.6 1171.9 1628 1171.4 1627.4 1175.1 1626.8 1178.8 1626.2 1175.1 1625.6 1171.4 1625 1169.8 1624.4 1168.8 1623.8 1167.9 1622 1167.9 1620.2 1168 1618.4 1168 1616.6 1167.8 1616 1168.1 1615.4 1171.1 1614.8 1174.4 1614.2 1171.1 1613.6 1168.1 1613 1167.7 1612.4 1169.6 1611.8 1171.4 1611.2 1169.6 1610.6 1167.9 1609.4 1168.2 1607.6 1168.2 1605.8 1168.1 1604 1167.8 1602.2 1168.1 1600.4 1168 1598.6 1167.7 1596.8 1168.1 1595 1168.2 1593.2 1167.8 1591.4 1167.9 1589.6 1167.8 1587.8 1168.2 1586 1167.9 1584.2 1167.8 1582.4 1167.9 1580.6 1167.7 1578.8 1167.9 1577 1168.1 1575.2 1167.8 1573.4 1167.8 1571.6 1168 1569.8 1168.1 1568 1167.9 1566.2 1168 1564.4 1167.9 1563.8 1167.7 1563.2 1169.2 1562.6 1170.8 1562 1172.4 1561.5 1170.8 1560.9 1169.2 1560.3 1167.7 1559.1 1168.1 1557.9 1168.1 1557.3 1169.3 1556.7 1171 1556.1 1172.6 1555.5 1171 1554.9 1169.3 1554.3 1167.9 1553.7 1168 1553.1 1173.1 1552.5 1178.6 1551.9 1173.1 1551.3 1168.1 1550.1 1168.1 1548.3 1167.9 1546.5 1167.6 1544.7 1168.1 1542.9 1168.1 1541.1 1167.9 1539.3 1167.9 1537.5 1167.8 1535.7 1168.1 1533.9 1167.7 1532.1 1167.9 1530.3 1168 1528.5 1168 1526.7 1168.1 1524.9 1167.7 1523.1 1167.9 1521.3 1168 1519.5 1168 1517.7 1167.7 1515.9 1167.8 1514.1 1167.7 1512.3 1168 1510.5 1167.7 1508.7 1167.9 1506.9 1167.9 1505.1 1167.7 1503.3 1168 1501.5 1167.7 1499.7 1168 1497.9 1167.7 1496.1 1167.6 1494.3 1167.8 1492.5 1167.8 1490.7 1167.7 1488.9 1167.9 1487.1 1167.7 1485.3 1167.9 1483.5 1167.8 1481.7 1167.6 1479.9 1167.7 1478.1 1168 1476.3 1168 1474.5 1167.8 1472.7 1167.9 1470.9 1167.8 1469.1 1167.6 1467.3 1167.5 1466.7 1167.6 1466.1 1170.9 1465.5 1174.4 1464.9 1177.8 1464.3 1174.4 1463.7 1170.9 1463.1 1167.5 1461.9 1167.9 1460.1 1167.5 1458.3 1167.9 1456.5 1167.9 1454.7 1167.7 1452.9 1167.8 1451.1 1167.9 1449.3 1167.9 1447.5 1167.7 1445.7 1167.9 1443.9 1167.6 1442.1 1167.9 1440.3 1167.7 1438.5 1167.9 1436.7 1167.7 1434.9 1167.5 1433.1 1167.7 1431.3 1167.9 1429.5 1167.8 1427.7 1167.6 1425.9 1167.9 1424.1 1167.5 1422.3 1167.9 1420.5 1167.8 1418.7 1167.9 1416.9 1167.6 1415.1 1167.5 1413.3 1167.9 1411.5 1167.5 1409.7 1167.5 1407.9 1167.4 1406.1 1167.6 1404.3 1167.9 1402.5 1167.5 1400.7 1167.4 1400.1 1167.8 1399.5 1168.6 1398.9 1169.8 1398.3 1171 1397.7 1169.8 1397.1 1168.6 1396.5 1167.6 1395.9 1167.7 1395.3 1172.9 1394.7 1178.4 1394.1 1172.9 1393.5 1171.2 1392.9 1170.9 1392.3 1172.6 1391.7 1171.5 1391.1 1170.1 1390.5 1168.7 1389.9 1170.8 1389.3 1174.2 1388.7 1177.6 1388.1 1174.2 1387.5 1170.8 1386.9 1167.6 1386.3 1167.6 1384.5 1167.8 1382.7 1167.6 1380.9 1167.8 1379.1 1167.5 1377.3 1167.4 1375.5 1167.4 1373.7 1167.8 1371.9 1167.7 1370.1 1167.7 1368.3 1167.7 1366.5 1167.4 1364.7 1167.5 1362.9 1167.6 1361.1 1167.3 1359.3 1167.5 1357.5 1167.7 1355.7 1167.3 1353.9 1167.3 1352.7 1167.4 1352.1 1168.7 1351.5 1170.1 1350.9 1168.7 1350.3 1167.6 1348.5 1167.7 1346.7 1167.7 1344.9 1167.7 1343.1 1167.8 1341.3 1167.3 1340.7 1168.7 1340.1 1170.1 1339.5 1168.7 1338.9 1167.7 1337.7 1167.6 1335.9 1167.6 1335.3 1167.9 1334.7 1168.5 1334.1 1169.1 1333.5 1168.5 1332.9 1167.9 1332.3 1168.8 1331.7 1170.3 1331.1 1168.8 1330.5 1167.6Z"/>
</g>
<g fill="none" stroke="#00f" stroke-width="2.7">
<path d="M173.3 1301.8H211.7M192.5 1282.6V1321M178.9 1288.2L206.1 1315.4M178.9 1315.4L206.1 1288.2"/>
<path d="M234.8 1302H273.2M254 1282.8V1321.2M240.4 1288.4L267.6 1315.6M240.4 1315.6L267.6 1288.4"/>
<path d="M321.1 1153.4H359.5M340.3 1134.2V1172.6M326.7 1139.8L353.9 1167M326.7 1167L353.9 1139.8"/>
<path d="M405.1 1153.9H443.5M424.3 1134.7V1173.1M410.7 1140.3L437.9 1167.5M410.7 1167.5L437.9 1140.3"/>
<path d="M488.9 1152.6H527.3M508.1 1133.4V1171.8M494.5 1139L521.7 1166.2M494.5 1166.2L521.7 1139"/>
<path d="M573.4 1152.4H611.8M592.6 1133.2V1171.6M579 1138.8L606.2 1166M579 1166L606.2 1138.8"/>
<path d="M657.6 1153.4H696M676.8 1134.2V1172.6M663.2 1139.8L690.4 1167M663.2 1167L690.4 1139.8"/>
<path d="M742 1154.2H780.4M761.2 1135V1173.4M747.6 1140.6L774.8 1167.8M747.6 1167.8L774.8 1140.6"/>
<path d="M826.3 1151H864.7M845.5 1131.8V1170.2M831.9 1137.4L859.1 1164.6M831.9 1164.6L859.1 1137.4"/>
<path d="M910 1155.5H948.4M929.2 1136.3V1174.7M915.6 1141.9L942.8 1169.1M915.6 1169.1L942.8 1141.9"/>
<path d="M993.9 1153.2H1032.3M1013.1 1134V1172.4M999.5 1139.6L1026.7 1166.8M999.5 1166.8L1026.7 1139.6"/>
<path d="M1078.6 1150.2H1117M1097.8 1131V1169.4M1084.2 1136.6L1111.4 1163.8M1084.2 1163.8L1111.4 1136.6"/>
<path d="M1163.2 1152.2H1201.6M1182.4 1133V1171.4M1168.8 1138.6L1196 1165.8M1168.8 1165.8L1196 1138.6"/>
<path d="M1247.2 1107.6H1285.6M1266.4 1088.4V1126.8M1252.8 1094L1280 1121.2M1252.8 1121.2L1280 1094"/>
<path d="M1331.5 1165.7H1369.9M1350.7 1146.5V1184.9M1337.1 1152.1L1364.3 1179.3M1337.1 1179.3L1364.3 1152.1"/>
<path d="M1415.4 1164.3H1453.8M1434.6 1145.1V1183.5M1421 1150.7L1448.2 1177.9M1421 1177.9L1448.2 1150.7"/>
<path d="M1499.5 1154H1537.9M1518.7 1134.8V1173.2M1505.1 1140.4L1532.3 1167.6M1505.1 1167.6L1532.3 1140.4"/>
<path d="M1583.5 1165.8H1621.9M1602.7 1146.6V1185M1589.1 1152.2L1616.3 1179.4M1589.1 1179.4L1616.3 1152.2"/>
<path d="M1668 1156H1706.4M1687.2 1136.8V1175.2M1673.6 1142.4L1700.8 1169.6M1673.6 1169.6L1700.8 1142.4"/>
<path d="M1752.2 1166.5H1790.6M1771.4 1147.3V1185.7M1757.8 1152.9L1785 1180.1M1757.8 1180.1L1785 1152.9"/>
</g>
<g fill="none" stroke-width="2.7" stroke-linejoin="miter" stroke-miterlimit="4">
<polyline stroke="#f00" points="193,1212.5 196,1212.5 199,1212.5 202,1212.5 205,1212.5 208.1,1212.5 211.1,1212.5 214.1,1212.5 217.1,1212.5 220.1,1212.5 223.1,1212.5 226.1,1212.5 229.1,1212.5 232.1,1212.5 235.1,1212.5 238.2,1212.5 241.2,1212.5 244.2,1212.5 247.2,1212.5 250.2,1212.5 253.2,1212.5 256.2,1212.5 259.2,1212.5 262.2,1212.5 265.3,1212.5 268.3,1212.5 271.3,1212.5 274.3,1212.5 277.3,1212.5 280.3,1212.5 283.3,1212.5 286.3,1212.5 289.3,1212.5 292.3,1212.5 295.4,1212.5 298.4,1212.5 301.4,1212.5 304.4,1212.5 307.4,1212.5 307.8,1212.5 333,1297.2 335,1300.6 336.5,1301.8 339.5,1301.8 342.5,1301.8 345.5,1301.8 348.5,1301.8 351.5,1301.8 354.5,1301.8 357.5,1301.8 360.5,1301.8 363.6,1301.8 366.6,1301.8 369.6,1301.8 372.6,1301.8 375.6,1301.8 378.6,1301.8 381.6,1301.8 384.6,1301.8 387.6,1301.8 390.6,1301.8 393.6,1301.8 396.6,1301.8 399.6,1301.8 402.6,1301.8 405.6,1301.8 408.6,1301.8 411.6,1301.8 414.6,1301.8 417.7,1301.8 420.7,1301.8 423.7,1301.8 426.7,1301.8 429.7,1301.8 432.7,1301.8 435.7,1301.8 438.7,1301.8 441.7,1301.8 444.7,1301.8 447.7,1301.8 450.7,1301.8 453.7,1301.8 456.7,1301.8 459.7,1301.8 462.7,1301.8 465.7,1301.8 468.7,1301.8 471.8,1301.8 474.8,1301.8 477.8,1301.8 480.8,1301.8 483.8,1301.8 486.8,1301.8 489.8,1301.8 492.8,1301.8 495.8,1301.8 498.8,1301.8 501.8,1301.8 504.8,1301.8 507.8,1301.8 510.8,1301.8 513.8,1301.8 516.8,1301.8 519.8,1301.8 522.9,1301.8 525.9,1301.8 528.9,1301.8 531.9,1301.8 534.9,1301.8 537.9,1301.8 540.9,1301.8 543.9,1301.8 546.9,1301.8 549.9,1301.8 552.9,1301.8 555.9,1301.8 558.9,1301.8 561.9,1301.8 564.9,1301.8 567.9,1301.8 570.9,1301.8 573.9,1301.8 577,1301.8 580,1301.8 583,1301.8 586,1301.8 589,1301.8 592,1301.8 595,1301.8 598,1301.8 601,1301.8 604,1301.8 607,1301.8 610,1301.8 613,1301.8 616,1301.8 619,1301.8 622,1301.8 625,1301.8 628,1301.8 631.1,1301.8 634.1,1301.8 637.1,1301.8 640.1,1301.8 643.1,1301.8 646.1,1301.8 649.1,1301.8 652.1,1301.8 655.1,1301.8 658.1,1301.8 661.1,1301.8 664.1,1301.8 667.1,1301.8 670.1,1301.8 673.1,1301.8 676.1,1301.8 679.1,1301.8 682.2,1301.8 685.2,1301.8 688.2,1301.8 691.2,1301.8 694.2,1301.8 697.2,1301.8 700.2,1301.8 703.2,1301.8 706.2,1301.8 709.2,1301.8 712.2,1301.8 715.2,1301.8 718.2,1301.8 721.2,1301.8 724.2,1301.8 727.2,1301.8 730.2,1301.8 733.2,1301.8 736.3,1301.8 739.3,1301.8 742.3,1301.8 745.3,1301.8 748.3,1301.8 751.3,1301.8 754.3,1301.8 757.3,1301.8 760.3,1301.8 763.3,1301.8 766.3,1301.8 769.3,1301.8 772.3,1301.8 775.3,1301.8 778.3,1301.8 781.3,1301.8 784.3,1301.8 787.3,1301.8 790.4,1301.8 793.4,1301.8 796.4,1301.8 799.4,1301.8 802.4,1301.8 805.4,1301.8 808.4,1301.8 811.4,1301.8 814.4,1301.8 817.4,1301.8 820.4,1301.8 823.4,1301.8 826.4,1301.8 829.4,1301.8 832.4,1301.8 835.4,1301.8 838.4,1301.8 841.5,1301.8 844.5,1301.8 847.5,1301.8 850.5,1301.8 853.5,1301.8 856.5,1301.8 859.5,1301.8 862.5,1301.8 865.5,1301.8 868.5,1301.8 871.5,1301.8 874.5,1301.8 877.5,1301.8 880.5,1301.8 883.5,1301.8 886.5,1301.8 889.5,1301.8 892.5,1301.8 895.6,1301.8 898.6,1301.8 901.6,1301.8 904.6,1301.8 907.6,1301.8 910.6,1301.8 913.6,1301.8 916.6,1301.8 919.6,1301.8 922.6,1301.8 925.6,1301.8 928.6,1301.8 931.6,1301.8 934.6,1301.8 937.6,1301.8 940.6,1301.8 943.6,1301.8 946.6,1301.8 949.7,1301.8 952.7,1301.8 955.7,1301.8 958.7,1301.8 961.7,1301.8 964.7,1301.8 967.7,1301.8 970.7,1301.8 973.7,1301.8 976.7,1301.8 979.7,1301.8 982.7,1301.8 985.7,1301.8 988.7,1301.8 991.7,1301.8 994.7,1301.8 997.7,1301.8 1000.8,1301.8 1003.8,1301.8 1006.8,1301.8 1009.8,1301.8 1012.8,1301.8 1015.8,1301.8 1018.8,1301.8 1021.8,1301.8 1024.8,1301.8 1027.8,1301.8 1030.8,1301.8 1033.8,1301.8 1036.8,1301.8 1039.8,1301.8 1042.8,1301.8 1045.8,1301.8 1048.8,1301.8 1051.8,1301.8 1054.9,1301.8 1057.9,1301.8 1060.9,1301.8 1063.9,1301.8 1066.9,1301.8 1069.9,1301.8 1072.9,1301.8 1075.9,1301.8 1078.9,1301.8 1081.9,1301.8 1084.9,1301.8 1087.9,1301.8 1090.9,1301.8 1093.9,1301.8 1096.9,1301.8 1099.9,1301.8 1102.9,1301.8 1105.9,1301.8 1109,1301.8 1112,1301.8 1115,1301.8 1118,1301.8 1121,1301.8 1124,1301.8 1127,1301.8 1130,1301.8 1133,1301.8 1136,1301.8 1139,1301.8 1142,1301.8 1145,1301.8 1148,1301.8 1151,1301.8 1154,1301.8 1157,1301.8 1160.1,1301.8 1163.1,1301.8 1166.1,1301.8 1169.1,1301.8 1172.1,1301.8 1175.1,1301.8 1178.1,1301.8 1181.1,1301.8 1184.1,1301.8 1187.1,1301.8 1190.1,1301.8 1193.1,1301.8 1196.1,1301.8 1199.1,1301.8 1202.1,1301.8 1205.1,1301.8 1208.1,1301.8 1211.1,1301.8 1214.2,1301.8 1217.2,1301.8 1220.2,1301.8 1223.2,1301.8 1226.2,1301.8 1229.2,1301.8 1232.2,1301.8 1235.2,1301.8 1238.2,1301.8 1241.2,1301.8 1244.2,1301.8 1247.2,1301.8 1250.2,1301.8 1253.2,1301.8 1256.2,1301.8 1259.2,1301.8 1262.2,1301.8 1265.2,1301.8 1268.3,1301.8 1271.3,1301.8 1274.3,1301.8 1277.3,1301.8 1280.3,1301.8 1283.3,1301.8 1286.3,1301.8 1289.3,1301.8 1292.3,1301.8 1295.3,1301.8 1298.3,1301.8 1301.3,1301.8 1304.3,1301.8 1307.3,1301.8 1310.3,1301.8 1313.3,1301.8 1316.3,1301.8 1319.4,1301.8 1322.4,1301.8 1325.4,1301.8 1328.4,1301.8 1331.4,1301.8 1334.4,1301.8 1337.4,1301.8 1340.4,1301.8 1343.4,1301.8 1346.4,1301.8 1349.4,1301.8 1352.4,1301.8 1355.4,1301.8 1358.4,1301.8 1361.4,1301.8 1364.4,1301.8 1367.4,1301.8 1370.4,1301.8 1373.5,1301.8 1376.5,1301.8 1379.5,1301.8 1382.5,1301.8 1385.5,1301.8 1388.5,1301.8 1391.5,1301.8 1394.5,1301.8 1397.5,1301.8 1400.5,1301.8 1403.5,1301.8 1406.5,1301.8 1409.5,1301.8 1412.5,1301.8 1415.5,1301.8 1418.5,1301.8 1421.5,1301.8 1424.5,1301.8 1427.6,1301.8 1430.6,1301.8 1433.6,1301.8 1436.6,1301.8 1439.6,1301.8 1442.6,1301.8 1445.6,1301.8 1448.6,1301.8 1451.6,1301.8 1452,1301.5 1452.3,291 1452.8,303 1455.9,308.3 1458.9,313.6 1462,318.8 1465,323.8 1468.1,328.6 1471.1,333.3 1474.2,338 1477.3,342.6 1480.3,347.1 1483.4,351.6 1486.4,355.9 1489.5,360 1492.6,364.1 1495.6,367.9 1498.7,371.6 1501.7,374.9 1504.8,377.9 1507.8,380.8 1510.9,383.6 1514,386.2 1517,388.6 1520.1,390.9 1523.1,393.1 1526.2,395.2 1529.3,397.4 1532.3,399.6 1535.4,402 1538.4,404.4 1541.5,406.8 1544.5,409.2 1547.6,411.5 1548.1,411.9 1548.3,1301.5 1548.8,1301.8 1551.9,1301.8 1555,1301.8 1558.1,1301.8 1561.2,1301.8 1564.4,1301.8 1567.5,1301.8 1570.6,1301.8 1573.7,1301.8 1576.8,1301.8 1579.9,1301.8 1583,1301.8 1586.1,1301.8 1589.3,1301.8 1592.4,1301.8 1595.5,1301.8 1598.6,1301.8 1598.9,1301.5 1599.1,291 1599.6,301.3 1602.6,306.4 1605.6,311.5 1608.7,316.5 1611.7,321.3 1614.7,326 1617.7,330.6 1620.8,335.1 1623.8,339.5 1626.8,343.9 1629.8,348.3 1632.9,352.5 1635.9,356.5 1638.9,360.5 1641.9,364.3 1645,368 1648,371.5 1651,374.7 1654,377.6 1657.1,380.4 1660.1,383 1663.1,385.6 1666.1,388 1669.2,390.2 1672.2,392.4 1675.2,394.4 1678.2,396.4 1681.3,398.5 1684.3,400.8 1687.3,403.1 1690.3,405.4 1693.4,407.7 1696.4,410 1699.4,412.2 1699.8,412.5 1700,1301.5 1700.5,1301.8 1703.7,1301.8 1706.8,1301.8 1710,1301.8 1713.2,1301.8 1716.3,1301.8 1719.5,1301.8 1722.7,1301.8 1725.8,1301.8 1729,1301.8 1732.2,1301.8 1735.3,1301.8 1738.5,1301.8 1741.7,1301.8 1744.8,1301.8 1748,1301.8 1748.2,1301.5 1748.4,291 1748.9,302.4 1752.1,308 1755.2,313.6 1758.4,319.1 1761.5,324.4 1764.7,329.5 1767.8,334.5 1771,339.4 1774.1,344.3 1777.2,349.1 1780.4,353.7 1783.5,358.2 1786.7,362.5 1789.8,366.7 1793,370.6 1793,370.6"/>
<path fill="#f00" stroke="none" d="M193 1206.5 193.6 1208.3 194.2 1209.3 194.8 1208 195.4 1205.7 196 1208 196.6 1207.6 197.2 1205.1 197.8 1207.7 198.4 1210.2 199 1206.6 199.6 1202.9 200.2 1206.6 200.8 1205 201.4 1210.3 202 1210.1 203.8 1210.2 205 1210 205.6 1205.9 206.2 1207.5 206.8 1208.9 207.4 1207.5 208 1206.6 208.6 1208.5 209.2 1208.4 209.8 1210.1 210.4 1208.1 211 1210 211.6 1204.9 212.2 1199.5 212.8 1204.9 213.4 1206.2 214 1207.9 214.6 1208.5 215.2 1206.6 215.8 1204.8 216.4 1199.5 217 1210.1 217.6 1207.7 218.2 1205.2 218.8 1207.8 219.4 1206.5 220 1201.4 220.6 1209.9 221.2 1208.1 221.7 1210.1 222.3 1206.6 222.9 1208.2 223.5 1206.1 224.1 1207.2 224.7 1203.3 225.3 1206.5 225.9 1206.5 226.5 1202.9 227.1 1205.3 227.7 1207.8 228.3 1204.9 228.9 1199.5 229.5 1204.9 230.1 1206 230.7 1210 231.3 1207.5 231.9 1204.7 232.5 1207.5 233.1 1210 234.3 1210.3 234.9 1206.3 235.5 1207.2 236.1 1208.8 236.7 1207.7 237.3 1205 237.9 1207.7 238.5 1205.7 239.1 1203.7 239.7 1209.9 240.3 1205.8 240.9 1201.2 241.5 1205.8 242.1 1206.9 242.7 1210.1 243.3 1210.1 243.9 1209.9 244.5 1204.9 245.1 1199.5 245.7 1204.9 246.3 1210.3 246.9 1210.2 247.5 1205.2 248.1 1200 248.7 1204.5 249.3 1205.7 249.9 1208 250.5 1210.1 252.3 1210.2 254.1 1210 254.7 1209.9 255.3 1207.8 255.9 1205.3 256.5 1205.5 257.1 1200.6 257.7 1205.5 258.3 1208.7 258.9 1207 259.5 1206.8 260.1 1203.3 260.7 1206.8 261.3 1210.3 263.1 1209.9 263.7 1208 264.3 1209.9 264.9 1210.3 265.5 1210.3 266.1 1207.3 266.7 1210.1 268.5 1210 270.3 1209.9 272.1 1210.1 273.9 1209.9 274.5 1207.5 275.1 1204.7 275.7 1207.5 276.3 1210 277.5 1210 279.2 1209.9 281 1210.1 282.8 1210.2 284.6 1209.9 285.8 1209.9 286.4 1208.2 287 1210.1 288.2 1209.9 288.8 1210 289.4 1203.7 290 1210.3 291.8 1210.3 293 1210.1 293.6 1208.4 294.2 1206.5 294.8 1208.4 295.4 1210.3 296.6 1210.3 297.2 1206.2 297.8 1202.1 298.4 1206.2 299 1208.2 299.6 1206 300.2 1206.4 300.8 1207.5 301.4 1208.9 302 1210.3 302.6 1209.9 304.4 1210.1 305.6 1210.3 306.2 1209 306.8 1207.6 307.4 1209 307.4 1225 306.8 1219.8 306.2 1216.5 305.6 1218.3 305 1216.5 304.4 1218.1 303.8 1221.5 303.2 1218.1 302.6 1214.9 300.8 1215.1 299 1215.1 298.4 1215 297.8 1216 297.2 1217.4 296.6 1216 296 1215 295.4 1215.1 294.2 1215.1 293.6 1219.1 293 1214.9 292.4 1214.9 291.8 1217.8 291.2 1221 290.6 1217.8 290 1215.6 289.4 1214.9 288.2 1214.7 286.4 1214.7 285.8 1216.5 285.2 1219.9 284.6 1225.2 284 1219.9 283.4 1215.1 282.8 1218.2 282.2 1217.3 281.6 1217.9 281 1217.6 280.4 1215 279.8 1215 279.2 1220.1 278.7 1225.5 278.1 1220.1 277.5 1214.8 275.7 1215 275.1 1215.1 274.5 1215.9 273.9 1217.2 273.3 1215.9 272.7 1214.8 272.1 1216.1 271.5 1217.6 270.9 1216.1 270.3 1220.9 269.7 1215.1 268.5 1214.8 267.9 1214.7 267.3 1217.3 266.7 1219.9 266.1 1217.3 265.5 1214.9 264.9 1215.1 264.3 1215 263.7 1216.1 263.1 1217.5 262.5 1216.1 261.9 1214.9 261.3 1214.7 260.7 1214.8 260.1 1218.2 259.5 1217.8 258.9 1220.9 258.3 1218.2 257.7 1217.8 257.1 1216.6 256.5 1215.1 255.9 1218.4 255.3 1214.8 254.7 1215 254.1 1220.1 253.5 1225.5 252.9 1220.1 252.3 1218.3 251.7 1216.5 251.1 1215.1 250.5 1214.7 249.9 1214.9 249.3 1219.6 248.7 1215.1 248.1 1214.7 247.5 1217.1 246.9 1219.5 246.3 1220.3 245.7 1215.7 245.1 1216.8 244.5 1217 243.9 1219.4 243.3 1217.1 242.7 1217.7 242.1 1220.8 241.5 1217.7 240.9 1215.1 239.7 1215 238.5 1214.8 237.9 1215.6 237.3 1217 236.7 1219.4 236.1 1218.4 235.5 1222.1 234.9 1222.2 234.3 1218.4 233.7 1214.7 233.1 1215.7 232.5 1216.7 231.9 1215.7 231.3 1215.1 230.7 1214.8 229.5 1214.9 228.9 1221.2 228.3 1220.7 227.7 1217.7 227.1 1216.8 226.5 1218.9 225.9 1218.1 225.3 1214.7 224.7 1219.4 224.1 1218 223.5 1217.5 222.9 1220.3 222.3 1217.5 221.7 1216.3 221.2 1217.9 220.6 1217.6 220 1216.1 219.4 1218 218.8 1220.5 218.2 1217.6 217.6 1214.8 217 1217.4 216.4 1219.5 215.8 1224.4 215.2 1219.5 214.6 1218.9 214 1219.4 213.4 1217.1 212.8 1218.4 212.2 1214.8 211.6 1215.1 211 1216.6 210.4 1215 209.8 1215.1 209.2 1216.7 208.6 1214.7 207.4 1214.7 205.6 1214.7 204.4 1214.9 203.8 1219.8 203.2 1214.9 202.6 1214.7 202 1218.2 201.4 1215 200.2 1215.1 198.4 1215 197.8 1219.4 197.2 1217 196.6 1219.4 196 1217 195.4 1219.2 194.8 1223.7 194.2 1219.2 193.6 1217.3 193 1219.9ZM336.5 1297.2 337.1 1298.4 337.7 1299.2 338.3 1299.4 338.9 1294.2 339.5 1288.8 340.1 1294.2 340.7 1298.3 341.3 1296.9 341.9 1298.3 342.5 1299.5 343.1 1295.7 343.7 1297.4 344.3 1295.4 344.9 1299.3 345.5 1297.7 346.1 1291.5 346.7 1299.4 347.3 1299.3 349.1 1299.2 350.9 1299.5 351.5 1299.4 352.1 1298.4 352.7 1297.1 353.3 1298.4 353.9 1299.5 354.5 1299.6 356.3 1299.6 356.9 1299.6 357.5 1297.5 358.1 1299.3 358.7 1299.3 359.3 1297.3 359.9 1294.9 360.5 1297.3 361.1 1299.2 361.7 1298.4 362.3 1297.2 362.9 1295.3 363.5 1295.9 364.1 1294.1 364.7 1296.9 365.3 1298.1 365.9 1296.6 366.5 1297.7 367.1 1298.7 367.7 1292.7 368.3 1294.2 368.9 1299.4 370.1 1299.4 370.7 1293.7 371.3 1296.1 371.9 1297.9 372.5 1299.6 373.7 1299.5 374.3 1298.7 374.9 1297.7 375.5 1298.6 376.1 1297.1 376.7 1294.6 377.3 1294.2 377.9 1288.8 378.5 1294.2 379.1 1298.5 379.7 1291 380.3 1297 380.9 1298.3 381.5 1299.2 382.1 1298.6 382.7 1297.5 383.3 1298.6 383.9 1299.6 384.5 1296.9 385.1 1299.4 385.7 1299.3 386.3 1293.9 386.9 1297 387.5 1298.3 388.1 1295.8 388.7 1296.5 389.3 1296.3 389.9 1298 390.5 1299.3 391.1 1297.9 391.7 1296.2 392.3 1297.9 392.9 1297.6 393.5 1299.6 394.1 1299.4 395.9 1299.2 397.7 1299.6 398.3 1296.9 398.9 1299.2 399.5 1290.9 400.1 1296.6 400.7 1293.6 401.3 1294.2 401.9 1288.8 402.5 1291.2 403.1 1288.8 403.7 1299.2 404.3 1299.5 404.9 1297.8 405.5 1295.9 406.1 1297.7 406.7 1295.7 407.3 1297.7 407.9 1293.8 408.5 1299.3 409.7 1299.5 410.3 1295.3 410.9 1299.6 411.5 1294.9 412.1 1299.6 413.9 1299.3 414.5 1299.3 415.1 1293 415.7 1299.5 417.5 1299.3 419.3 1299.3 421.1 1299.6 422.9 1299.6 424.7 1299.3 426.5 1299.3 428.3 1299.4 428.9 1291.1 429.5 1299.6 430.1 1299.2 430.7 1299.6 431.3 1298.1 431.9 1296.5 432.5 1298.1 433.1 1299.4 433.7 1299.5 434.3 1299.6 434.9 1295 435.5 1299.3 437.3 1299.5 438.5 1299.4 439.1 1295.5 439.7 1294.2 440.3 1288.8 440.9 1294.2 441.5 1299.6 442.7 1299.5 444.5 1299.2 445.1 1291.7 445.7 1299.3 446.3 1299.2 446.9 1299.4 447.5 1291.4 448.1 1299.6 448.7 1299.4 449.3 1288.8 449.9 1297.1 450.5 1297.4 451.1 1299.3 451.7 1299.5 452.3 1299.5 452.9 1294.4 453.5 1298.6 454.1 1297.3 454.7 1294.9 455.3 1293.6 455.9 1295.5 456.5 1296.3 457.1 1298 457.7 1299.2 458.3 1293.3 458.9 1290.3 459.5 1295 460.1 1297.2 460.7 1297.3 461.3 1298.5 461.9 1299.5 462.5 1299.6 463.1 1296 463.7 1297.8 464.3 1296.3 464.9 1295.9 465.5 1296.1 466.1 1299.4 466.7 1299.5 467.3 1295.7 467.9 1291.7 468.5 1295.7 469.1 1292.9 469.7 1299.2 470.3 1295.8 470.9 1292 471.5 1295.8 472.1 1295.2 472.7 1297.4 473.3 1299.2 475.1 1299.5 476.9 1299.2 478.1 1299.3 478.7 1296.8 479.3 1294 479.9 1296.8 480.5 1299.4 482.3 1299.3 482.9 1289.2 483.5 1299.3 484.1 1294.2 484.7 1288.8 485.3 1294.2 485.9 1298.7 486.5 1297.7 487.1 1298.7 487.7 1299.2 489.5 1299.5 490.1 1299.5 490.7 1296.6 491.3 1299.2 492.5 1299.3 493.1 1298.1 493.7 1296.5 494.3 1298.1 494.9 1299.3 496.7 1299.6 497.3 1296.7 497.9 1297.9 498.5 1296.2 499.1 1296.6 499.7 1298.1 500.3 1299.3 502.1 1299.2 502.7 1298.5 503.3 1297.3 503.9 1298.5 504.5 1299.6 505.1 1297.6 505.7 1299.2 506.3 1298.7 506.9 1297.7 507.5 1298.7 508.1 1299.2 508.7 1299.4 509.3 1297.8 509.9 1296 510.5 1297.8 511.1 1299.6 511.7 1299.2 512.3 1293.9 512.9 1292 513.5 1295.8 514.1 1293.9 514.7 1296.8 515.3 1291.6 515.9 1299.5 516.5 1292.6 517.1 1299.6 517.7 1297.8 518.3 1295.9 518.9 1293.7 519.5 1290.4 520.1 1299.3 520.7 1299.5 521.3 1296 521.9 1292.4 522.6 1296 523.2 1296.3 523.8 1299.2 524.4 1297.4 525 1295.2 525.6 1293.1 526.2 1299.3 527.4 1299.5 528 1299.3 528.6 1294.9 529.2 1294.2 529.8 1296.9 530.4 1299.2 531 1298 531.6 1296.4 532.2 1295.8 532.8 1293.6 533.4 1296.6 534 1299.5 534.6 1297.3 535.2 1299.6 535.8 1294.7 536.4 1297.7 537 1295.6 537.6 1297 538.2 1298.3 538.8 1298.5 539.4 1297.3 540 1298.5 540.6 1296.3 541.2 1297.2 541.8 1294.7 542.4 1297.2 543 1299.4 543.6 1299.5 545.4 1299.5 547.2 1299.2 547.8 1299.3 548.4 1297.1 549 1294.6 549.6 1297.1 550.2 1299.5 550.8 1299.6 551.4 1293.9 552 1299.6 552.6 1299.4 553.2 1297 553.8 1294.4 554.4 1297 555 1299.3 555.6 1297.1 556.2 1294.5 556.8 1291.5 557.4 1296.3 558 1299.2 559.8 1299.6 560.4 1295.5 561 1295.1 561.6 1297.4 562.2 1299.3 563.4 1299.6 564 1294.4 564.6 1299.2 565.2 1295.6 565.8 1291.5 566.4 1295.6 567 1299.3 568.8 1299.3 570.6 1299.4 572.4 1299.2 573 1297.6 573.6 1295.5 574.2 1297.6 574.8 1299.2 576 1299.4 577.8 1299.5 578.4 1299.6 579 1297.1 579.6 1294.5 580.2 1297.1 580.8 1299.5 581.4 1299.2 582 1295.5 582.6 1295.3 583.2 1299.6 585 1299.3 586.2 1299.2 586.8 1297.6 587.4 1299.6 588.6 1299.6 589.2 1299.6 589.8 1291.3 590.4 1299.6 592.2 1299.5 594 1299.6 594.6 1299.2 595.2 1292.7 595.8 1299.4 597.6 1299.6 599.4 1299.4 600 1299.2 600.6 1297.3 601.2 1299.3 603 1299.3 603.6 1291.1 604.2 1297.6 604.8 1296 605.4 1299.5 606 1299.3 606.6 1294.6 607.2 1299.6 607.8 1298 608.4 1296.3 609 1298 609.6 1299.3 610.2 1299.2 610.8 1297.7 611.4 1299.3 612 1299.3 612.6 1297.8 613.2 1296 613.8 1297.8 614.4 1299.3 615.6 1299.3 616.8 1299.3 617.4 1297.7 618 1299.2 619.2 1299.5 621 1299.3 622.2 1299.6 622.8 1292.9 623.4 1299.4 624.6 1299.6 625.2 1296.1 625.8 1299.3 626.4 1299.2 627 1292.2 627.6 1299.2 628.2 1299.2 630 1299.3 630.6 1299.3 631.2 1296.3 631.8 1298.7 632.4 1297.7 633 1298.7 633.6 1299.2 634.2 1299.2 634.8 1297 635.4 1296.2 636 1297.9 636.6 1299.5 637.2 1299.5 637.8 1299.4 638.4 1293.3 639 1297.7 639.6 1298.7 640.2 1299.3 640.8 1299.4 641.4 1299.5 642 1297.6 642.6 1299.2 643.8 1299.4 644.4 1296.2 645 1299.2 645.6 1299.5 646.2 1295.3 646.8 1299.4 648 1299.6 649.8 1299.3 650.4 1299.4 651 1298.6 651.6 1297.5 652.2 1298.5 652.8 1297.3 653.4 1298.5 654 1299.4 655.2 1299.4 655.8 1297.5 656.4 1295.4 657 1294.2 657.6 1288.8 658.2 1294.2 658.8 1290 659.4 1294.8 660 1299.6 660.6 1299.5 661.2 1295.9 661.8 1295.7 662.4 1288.8 663 1297.7 663.6 1295.7 664.2 1295.3 664.8 1299.4 666 1299.2 666.6 1299.3 667.2 1295.4 667.8 1299.2 668.4 1290 669 1299.6 669.6 1299.4 670.2 1299.2 670.8 1296.2 671.4 1299.2 672 1288.8 672.6 1295.8 673.2 1297.7 673.8 1296.9 674.4 1299.4 675 1299.5 675.6 1296.2 676.2 1292.8 676.8 1296.2 677.4 1297.8 678 1299.6 678.6 1296.2 679.2 1292.7 679.8 1296.2 680.4 1298.3 681 1299.4 682.2 1299.6 682.8 1295.8 683.4 1299.5 684 1296.6 684.6 1293.6 685.2 1296.6 685.8 1299.2 686.4 1297.7 687 1297.3 687.6 1294.9 688.2 1297.3 688.8 1298.5 689.4 1297.3 690 1298.5 690.6 1299.4 691.2 1294.2 691.8 1288.8 692.4 1289.3 693 1294.5 693.6 1298 694.2 1296.3 694.8 1297.1 695.4 1297.5 696 1295.4 696.6 1297.3 697.2 1298.5 697.8 1299.2 698.4 1299.2 699 1294.7 699.6 1299.5 700.2 1299.5 700.8 1294.8 701.4 1299.6 702 1299.5 702.6 1291.7 703.2 1299.2 703.8 1299.6 705.6 1299.5 707.4 1299.4 708 1299.6 708.6 1297.2 709.2 1299.2 711 1299.4 711.6 1296.2 712.2 1299.3 712.8 1288.8 713.4 1299.4 714 1293.8 714.6 1294.6 715.2 1297.1 715.8 1299.3 716.4 1296.3 717 1298.1 717.6 1296.5 718.2 1298.1 718.8 1299.5 719.4 1297.4 720 1288.8 720.6 1299.6 721.8 1299.3 722.4 1288.8 723 1299.6 723.6 1290.8 724.2 1291.9 724.8 1295.8 725.4 1294.9 726 1295.8 726.6 1297.6 727.2 1298.1 727.8 1296.5 728.4 1298.1 729 1295.2 729.6 1299.6 730.2 1296.7 730.8 1298.4 731.4 1297.1 732 1296.9 732.6 1294.1 733.2 1296.9 733.8 1299.2 734.4 1297.2 735 1294.8 735.6 1297.1 736.2 1298.4 736.8 1299.4 737.4 1294.7 738 1299.5 739.2 1299.5 739.8 1295.5 740.4 1299.6 741.6 1299.2 743.4 1299.4 744 1288.8 744.6 1299.6 745.2 1299.3 746.4 1299.6 747 1297.7 747.6 1299.3 748.8 1299.5 749.4 1299.5 750 1296.7 750.6 1295.6 751.2 1297.6 751.8 1295.5 752.4 1293.4 753 1296.5 753.6 1297.1 754.2 1294.6 754.8 1294.7 755.4 1297.2 756 1288.8 756.6 1299.5 757.8 1299.4 759.6 1299.3 760.8 1299.3 761.4 1294.9 762 1290.1 762.6 1294.9 763.2 1297.5 763.8 1298.6 764.4 1298 765 1296.4 765.6 1298 766.2 1299.3 766.8 1299.3 768.6 1299.2 769.2 1298 769.8 1296.3 770.4 1298 771 1299.4 771.6 1299.6 772.2 1298.6 772.8 1297.5 773.4 1298.6 774 1299.2 775.2 1299.5 775.8 1297.5 776.4 1299.4 777 1296.6 777.6 1296.7 778.2 1298.2 778.8 1299.2 779.4 1299.5 780 1299.4 780.6 1298.1 781.2 1296.5 781.8 1296.8 782.4 1299.5 783 1297.3 783.6 1294.9 784.2 1297.3 784.8 1295.1 785.4 1290.6 786 1295.1 786.6 1298.4 787.2 1295.6 787.8 1296.5 788.4 1291.7 789 1297.5 789.6 1295.4 790.2 1297.5 790.8 1299.3 791.4 1294.3 792 1294.2 792.6 1288.8 793.2 1294.2 793.8 1299.4 794.4 1299.2 795 1297.1 795.6 1299.5 796.2 1299.6 796.8 1297.9 797.4 1296.1 798 1297.9 798.6 1297.6 799.2 1295.6 799.8 1297.6 800.4 1299.2 801 1299.3 802.8 1299.4 804.6 1299.4 805.2 1294.3 805.8 1298.2 806.4 1296.8 807 1296 807.6 1297.8 808.2 1299.2 809.4 1299.3 810 1297.3 810.6 1299.5 811.2 1296.5 811.8 1299.6 813 1299.2 813.6 1297.2 814.2 1299.6 814.8 1299.2 815.4 1297.4 816 1295.2 816.6 1294.2 817.2 1288.8 817.8 1294.2 818.4 1288.8 819 1295.8 819.6 1297.7 820.2 1296.9 820.8 1297.8 821.4 1298.7 822 1297.1 822.6 1294.6 823.2 1297.1 823.8 1299.3 824.4 1299.5 825 1299.3 825.6 1291.8 826.2 1299.6 828 1299.3 828.6 1297.7 829.2 1299.6 829.8 1299.6 831 1299.4 831.6 1294.2 832.2 1288.8 832.8 1294.2 833.4 1299.3 834 1294.2 834.6 1288.8 835.2 1294 835.8 1295.2 836.4 1297.4 837 1299.3 838.8 1299.4 839.4 1294.2 840 1294.2 840.6 1288.8 841.2 1294.2 841.8 1299.4 842.4 1299.5 843.6 1299.5 844.2 1297.1 844.8 1294.5 845.4 1294.5 846 1297.1 846.6 1299.5 847.8 1299.6 849 1299.2 849.6 1291.4 850.2 1299.4 850.8 1297.5 851.4 1297.5 852 1298.6 852.6 1299.6 853.2 1299.2 853.8 1299.3 854.4 1295.7 855 1296.2 855.6 1296.5 856.2 1298.4 856.8 1297.2 857.4 1295 858 1294.2 858.6 1296.9 859.2 1299.6 860.4 1299.4 861 1297.5 861.6 1294.1 862.2 1299.4 864 1299.2 864.6 1298.6 865.2 1294.2 865.8 1288.8 866.4 1294.2 867 1299.5 867.6 1299.4 868.2 1299.6 868.8 1298.6 869.4 1297.6 870 1297.3 870.6 1299.3 871.2 1295.1 871.8 1297.4 872.4 1297.5 873 1295.3 873.6 1297.3 874.2 1297.7 874.8 1299.3 875.4 1292.4 876 1296.4 876.6 1298 877.2 1299.5 878.4 1299.2 879 1299.4 879.6 1296.7 880.2 1299.5 882 1299.4 883.2 1299.5 883.8 1296.6 884.4 1296.6 885 1299.6 885.6 1299.3 886.2 1299.3 886.8 1297.9 887.4 1296.2 888 1297.9 888.6 1299.5 889.2 1299.3 891 1299.6 892.2 1299.2 892.8 1295.9 893.4 1299.6 894.7 1299.3 895.3 1299.3 895.9 1293 896.5 1298.4 897.1 1297.2 897.7 1298.4 898.3 1299.5 899.5 1299.4 900.1 1298.5 900.7 1297.4 901.3 1297.6 901.9 1298.4 902.5 1297.1 903.1 1298.4 903.7 1297.4 904.3 1298.5 904.9 1299.6 905.5 1294.5 906.1 1299.4 906.7 1299.4 907.3 1296.9 907.9 1299.5 908.5 1294.8 909.1 1299.3 909.7 1299.2 910.3 1294.9 910.9 1290.2 911.5 1294.9 912.1 1294.5 912.7 1294.7 913.3 1289.7 913.9 1293.5 914.5 1298.3 915.1 1295.6 915.7 1291.6 916.3 1295.6 916.9 1292.5 917.5 1289.2 918.1 1294.4 918.7 1295.8 919.3 1292 919.9 1295.1 920.5 1296.5 921.1 1298.1 921.7 1293 922.3 1299.2 923.5 1299.3 924.1 1295.6 924.7 1299.3 925.3 1297.4 925.9 1295.1 926.5 1297.4 927.1 1299.5 928.3 1299.3 928.9 1297.6 929.5 1299.3 930.7 1299.2 931.3 1295.6 931.9 1291.6 932.5 1295.4 933.1 1299.5 934.3 1299.3 935.5 1299.5 936.1 1293.6 936.7 1297.7 937.3 1296.7 937.9 1298.2 938.5 1299.2 939.7 1299.5 940.3 1295.5 940.9 1297.7 941.5 1298.7 942.1 1299.4 942.7 1299.3 943.3 1290.5 943.9 1297.7 944.5 1299.2 945.1 1298.5 945.7 1296 946.3 1292.3 946.9 1296 947.5 1299.4 948.7 1299.6 949.3 1299.6 949.9 1296.6 950.5 1299.5 952.3 1299.6 952.9 1295.6 953.5 1291.5 954.1 1295.6 954.7 1298.2 955.3 1296.8 955.9 1298.2 956.5 1299.2 957.1 1296.6 957.7 1293.6 958.3 1296.6 958.9 1295.6 959.5 1297.6 960.1 1297.8 960.7 1296 961.3 1297.1 961.9 1297.5 962.5 1296.6 963.1 1299.4 963.7 1299.5 964.3 1297.4 964.9 1296.7 965.5 1297.1 966.1 1299.4 966.7 1299.4 968.5 1299.6 970.3 1299.6 970.9 1295.1 971.5 1290.5 972.1 1294 972.7 1296.9 973.3 1299.2 973.9 1299.5 974.5 1299.4 975.1 1288.8 975.7 1299.6 976.3 1299.5 976.9 1294.2 977.5 1288.8 978.1 1294.2 978.7 1293.8 979.3 1296.7 979.9 1299.5 980.5 1298.4 981.1 1297.2 981.7 1296.1 982.3 1297.2 982.9 1290 983.5 1299.2 984.1 1299.4 984.7 1296.9 985.3 1294.2 985.9 1296.9 986.5 1299.4 987.1 1290.4 987.7 1298.2 988.3 1296.8 988.9 1296.7 989.5 1296.7 990.1 1298.2 990.7 1299.4 991.9 1299.6 993.7 1299.6 995.5 1299.5 996.1 1298 996.7 1296.4 997.3 1298 997.9 1299.2 998.5 1297.7 999.1 1295.8 999.7 1294 1000.3 1296.8 1000.9 1299.3 1001.5 1295.6 1002.1 1299.3 1002.7 1299.4 1003.3 1297.4 1003.9 1299.5 1004.5 1296.9 1005.1 1299.5 1005.7 1299.6 1006.3 1293.9 1006.9 1299.5 1007.5 1299.6 1008.1 1291.6 1008.7 1299.2 1009.9 1299.2 1010.5 1294.5 1011.1 1297.3 1011.7 1298.5 1012.3 1299.4 1013.5 1299.3 1015.3 1299.2 1017.1 1299.3 1018.3 1299.3 1018.9 1298.6 1019.5 1297.6 1020.1 1296.5 1020.7 1299.4 1022.5 1299.2 1024.3 1299.6 1026.1 1299.5 1026.7 1295.7 1027.3 1299.5 1027.9 1299.3 1029.1 1299.2 1029.7 1294.9 1030.3 1297.1 1030.9 1299.4 1031.5 1299.5 1032.1 1299.4 1032.7 1298.1 1033.3 1296.5 1033.9 1288.8 1034.5 1295.7 1035.1 1295.4 1035.7 1291.1 1036.3 1294.7 1036.9 1297.2 1037.5 1299.5 1038.1 1288.8 1038.7 1299.5 1039.3 1299.3 1039.9 1294.7 1040.5 1299.3 1042.3 1299.6 1044.1 1299.5 1044.7 1299.3 1045.3 1295.7 1045.9 1299.5 1046.5 1296.3 1047.1 1297.7 1047.7 1295.7 1048.3 1297.4 1048.9 1297.6 1049.5 1288.8 1050.1 1299.4 1051.3 1299.3 1053.1 1299.5 1054.3 1299.6 1054.9 1296.9 1055.5 1299.5 1056.1 1295.1 1056.7 1290.6 1057.3 1295.1 1057.9 1299.6 1058.5 1291.6 1059.1 1299.2 1059.7 1299.5 1060.3 1298 1060.9 1296.4 1061.5 1298 1062.1 1297.7 1062.7 1299.5 1063.3 1299.3 1063.9 1295.4 1064.5 1291.2 1065.1 1295.4 1065.7 1299.5 1066.9 1299.4 1067.5 1291.3 1068.1 1294.2 1068.7 1288.8 1069.3 1294.2 1069.9 1297 1070.5 1297.3 1071.1 1296.1 1071.7 1299.6 1072.3 1296.2 1072.9 1299.3 1074.7 1299.3 1076.5 1299.4 1077.1 1295.6 1077.7 1299.4 1078.3 1291.4 1078.9 1295.3 1079.5 1297.5 1080.1 1297.4 1080.7 1295.2 1081.3 1297.1 1081.9 1296.5 1082.5 1298.1 1083.1 1299.5 1083.7 1299.2 1084.3 1294.2 1084.9 1288.8 1085.5 1294.2 1086.1 1299.5 1086.7 1299.6 1087.3 1294.2 1087.9 1299.4 1088.5 1299.6 1089.1 1297.4 1089.7 1296.8 1090.3 1293.9 1090.9 1296.8 1091.5 1290.1 1092.1 1297.8 1092.7 1298.7 1093.3 1299.6 1094.5 1299.5 1095.1 1299.2 1095.7 1297.2 1096.3 1299.3 1097.5 1299.5 1098.1 1298.3 1098.7 1297 1099.3 1298.3 1099.9 1297.4 1100.5 1296.8 1101.1 1295.2 1101.7 1299.2 1103.5 1299.6 1105.3 1299.3 1105.9 1296.9 1106.5 1299.6 1107.1 1299.6 1107.7 1298.7 1108.3 1297.7 1108.9 1298.7 1109.5 1299.4 1110.1 1298.6 1110.7 1297.5 1111.3 1298.6 1111.9 1298.3 1112.5 1296.9 1113.1 1298.3 1113.7 1299.6 1114.3 1299.6 1114.9 1292.6 1115.5 1299.2 1116.1 1288.9 1116.7 1296.8 1117.3 1299.2 1117.9 1299.4 1118.5 1298.4 1119.1 1296.4 1119.7 1293.1 1120.3 1296.4 1120.9 1297.6 1121.5 1295.6 1122.1 1297.6 1122.7 1296.6 1123.3 1296.8 1123.9 1298.2 1124.5 1299.3 1125.1 1296.4 1125.7 1293.1 1126.3 1296.1 1126.9 1297.9 1127.5 1299.5 1128.7 1299.4 1129.3 1296.7 1129.9 1299.6 1130.5 1296.6 1131.1 1297.4 1131.7 1296 1132.3 1296.6 1132.9 1298.1 1133.5 1295.5 1134.1 1294.1 1134.7 1299.2 1135.3 1295.4 1135.9 1291.2 1136.5 1295.1 1137.1 1297.6 1137.7 1299.4 1138.3 1299.3 1138.9 1297.6 1139.5 1299.3 1140.1 1299.2 1140.7 1295.8 1141.3 1299.6 1141.9 1295.4 1142.5 1294 1143.1 1296.3 1143.7 1299.3 1144.3 1295.2 1144.9 1291.6 1145.5 1297.3 1146.1 1297.6 1146.7 1295.5 1147.3 1295.8 1147.9 1296.3 1148.5 1288.8 1149.1 1299.5 1149.7 1297.8 1150.3 1295.9 1150.9 1297.8 1151.5 1296.2 1152.1 1292.7 1152.7 1296.2 1153.3 1299.5 1153.9 1298.6 1154.5 1297.5 1155.1 1297.5 1155.7 1298.6 1156.3 1298.3 1156.9 1296.9 1157.5 1296.7 1158.1 1298.2 1158.7 1299.2 1159.3 1299.2 1159.9 1296.8 1160.5 1299.5 1161.1 1299.5 1161.7 1296.7 1162.3 1299.6 1162.9 1295.6 1163.5 1295.6 1164.1 1297.6 1164.7 1299.4 1165.3 1298.5 1165.9 1297.3 1166.5 1296.9 1167.1 1299.4 1167.7 1299.4 1168.3 1298.5 1168.9 1297.4 1169.5 1297 1170.1 1299.2 1171.9 1299.3 1172.5 1297.8 1173.1 1299.5 1173.7 1296.2 1174.3 1299.6 1174.9 1297 1175.5 1294.3 1176.1 1297 1176.7 1299.5 1177.3 1299.6 1177.9 1293.1 1178.5 1297.4 1179.1 1297.6 1179.7 1295.5 1180.3 1297.6 1180.9 1299.6 1181.5 1299.3 1182.1 1288.8 1182.7 1299.2 1184.5 1299.3 1186.3 1299.6 1186.9 1297.3 1187.5 1299.2 1188.1 1299.5 1189.9 1299.3 1190.5 1299.6 1191.1 1296.6 1191.7 1299.2 1192.3 1296.9 1192.9 1298.1 1193.5 1296.5 1194.1 1298.1 1194.7 1297.5 1195.3 1298.6 1195.9 1297.3 1196.5 1299.2 1197.1 1293.3 1197.7 1298.5 1198.3 1297.3 1198.9 1296.9 1199.5 1299.5 1200.1 1295.1 1200.7 1290.6 1201.3 1292.1 1201.9 1299.6 1202.5 1299.4 1203.1 1299.4 1203.7 1295.5 1204.3 1291.3 1204.9 1295.5 1205.5 1297.4 1206.1 1299.4 1206.7 1291.1 1207.3 1296.3 1207.9 1295.9 1208.5 1297.1 1209.1 1295.7 1209.7 1291.8 1210.3 1295.7 1210.9 1299.2 1211.5 1299.6 1212.1 1297.3 1212.7 1299.4 1213.3 1299.2 1213.9 1295.4 1214.5 1291.1 1215.1 1295.4 1215.7 1296.6 1216.3 1293.5 1216.9 1294.6 1217.5 1290.6 1218.1 1288.8 1218.7 1299.3 1219.3 1297.2 1219.9 1294.8 1220.5 1294.1 1221.1 1296.9 1221.7 1295.2 1222.3 1299.4 1223.5 1299.4 1224.1 1295.8 1224.7 1299.4 1225.9 1299.5 1226.5 1295 1227.1 1299.3 1227.7 1299.5 1229.5 1299.5 1230.1 1298.4 1230.7 1297.1 1231.3 1298.4 1231.9 1299.3 1233.1 1299.5 1233.7 1297.6 1234.3 1299.3 1234.9 1299.3 1235.5 1299.3 1236.1 1294.2 1236.7 1288.8 1237.3 1294.2 1237.9 1298.5 1238.5 1299.6 1240.3 1299.6 1242.1 1299.2 1243.9 1299.5 1245.7 1299.4 1246.9 1299.3 1247.5 1292.2 1248.1 1299.6 1249.3 1299.6 1251.1 1299.6 1252.9 1299.4 1253.5 1288.8 1254.1 1299.5 1254.7 1295.9 1255.3 1299.5 1255.9 1295.8 1256.5 1299.4 1257.1 1299.3 1257.7 1296.4 1258.3 1297.1 1258.9 1298.4 1259.5 1299.6 1260.1 1297.1 1260.7 1294.5 1261.3 1297.1 1261.9 1293 1262.5 1298.1 1263.1 1296.5 1263.7 1295.2 1264.3 1299.6 1264.9 1296.9 1265.5 1297.6 1266.2 1295.6 1266.8 1296.8 1267.4 1297.6 1268 1292.2 1268.6 1297.5 1269.2 1296.8 1269.8 1293.9 1270.4 1296.8 1271 1299.2 1271.6 1299.5 1272.2 1295.9 1272.8 1299.3 1273.4 1298.5 1274 1297.4 1274.6 1298.5 1275.2 1299.4 1275.8 1294.6 1276.4 1299.3 1277 1297.7 1277.6 1299.6 1278.2 1296.5 1278.8 1293.4 1279.4 1296.3 1280 1298.3 1280.6 1296.9 1281.2 1298.3 1281.8 1297.4 1282.4 1299.5 1283.6 1299.5 1284.2 1299.2 1284.8 1294.3 1285.4 1299.3 1286 1299.2 1286.6 1298.5 1287.2 1297.4 1287.8 1298.5 1288.4 1299.2 1289 1299.6 1289.6 1290.1 1290.2 1299.6 1290.8 1299.6 1292.6 1299.6 1294.4 1299.6 1295 1299.3 1295.6 1296.1 1296.2 1299.2 1296.8 1295.2 1297.4 1299.2 1298 1297.4 1298.6 1299.3 1299.2 1299.3 1299.8 1296 1300.4 1298.1 1301 1296.5 1301.6 1298.1 1302.2 1291.2 1302.8 1297.4 1303.4 1299.2 1304 1299.6 1304.6 1295.5 1305.2 1299.2 1305.8 1295.4 1306.4 1294.6 1307 1298.5 1307.6 1297.4 1308.2 1298.5 1308.8 1299.2 1309.4 1299.2 1310 1291.8 1310.6 1299.4 1311.2 1299.2 1311.8 1297.8 1312.4 1296 1313 1297.8 1313.6 1299.2 1314.2 1299.4 1314.8 1299.2 1315.4 1297.6 1316 1295.5 1316.6 1289 1317.2 1299.2 1317.8 1294.5 1318.4 1299.5 1319 1299.3 1319.6 1296.5 1320.2 1293.4 1320.8 1290.3 1321.4 1295 1322 1298.5 1322.6 1297.4 1323.2 1298.5 1323.8 1297.7 1324.4 1299.4 1325 1299.4 1325.6 1294.7 1326.2 1299.3 1326.8 1294.6 1327.4 1297.3 1328 1299.4 1328.6 1299.5 1329.2 1297.8 1329.8 1295.9 1330.4 1295.4 1331 1293.7 1331.6 1296.7 1332.2 1297.1 1332.8 1299.2 1333.4 1296.3 1334 1299.6 1334.6 1295.9 1335.2 1295.6 1335.8 1297.6 1336.4 1299.6 1337 1296.4 1337.6 1293.1 1338.2 1296.4 1338.8 1299.2 1339.4 1298.5 1340 1297.3 1340.6 1298.5 1341.2 1294.7 1341.8 1289.8 1342.4 1290.1 1343 1294.9 1343.6 1299.5 1344.8 1299.5 1345.4 1299.3 1346 1296.1 1346.6 1299.5 1348.4 1299.6 1349 1299.4 1349.6 1295.5 1350.2 1293.6 1350.8 1296.6 1351.4 1297.4 1352 1295.2 1352.6 1297.4 1353.2 1293.8 1353.8 1297.5 1354.4 1298.6 1355 1288.9 1355.6 1288.8 1356.2 1294.2 1356.8 1295.4 1357.4 1296.2 1358 1292.7 1358.6 1296 1359.2 1297.5 1359.8 1295.4 1360.4 1297.5 1361 1291.5 1361.6 1299.5 1362.2 1297.9 1362.8 1296.2 1363.4 1295.9 1364 1292.2 1364.6 1299.2 1365.2 1299.2 1365.8 1297.2 1366.4 1298.7 1367 1297.7 1367.6 1298.7 1368.2 1294.2 1368.8 1288.8 1369.4 1294.2 1370 1294.7 1370.6 1293.9 1371.2 1296.8 1371.8 1294.8 1372.4 1296.5 1373 1298.1 1373.6 1299.6 1375.4 1299.5 1377.2 1299.5 1377.8 1299.5 1378.4 1296.6 1379 1293.6 1379.6 1296.6 1380.2 1299.6 1380.8 1299.4 1382 1299.2 1382.6 1294.8 1383.2 1299.4 1384.4 1299.3 1385 1299.4 1385.6 1297.5 1386.2 1295.3 1386.8 1297.5 1387.4 1296.4 1388 1299.5 1389.8 1299.4 1390.4 1299.4 1391 1292.6 1391.6 1299.3 1392.2 1299.3 1392.8 1298.3 1393.4 1297 1394 1298.3 1394.6 1297.6 1395.2 1298.6 1395.8 1299.6 1397 1299.5 1398.8 1299.3 1399.4 1295.4 1400 1299.5 1400.6 1298.5 1401.2 1297.3 1401.8 1298.5 1402.4 1293.3 1403 1297.6 1403.6 1295.8 1404.2 1293.6 1404.8 1296.6 1405.4 1299.3 1406 1299.6 1407.2 1299.4 1407.8 1298.1 1408.4 1296.6 1409 1298.1 1409.6 1292 1410.2 1299.3 1410.8 1299.5 1411.4 1297.5 1412 1299.2 1412.6 1295.7 1413.2 1291.7 1413.8 1294.2 1414.4 1288.8 1415 1294.2 1415.6 1299.6 1416.8 1299.6 1418.6 1299.3 1419.8 1299.6 1420.4 1296.4 1421 1297.7 1421.6 1295.7 1422.2 1294.5 1422.8 1295.9 1423.4 1297.1 1424 1295.4 1424.6 1299.4 1425.8 1299.4 1427.6 1299.4 1428.2 1299.6 1428.8 1295.9 1429.4 1299.4 1430 1299.3 1430.6 1298 1431.2 1296.4 1431.8 1298 1432.4 1299.5 1433 1299.5 1433.6 1299.6 1434.2 1295.8 1434.8 1299.4 1435.4 1293.3 1436 1299.2 1436.6 1290.7 1437.2 1296 1437.8 1294.7 1438.4 1297.2 1439 1299.5 1440.2 1299.3 1442 1299.3 1443.8 1299.5 1444.4 1299.5 1445 1298.7 1445.6 1297.7 1446.2 1298.7 1446.8 1296.8 1447.4 1295.7 1448 1297.7 1448.6 1296 1449.2 1292.3 1449.8 1296 1450.4 1299.4 1451 1299.5 1451.6 1291.6 1451.6 1310 1451 1307 1450.4 1304.1 1449.8 1306 1449.2 1308.1 1448.6 1307.5 1448 1311 1447.4 1310 1446.8 1304.1 1446.2 1304.2 1445.6 1307.7 1445 1311.5 1444.4 1307.7 1443.8 1307.1 1443.2 1307.2 1442.6 1310.5 1442 1307.2 1441.4 1308.8 1440.8 1304.3 1440.2 1314.2 1439.6 1304.3 1438.4 1304.1 1436.6 1304.2 1436 1304.3 1435.4 1308.3 1434.8 1312.7 1434.2 1309.3 1433.6 1314.7 1433 1309.3 1432.4 1309.7 1431.8 1307.8 1431.2 1305.9 1430.6 1308.1 1430 1304 1429.4 1304.3 1427.6 1304.2 1427 1307.3 1426.4 1304 1425.8 1311.1 1425.2 1307.5 1424.6 1304.3 1424 1304.2 1422.2 1304.4 1420.4 1304 1418.6 1304.1 1418 1305.2 1417.4 1306.4 1416.8 1305.2 1416.2 1304.9 1415.6 1305.9 1415 1304.9 1414.4 1304.1 1413.8 1306.4 1413.2 1308.8 1412.6 1306.4 1412 1304.1 1411.4 1304.4 1410.8 1307.1 1410.2 1308.7 1409.6 1311.4 1409 1311.4 1408.4 1304 1407.8 1305.3 1407.2 1306.6 1406.6 1306.3 1406 1305.1 1405.4 1304.1 1404.2 1304.1 1403.6 1307.3 1403 1310.6 1402.4 1314.8 1401.8 1309.4 1401.2 1304.1 1400.6 1304.2 1400 1307.2 1399.4 1310.5 1398.8 1307.2 1398.2 1304.4 1397 1304.1 1395.8 1304.1 1395.2 1307.8 1394.6 1304.2 1394 1304.1 1393.4 1306.1 1392.8 1304.1 1392.2 1307.5 1391.6 1311.1 1391 1307.5 1390.4 1304.3 1389.8 1304.1 1389.2 1304.2 1388.6 1307.6 1388 1306.9 1387.4 1309.9 1386.8 1306.9 1386.2 1304.2 1385.6 1309.6 1385 1304.1 1384.4 1304 1383.8 1314.8 1383.2 1306.9 1382.6 1309.8 1382 1306.9 1381.4 1305.2 1380.8 1304.2 1379 1304 1378.4 1305.5 1377.8 1307.1 1377.2 1308.9 1376.6 1306.4 1376 1304.1 1375.4 1304.4 1374.2 1304.3 1373.6 1306.4 1373 1306.5 1372.4 1304 1371.8 1306.8 1371.2 1304 1370.6 1304.2 1370 1313.2 1369.4 1304.4 1368.8 1306.7 1368.2 1305.5 1367.6 1307 1367 1309.4 1366.4 1314.8 1365.8 1309.4 1365.2 1305.6 1364.6 1304.2 1364 1304.2 1363.4 1308.1 1362.8 1312.3 1362.2 1308.6 1361.6 1306 1361 1308 1360.4 1306 1359.8 1304 1359.2 1304.3 1358.6 1304.1 1358 1306.7 1357.4 1304.2 1355.6 1304 1353.8 1304 1353.2 1307.8 1352.6 1311.6 1352 1307.8 1351.4 1304.2 1350.2 1304.3 1349.6 1304.4 1349 1308.4 1348.4 1312.8 1347.8 1308.4 1347.2 1305.9 1346.6 1307.8 1346 1305.9 1345.4 1304.3 1344.8 1305.8 1344.2 1307.7 1343.6 1307.1 1343 1310.2 1342.4 1307.1 1341.8 1309.3 1341.2 1307.5 1340.6 1306.6 1340 1309.3 1339.4 1313 1338.8 1312 1338.2 1308 1337.6 1306.6 1337 1309.2 1336.4 1306.6 1335.8 1307.5 1335.2 1311 1334.6 1307.5 1334 1304.1 1333.4 1306.2 1332.8 1305.2 1332.2 1306.4 1331.6 1305.2 1331 1304 1330.4 1304.1 1329.8 1306.2 1329.2 1309.1 1328.6 1307.3 1328 1310.7 1327.4 1309.8 1326.8 1306.9 1326.2 1307.7 1325.6 1306.2 1325 1305.1 1324.4 1304.1 1323.8 1304.3 1323.2 1307.3 1322.6 1304.3 1321.4 1304.3 1319.6 1304.4 1319 1306.7 1318.4 1306.3 1317.8 1308.6 1317.2 1306.3 1316.6 1307.1 1316 1310.2 1315.4 1307.1 1314.8 1304.2 1314.2 1304 1313.6 1311.9 1313 1307.7 1312.4 1305.8 1311.8 1310.3 1311.2 1304.4 1310.6 1306.4 1310 1309.3 1309.4 1304.2 1308.8 1306.6 1308.2 1304.4 1307.6 1304.4 1307 1305.5 1306.4 1307 1305.8 1309.5 1305.2 1308 1304.6 1308.5 1304 1306.2 1303.4 1305 1302.8 1306 1302.2 1305 1301.6 1307.5 1301 1306 1300.4 1307.7 1299.8 1307 1299.2 1308.2 1298.6 1304.3 1298 1306.9 1297.4 1304 1296.2 1304 1295.6 1305.9 1295 1307.9 1294.4 1307.8 1293.8 1311.6 1293.2 1314.8 1292.6 1309.4 1292 1306.4 1291.4 1307.4 1290.8 1306.3 1290.2 1304 1289 1304.2 1288.4 1310.3 1287.8 1304 1287.2 1304.1 1285.4 1304.1 1284.8 1305.9 1284.2 1307.9 1283.6 1305.9 1283 1306.5 1282.4 1309.1 1281.8 1306.5 1281.2 1304.3 1280 1304 1279.4 1311.4 1278.8 1304.4 1278.2 1308.1 1277.6 1312.3 1277 1308.1 1276.4 1310.3 1275.8 1307.1 1275.2 1304.4 1274.6 1304.1 1274 1312 1273.4 1304.1 1272.8 1307.5 1272.2 1306.9 1271.6 1305.8 1271 1307.7 1270.4 1307.2 1269.8 1305.6 1269.2 1304.3 1268.6 1313.1 1268 1306 1267.4 1310.9 1266.8 1306.7 1266.2 1304.4 1265.5 1304.1 1264.9 1304.1 1264.3 1310.8 1263.7 1304.2 1263.1 1305.1 1262.5 1306.3 1261.9 1305.1 1261.3 1307.8 1260.7 1311.6 1260.1 1307.8 1259.5 1304.3 1258.9 1306.5 1258.3 1309.1 1257.7 1306.5 1257.1 1304.2 1256.5 1305 1255.9 1306.1 1255.3 1305 1254.7 1304.4 1253.5 1304.4 1252.9 1305.6 1252.3 1307.2 1251.7 1305.6 1251.1 1304.1 1249.3 1304.2 1248.1 1304.4 1247.5 1305 1246.9 1306.1 1246.3 1305 1245.7 1304.4 1243.9 1304.4 1243.3 1305.5 1242.7 1307 1242.1 1305.5 1241.5 1306.5 1240.9 1309.1 1240.3 1306.5 1239.7 1304.3 1239.1 1307.3 1238.5 1304.2 1236.7 1304.2 1234.9 1304.3 1233.7 1304.2 1233.1 1309.8 1232.5 1304.1 1231.3 1304 1229.5 1304.3 1227.7 1304 1227.1 1305.7 1226.5 1307.5 1225.9 1305.7 1225.3 1304.1 1224.7 1304 1224.1 1307.1 1223.5 1310.2 1222.9 1307.1 1222.3 1309.8 1221.7 1304.1 1221.1 1305.7 1220.5 1307.4 1219.9 1314.1 1219.3 1304 1218.7 1308.2 1218.1 1304.3 1217.5 1306 1216.9 1304.4 1216.3 1305.2 1215.7 1306.4 1215.1 1307 1214.5 1310.1 1213.9 1307 1213.3 1311.1 1212.7 1309.4 1212.1 1314.8 1211.5 1309.4 1210.9 1306.9 1210.3 1306 1209.7 1307.2 1209.1 1304.4 1208.5 1306.2 1207.9 1304.3 1206.7 1304.3 1206.1 1306.5 1205.5 1309.1 1204.9 1306.5 1204.3 1308.1 1203.7 1304.2 1202.5 1304.1 1201.9 1305.6 1201.3 1307.3 1200.7 1305.6 1200.1 1304.2 1199.5 1309.7 1198.9 1304.1 1197.1 1304.4 1196.5 1309.2 1195.9 1307.8 1195.3 1307.9 1194.7 1305 1194.1 1306.1 1193.5 1305 1192.9 1304.2 1191.7 1304.3 1189.9 1304.4 1188.1 1304.4 1186.3 1304.2 1184.5 1304.1 1182.7 1304 1182.1 1306.4 1181.5 1304 1180.9 1304.4 1179.7 1304.1 1179.1 1309.2 1178.5 1314.4 1177.9 1309.2 1177.3 1304.2 1176.1 1304.1 1175.5 1306.3 1174.9 1307.3 1174.3 1311.2 1173.7 1312.7 1173.1 1307.7 1172.5 1305.8 1171.9 1304.1 1171.3 1304.4 1170.7 1310.6 1170.1 1304.4 1168.9 1304.1 1168.3 1308.5 1167.7 1304.1 1167.1 1305.9 1166.5 1307 1165.9 1306.1 1165.3 1304.4 1164.7 1304.2 1162.9 1304.3 1162.3 1306.5 1161.7 1304.1 1161.1 1304.2 1160.5 1304.3 1159.9 1305.9 1159.3 1307.5 1158.7 1308.2 1158.1 1307.6 1157.5 1310.3 1156.9 1307.5 1156.3 1308.6 1155.7 1313.3 1155.1 1308.6 1154.5 1304.3 1153.9 1305.4 1153.3 1306.8 1152.7 1305.4 1152.1 1308.5 1151.5 1306.2 1150.9 1306.2 1150.3 1304.1 1149.7 1304.4 1149.1 1308.2 1148.5 1307.3 1147.9 1310.7 1147.3 1307.3 1146.7 1304.3 1146.1 1305.1 1145.5 1306.2 1144.9 1306.5 1144.3 1307.1 1143.7 1309.8 1143.1 1304.2 1142.5 1308.6 1141.9 1313.3 1141.3 1308.6 1140.7 1305.1 1140.1 1306.2 1139.5 1308.6 1138.9 1308.2 1138.3 1308.2 1137.7 1312.4 1137.1 1308.2 1136.5 1304 1135.9 1304.1 1134.1 1304.2 1132.9 1304 1132.3 1306.6 1131.7 1304.2 1131.1 1309.4 1130.5 1314.8 1129.9 1309.4 1129.3 1308.7 1128.7 1313.5 1128.1 1308.7 1127.5 1304.4 1126.9 1304.4 1126.3 1307.5 1125.7 1311.1 1125.1 1307.5 1124.5 1304.4 1123.9 1310.5 1123.3 1304.2 1122.7 1308.2 1122.1 1304 1121.5 1304.1 1120.9 1305 1120.3 1306.1 1119.7 1305 1119.1 1306.8 1118.5 1308.7 1117.9 1306.3 1117.3 1304 1116.7 1307.1 1116.1 1310 1115.5 1307.8 1114.9 1305.9 1114.3 1305.6 1113.7 1307.2 1113.1 1305.6 1112.5 1304.4 1111.9 1304.1 1111.3 1306.1 1110.7 1312.2 1110.1 1304.3 1108.9 1304.4 1107.1 1304.4 1106.5 1304.4 1105.9 1306.8 1105.3 1304.3 1104.7 1304.4 1104.1 1307.2 1103.5 1304.4 1102.9 1304.3 1102.3 1308 1101.7 1312 1101.1 1308 1100.5 1307 1099.9 1310.1 1099.3 1314.8 1098.7 1304.3 1098.1 1304 1096.3 1304.1 1095.7 1304.4 1095.1 1305.3 1094.5 1306.6 1093.9 1305.3 1093.3 1311.7 1092.7 1304 1090.9 1304.3 1090.3 1305.2 1089.7 1306.5 1089.1 1308.4 1088.5 1312.9 1087.9 1308.4 1087.3 1305.6 1086.7 1304.1 1086.1 1307.3 1085.5 1309.4 1084.9 1314.8 1084.3 1309.4 1083.7 1305.3 1083.1 1304.3 1082.5 1307.2 1081.9 1304.3 1081.3 1304.4 1080.7 1306.8 1080.1 1304.2 1079.5 1307.3 1078.9 1304.1 1078.3 1304.1 1077.1 1304 1076.5 1305.4 1075.9 1306.8 1075.3 1305.4 1074.7 1309.8 1074.1 1307 1073.5 1305.5 1072.9 1304.2 1071.1 1304.1 1070.5 1307 1069.9 1304 1069.3 1310.7 1068.7 1304.1 1068.1 1305.7 1067.5 1307.5 1066.9 1306.7 1066.3 1306.7 1065.7 1305.7 1065.1 1307.4 1064.5 1307.6 1063.9 1304 1063.3 1304.1 1062.7 1305.1 1062.1 1306.2 1061.5 1305.1 1060.9 1314.8 1060.3 1304 1059.7 1305.1 1059.1 1306.3 1058.5 1310.8 1057.9 1306.1 1057.3 1308.3 1056.7 1305.2 1056.1 1306.5 1055.5 1305.2 1054.9 1304.4 1054.3 1304.2 1053.7 1306.8 1053.1 1306.7 1052.5 1311.4 1051.9 1304.4 1051.3 1304.2 1050.7 1304.3 1050.1 1308.1 1049.5 1304.3 1048.9 1305 1048.3 1306.1 1047.7 1307.7 1047.1 1304 1046.5 1306.8 1045.9 1309.7 1045.3 1306.8 1044.7 1304.4 1044.1 1308.8 1043.5 1304.4 1042.3 1304.1 1041.7 1307.7 1041.1 1304.2 1040.5 1304.3 1039.9 1304.2 1039.3 1305.9 1038.7 1306 1038.1 1308.1 1037.5 1306 1036.9 1307.8 1036.3 1304.3 1035.1 1304.2 1033.3 1304.3 1031.5 1304 1030.9 1304.2 1030.3 1309.2 1029.7 1309.6 1029.1 1306.9 1028.5 1312.4 1027.9 1306.7 1027.3 1305.3 1026.7 1304.4 1026.1 1306.7 1025.5 1305.2 1024.9 1306.4 1024.3 1310 1023.7 1308.6 1023.1 1306.3 1022.5 1304.4 1020.7 1304.4 1018.9 1304.3 1017.1 1304.3 1016.5 1306 1015.9 1308.1 1015.3 1306 1014.7 1304.1 1013.5 1304.3 1012.9 1304.2 1012.3 1307.7 1011.7 1311.4 1011.1 1312.3 1010.5 1310.4 1009.9 1304.4 1009.3 1310 1008.7 1304.2 1008.1 1305.2 1007.5 1306.4 1006.9 1305.2 1006.3 1304.2 1005.1 1304.2 1004.5 1306.6 1003.9 1304.3 1002.7 1304.2 1002.1 1304.3 1001.5 1305.6 1000.9 1307.3 1000.3 1309.2 999.7 1306.6 999.1 1306.3 998.5 1305.1 997.9 1304.3 997.3 1304.1 996.7 1304.4 996.1 1306.2 995.5 1304.3 993.7 1304.3 991.9 1304.1 990.7 1304 990.1 1306.8 989.5 1306.9 988.9 1306.6 988.3 1305.3 987.7 1304.3 986.5 1304 984.7 1304 984.1 1306.2 983.5 1308.4 982.9 1306.2 982.3 1304.2 981.1 1304.4 979.3 1304.2 977.5 1304.4 975.7 1304.1 974.5 1304.3 973.9 1306 973.3 1307.5 972.7 1311 972.1 1307.5 971.5 1304 970.9 1306.6 970.3 1308.1 969.7 1306.2 969.1 1308.5 968.5 1306.2 967.9 1311.1 967.3 1308.2 966.7 1312.4 966.1 1308.2 965.5 1304.4 964.9 1306.1 964.3 1308.3 963.7 1306.9 963.1 1307.6 962.5 1304.2 961.9 1314.8 961.3 1309.1 960.7 1306.5 960.1 1304.3 959.5 1309.1 958.9 1313 958.3 1308.5 957.7 1306.3 957.1 1305.1 956.5 1305.2 955.9 1306.5 955.3 1305.2 954.7 1307.7 954.1 1306.2 953.5 1305.1 952.9 1306.9 952.3 1304.4 951.7 1311.5 951.1 1307.2 950.5 1305.6 949.9 1304.3 949.3 1305.7 948.7 1307.4 948.1 1305.7 947.5 1304.1 946.9 1309.4 946.3 1310.9 945.7 1313.2 945.1 1304.4 944.5 1304 943.9 1307.4 943.3 1304 942.7 1306 942.1 1308.1 941.5 1306 940.9 1305.9 940.3 1310.3 939.7 1304.1 939.1 1304.1 938.5 1306.3 937.9 1304.2 936.1 1304.1 935.5 1313.4 934.9 1305.6 934.3 1307.2 933.7 1305.6 933.1 1304.3 932.5 1314.8 931.9 1304.2 930.7 1304 929.5 1304.1 928.9 1309.6 928.3 1309.4 927.7 1314.8 927.1 1309.4 926.5 1306 925.9 1304.1 925.3 1304 924.7 1304.2 924.1 1312.3 923.5 1304.4 922.9 1304.1 922.3 1307.6 921.7 1304 920.5 1304.4 919.9 1308.6 919.3 1304.2 918.1 1304.3 916.3 1304.4 914.5 1304.2 912.7 1304.4 911.5 1304.2 910.9 1305.3 910.3 1306.6 909.7 1308 909.1 1312 908.5 1308 907.9 1307.1 907.3 1305.5 906.7 1304.1 905.5 1304.3 904.9 1305.7 904.3 1307.5 903.7 1305.7 903.1 1304.3 902.5 1305.6 901.9 1307.3 901.3 1307.4 900.7 1310.9 900.1 1307.4 899.5 1304.3 898.9 1304.4 898.3 1306.3 897.7 1304.2 896.5 1304 895.9 1307.1 895.3 1310.2 894.7 1307.1 894 1304.2 892.8 1304 891 1304.4 890.4 1307.1 889.8 1304.3 889.2 1304.2 888.6 1307.7 888 1304 887.4 1305.8 886.8 1307.6 886.2 1305.8 885.6 1312.7 885 1304.1 884.4 1305 883.8 1306.1 883.2 1305 882.6 1311.5 882 1306.9 881.4 1307.1 880.8 1310.1 880.2 1309.2 879.6 1304.4 879 1304.4 878.4 1305.3 877.8 1306.7 877.2 1308.4 876.6 1312.9 876 1308.4 875.4 1304.2 874.8 1304.2 874.2 1304.4 873.6 1307.9 873 1304.2 872.4 1304.4 871.8 1306.2 871.2 1309.6 870.6 1306.9 870 1305.4 869.4 1309.2 868.8 1314.5 868.2 1309.2 867.6 1304.3 867 1306.3 866.4 1305.7 865.8 1307.5 865.2 1305.7 864.6 1304.3 864 1314.8 863.4 1307.3 862.8 1310.7 862.2 1307.3 861.6 1304 861 1306.7 860.4 1311.9 859.8 1306.4 859.2 1310.6 858.6 1304.3 858 1306.9 857.4 1307 856.8 1305.5 856.2 1309.2 855.6 1304.1 855 1304.3 854.4 1304.3 853.8 1306.8 853.2 1308.4 852.6 1306.2 852 1304.1 851.4 1305.4 850.8 1306.8 850.2 1314.6 849.6 1304.2 848.4 1304.4 847.8 1314.8 847.2 1304.3 846.6 1304 846 1305.4 845.4 1307.9 844.8 1311.8 844.2 1308.3 843.6 1306.1 843 1307.2 842.4 1305.6 841.8 1304 840.6 1304.1 838.8 1304.2 838.2 1304.1 837.6 1306.1 837 1308.3 836.4 1306.1 835.8 1304.1 835.2 1309.9 834.6 1304.3 833.4 1304.3 832.2 1304.1 831.6 1308.4 831 1304.1 829.8 1304 828.6 1304.1 828 1306.6 827.4 1309.2 826.8 1314.8 826.2 1305.9 825.6 1304.9 825 1304 824.4 1304.2 822.6 1304.4 822 1307.4 821.4 1310.8 820.8 1311.7 820.2 1309.7 819.6 1306.8 819 1304.2 817.2 1304.1 816.6 1305.9 816 1304.3 815.4 1312.7 814.8 1308 814.2 1307.7 813.6 1308.9 813 1304.2 812.4 1304.3 811.8 1305.4 811.2 1308.2 810.6 1312.4 810 1308.2 809.4 1306.5 808.8 1309 808.2 1306.5 807.6 1305.9 807 1304.9 806.4 1304.3 804.6 1304.3 804 1304.3 803.4 1314.8 802.8 1304.3 802.2 1304.1 801.6 1307.8 801 1304 799.2 1304.3 797.4 1304.1 795.6 1304.1 793.8 1304.3 793.2 1309.2 792.6 1311.6 792 1309.5 791.4 1304 790.2 1304.1 789.6 1309.6 789 1306 788.4 1308.1 787.8 1306 787.2 1306 786.6 1305 786 1311.7 785.4 1305.8 784.8 1307.6 784.2 1305.8 783.6 1304 783 1304 781.8 1304.2 781.2 1313.3 780.6 1304.1 780 1306.5 779.4 1309 778.8 1306.5 778.2 1308.1 777.6 1307.2 777 1310.4 776.4 1307.2 775.8 1304.2 774 1304.3 772.2 1304.1 771.6 1312.7 771 1306.2 770.4 1305.1 769.8 1304.4 768.6 1304.3 768 1304 767.4 1308.9 766.8 1313.8 766.2 1308.9 765.6 1304.1 765 1304.4 764.4 1314.1 763.8 1304.2 763.2 1304.1 761.4 1304.2 760.8 1304.4 760.2 1306.2 759.6 1305.2 759 1306.4 758.4 1305.2 757.8 1306.3 757.2 1305.1 756.6 1304.1 756 1309.8 755.4 1304.4 754.2 1304.1 753.6 1304.2 753 1307.2 752.4 1310.4 751.8 1308 751.2 1314.8 750.6 1304.1 748.8 1304.3 748.2 1304.1 747.6 1307.5 747 1304.4 746.4 1304.1 745.8 1305.7 745.2 1307.4 744.6 1307 744 1310.1 743.4 1307 742.8 1304.2 742.2 1309.9 741.6 1306.5 741 1304.4 739.8 1304.2 739.2 1308.9 738.6 1307.6 738 1305.8 737.4 1304.4 736.8 1307.6 736.2 1310 735.6 1312.7 735 1304.1 734.4 1308.9 733.8 1304 733.2 1304.1 732.6 1307.5 732 1306 731.4 1305 730.8 1304.2 730.2 1304 729.6 1306.4 729 1304.4 728.4 1305 727.8 1306 727.2 1305 726.6 1304.3 725.4 1304 723.6 1304.2 722.4 1304 721.8 1305.6 721.2 1307.3 720.6 1305.6 720 1304.2 718.2 1304.4 716.4 1304 715.8 1304.4 715.2 1305.1 714.6 1306.3 714 1305.1 713.4 1310.2 712.8 1304.3 711 1304.3 710.4 1308 709.8 1306.7 709.2 1309.5 708.6 1306.7 708 1307.2 707.4 1310.5 706.8 1307.9 706.2 1305.9 705.6 1304.1 705 1309.6 704.4 1305.2 703.8 1306.4 703.2 1307.2 702.6 1306.1 702 1305 701.4 1304.1 700.8 1304 700.2 1306.8 699.6 1309.3 699 1306.6 698.4 1304.1 696.6 1304 695.4 1304.2 694.8 1305.3 694.2 1306.7 693.6 1305.3 693 1304.2 692.4 1314.8 691.8 1304.1 691.2 1307.5 690.6 1311.1 690 1307.5 689.4 1307 688.8 1304.1 688.2 1306.4 687.6 1307.5 687 1311 686.4 1307.5 685.8 1308.2 685.2 1304.4 684.6 1306.3 684 1308.7 683.4 1306.3 682.8 1307.5 682.2 1311.1 681.6 1307.5 681 1304.1 680.4 1306 679.8 1307.6 679.2 1306.6 678.6 1305.3 678 1309.8 677.4 1307 676.8 1304.1 675.6 1304.1 675 1305.6 674.4 1307.3 673.8 1308 673.2 1304.1 672.6 1306.9 672 1309.8 671.4 1306.9 670.8 1305.2 670.2 1306.4 669.6 1305.2 669 1304.1 667.8 1304 667.2 1307.5 666.6 1311 666 1307.5 665.4 1304.3 664.8 1306.2 664.2 1305.5 663.6 1307 663 1306.6 662.4 1305.3 661.8 1304.1 660.6 1304 660 1304.3 659.4 1308.5 658.8 1309.1 658.2 1304.3 657.6 1308.2 657 1304.1 655.2 1304 653.4 1304 651.6 1304.3 649.8 1304.2 648 1304.4 647.4 1307.4 646.8 1304.1 646.2 1304.2 645.6 1305.4 645 1306.8 644.4 1308.7 643.8 1313.4 643.2 1308.7 642.6 1306.1 642 1314.8 641.4 1304.2 640.8 1304.3 639 1304.4 637.8 1304.2 637.2 1307.2 636.6 1304.4 636 1306.3 635.4 1308.7 634.8 1306.3 634.2 1305.6 633.6 1307.3 633 1305.6 632.4 1312.3 631.8 1304.3 631.2 1304.2 630.6 1306.7 630 1309.4 629.4 1307.8 628.8 1307.4 628.2 1308.4 627.6 1304.3 626.4 1304 625.8 1308.2 625.2 1304.1 624.6 1305.9 624 1307.9 623.4 1305.9 622.8 1304.3 622.2 1313.6 621.6 1304.3 621 1304.2 619.2 1304.3 618.6 1304 618 1307 617.4 1304.3 615.6 1304.2 613.8 1304.4 613.2 1304 612.6 1306.5 612 1304.3 611.4 1310.9 610.8 1304.4 610.2 1304.3 609.6 1304.3 609 1306.2 608.4 1304 606.6 1304 604.8 1304.4 603 1304.2 601.2 1304.2 599.4 1304.4 597.6 1304.3 595.8 1304.2 594 1304 592.2 1304.3 590.4 1304.4 589.2 1304 588.6 1314.1 588 1308.4 587.4 1306.2 586.8 1304.3 585.6 1304.4 585 1306.4 584.4 1308.9 583.8 1312 583.2 1308 582.6 1304.1 582 1304 581.4 1309.9 580.8 1304.1 579.6 1304.2 577.8 1304.2 576 1304.1 574.2 1304 572.4 1304.3 570.6 1304.3 568.8 1304 567 1304.4 565.2 1304.2 563.4 1304.2 562.8 1304 562.2 1305.3 561.6 1306.6 561 1305.3 560.4 1304.1 559.8 1304.1 558 1304.3 557.4 1304.3 556.8 1306.9 556.2 1309.8 555.6 1312.9 555 1308.4 554.4 1308 553.8 1306 553.2 1304 552.6 1307.7 552 1311.4 551.4 1307.7 550.8 1304.3 549 1304.3 547.8 1304.2 547.2 1306 546.6 1304.3 546 1306.3 545.4 1308.7 544.8 1306.3 544.2 1304.3 543.6 1304.1 543 1309.4 542.4 1314.8 541.8 1309.4 541.2 1309.4 540.6 1314.8 540 1310.3 539.4 1307.1 538.8 1304.4 538.2 1306.5 537.6 1308.9 537 1306.4 536.4 1306.5 535.8 1305.4 535.2 1308.2 534.6 1312.5 534 1308.2 533.4 1304.2 532.8 1304.4 532.2 1304.3 531.6 1305.2 531 1306.5 530.4 1305.2 529.8 1306.1 529.2 1305 528.6 1304.2 528 1304.1 527.4 1305.3 526.8 1306.6 526.2 1308.6 525.6 1308.3 525 1307.4 524.4 1309.4 523.8 1314.8 523.2 1310 522.6 1307 521.9 1304.2 520.7 1304.1 520.1 1308.2 519.5 1309 518.9 1310.4 518.3 1308 517.7 1312.1 517.1 1308 516.5 1304 515.9 1304.1 515.3 1311.4 514.7 1306.8 514.1 1307.9 513.5 1305.9 512.9 1305.7 512.3 1307.5 511.7 1305.7 511.1 1304.4 510.5 1304.1 509.9 1310.4 509.3 1304.4 508.7 1304.2 508.1 1307.2 507.5 1304.4 506.9 1312 506.3 1306.4 505.7 1306 505.1 1307.6 504.5 1305.5 503.9 1307.1 503.3 1306.3 502.7 1305.1 502.1 1304.4 501.5 1304.2 500.9 1307 500.3 1306.8 499.7 1304.1 498.5 1304.4 496.7 1304.1 496.1 1304.2 495.5 1309 494.9 1304.3 494.3 1305.8 493.7 1307.7 493.1 1312.6 492.5 1304.1 491.3 1304.3 490.7 1308.6 490.1 1306.2 489.5 1305.1 488.9 1304.1 487.7 1304 487.1 1308.1 486.5 1312.3 485.9 1308.1 485.3 1307.2 484.7 1306.9 484.1 1304.2 482.3 1304.2 481.7 1306.3 481.1 1308.6 480.5 1306.3 479.9 1304.1 478.7 1304.2 476.9 1304.4 476.3 1304.4 475.7 1305.9 475.1 1304.3 473.9 1304.2 473.3 1307 472.7 1304.3 471.5 1304.3 469.7 1304.4 469.1 1306.9 468.5 1308.9 467.9 1306.8 467.3 1306.2 466.7 1304.3 466.1 1304.2 465.5 1307.7 464.9 1306.9 464.3 1309.9 463.7 1306.9 463.1 1305.3 462.5 1306.7 461.9 1314.8 461.3 1307.2 460.7 1305.6 460.1 1306.4 459.5 1304.2 458.9 1304.1 457.1 1304.4 456.5 1304 455.9 1306.2 455.3 1308.4 454.7 1306.2 454.1 1304.1 453.5 1304 452.9 1304 452.3 1305.2 451.7 1306.5 451.1 1305.2 450.5 1306.1 449.9 1308.2 449.3 1306.9 448.7 1305.4 448.1 1306.3 447.5 1309.2 446.9 1304.3 446.3 1304.3 444.5 1304.4 442.7 1304.2 440.9 1304.2 440.3 1304.4 439.7 1306 439.1 1304 437.3 1304.3 436.1 1304.4 435.5 1306 434.9 1308.1 434.3 1306 433.7 1314.8 433.1 1304.2 432.5 1304.1 431.9 1305.5 431.3 1307.1 430.7 1308.7 430.1 1312.9 429.5 1308.4 428.9 1304.1 428.3 1304.2 427.7 1306.9 427.1 1306.6 426.5 1304.4 424.7 1304.2 424.1 1306.2 423.5 1304.4 422.9 1304 422.3 1304.3 421.7 1310.2 421.1 1304 420.5 1304.4 419.9 1305.3 419.3 1306.7 418.7 1305.3 418.1 1304.2 417.5 1304.2 416.9 1308.1 416.3 1304.3 415.7 1306.9 415.1 1309.9 414.5 1307.6 413.9 1308.8 413.3 1309.2 412.7 1307.3 412.1 1305.6 411.5 1304 410.3 1304.3 409.7 1304.4 409.1 1306.1 408.5 1308.2 407.9 1307.3 407.3 1310.6 406.7 1307.3 406.1 1304.4 404.9 1304.1 403.7 1304.4 403.1 1309 402.5 1306.2 401.9 1305.1 401.3 1304 400.7 1305.3 400.1 1307.5 399.5 1311 398.9 1309.6 398.3 1304.1 397.7 1304.3 397.1 1311 396.5 1307.5 395.9 1307.9 395.3 1304.3 394.7 1307.8 394.1 1311.7 393.5 1307.8 392.9 1312.1 392.3 1306.9 391.7 1306.2 391.1 1305.1 390.5 1309.2 389.9 1308.2 389.3 1312.4 388.7 1308.2 388.1 1306.6 387.5 1307.2 386.9 1307.5 386.3 1304.2 385.7 1304.9 385.1 1309.4 384.5 1314.8 383.9 1309.4 383.3 1304.4 382.1 1304.4 381.5 1305.3 380.9 1307.2 380.3 1310.4 379.7 1307.9 379.1 1305.9 378.5 1304.1 377.9 1304.3 377.3 1314.2 376.7 1308.3 376.1 1306.1 375.5 1307.9 374.9 1304.1 374.3 1307.8 373.7 1304.4 373.1 1305.7 372.5 1307.5 371.9 1308 371.3 1310.8 370.7 1307.4 370.1 1311.1 369.5 1307.8 368.9 1308.4 368.3 1309.2 367.7 1304.2 367.1 1304.4 366.5 1304.2 365.9 1311.7 365.3 1304.3 364.7 1305.8 364.1 1307.7 363.5 1305.8 362.9 1304 361.7 1304.1 359.9 1304 358.1 1304.4 357.5 1304 356.9 1308.3 356.3 1304.1 355.7 1306.3 355.1 1309.3 354.5 1304.4 353.9 1304.3 353.3 1309.4 352.7 1314.8 352.1 1309.4 351.5 1304.1 350.9 1304.3 349.7 1304.1 349.1 1309.4 348.5 1314.8 347.9 1311.6 347.3 1306.9 346.7 1306.9 346.1 1304.1 345.5 1306.5 344.9 1308.4 344.3 1306.2 343.7 1304.2 341.9 1304.2 341.3 1304.3 340.7 1306.6 340.1 1309.2 339.5 1307 338.9 1307.7 338.3 1306 337.7 1305 337.1 1304.3 336.5 1304.2ZM1452.8 295.4 1453.4 294.3 1454 297.4 1454.6 299.8 1455.2 298 1455.8 298.9 1456.4 297.1 1457 301 1457.6 304.9 1458.2 307.4 1458.8 307 1459.4 307.1 1460 307.2 1460.6 303.5 1461.2 309.3 1461.8 310.3 1462.4 313.5 1463 315.3 1463.6 317.2 1464.2 318.6 1464.8 318.1 1465.4 317.2 1466 320.1 1466.6 319.1 1467.2 316.3 1467.8 321.1 1468.4 323.2 1469 321.6 1469.6 319.9 1470.2 323.4 1470.8 327 1471.4 328 1472 329.8 1472.6 330.6 1473.2 329.8 1473.8 329.6 1474.4 328.3 1475 331.5 1475.6 333.7 1476.2 332.9 1476.8 335.5 1477.4 337.5 1478 337.3 1478.6 336.9 1479.2 339.3 1479.8 339.4 1480.4 341.6 1481 341.4 1481.6 343.5 1482.2 345.6 1482.8 347 1483.4 347.2 1484 347.4 1484.6 347 1485.2 349.5 1485.8 349.7 1486.4 348.2 1487 348.6 1487.6 350.9 1488.2 352.6 1488.8 352.1 1489.4 349 1490 353.8 1490.6 352.5 1491.2 352.1 1491.8 349.3 1492.4 353.7 1493 357 1493.6 360.2 1494.2 361.3 1494.8 360 1495.4 358.7 1496 361.5 1496.6 363.9 1497.2 365.9 1497.8 367.9 1498.4 366.9 1499 366 1499.6 363.9 1500.2 361.5 1500.8 365.2 1501.4 365.8 1502 368.5 1502.6 371.2 1503.2 371.9 1503.8 373.5 1504.4 373.8 1505 373.8 1505.6 373.5 1506.2 374.3 1506.8 375.8 1507.4 375.5 1508 376.9 1508.6 376.9 1509.2 375.1 1509.8 375.3 1510.4 371 1511 376.4 1511.6 379.7 1512.2 380.7 1512.8 380.3 1513.4 379.5 1514 379.7 1514.6 381.6 1515.2 383.5 1515.8 384.2 1516.4 383.5 1517 385.2 1517.6 386.8 1518.2 385.3 1518.8 383.8 1519.4 385.7 1520 383.6 1520.6 386.6 1521.2 389.3 1523 390.8 1523.6 391 1524.2 387.2 1524.8 383.1 1525.4 388 1526 390.8 1526.6 390 1527.2 389.6 1527.8 385.8 1528.4 390.4 1529 393.4 1529.6 392.1 1530.2 394.2 1530.8 393.6 1531.4 395.4 1532 396.7 1532.6 397 1533.2 396.7 1533.8 396.5 1534.4 396.9 1535 398 1535.6 397.8 1536.2 399 1536.8 400.2 1537.4 401 1538 399.7 1538.6 398 1539.2 400.6 1539.8 402.4 1540.4 401.2 1541 399.1 1541.6 398.3 1542.2 395.6 1542.8 399.3 1543.4 400.3 1544 402.7 1544.6 405.1 1545.2 407 1545.8 405.7 1546.4 403.8 1547 406.6 1547.6 408.9 1547.6 413.7 1547 413.5 1546.4 414.6 1545.8 416 1545.2 417.4 1544.6 415.1 1544 413.4 1543.4 413.8 1542.8 416.5 1542.2 419.2 1541.6 415.6 1541 411.9 1540.4 413 1539.8 417.4 1539.2 412.1 1538.6 407.1 1537.4 406 1536.8 406.7 1536.2 407.6 1535.6 405.8 1535 406.7 1534.4 405.4 1533.8 406.1 1533.2 407.2 1532.6 405.2 1532 405.5 1531.4 403.1 1530.8 403.8 1530.2 404.9 1529.6 403.3 1529 401.1 1528.4 399.9 1527.8 400.5 1527.2 401.1 1526.6 400.3 1526 402.6 1525.4 399.5 1524.8 397.5 1524.2 398.4 1523.6 400.3 1523 402.3 1522.4 399.5 1521.8 397.7 1521.2 399 1520.6 399.6 1520 396.1 1519.4 397.7 1518.8 394.7 1518.2 393.9 1517.6 395.6 1517 393 1516.4 390.8 1515.8 392.2 1515.2 394 1514.6 395.8 1514 393.9 1513.4 390.7 1512.8 388.6 1512.2 388.9 1511.6 390.3 1511 390.6 1510.4 388.8 1509.8 391.6 1509.2 387.7 1508.6 385.9 1508 386.4 1507.4 384.9 1506.8 383.3 1506.2 383.5 1505.6 384.8 1505 386 1504.4 384.3 1503.8 382.6 1503.2 381 1502.6 381.5 1502 383.8 1501.4 380.1 1500.8 378.5 1500.2 380 1499.6 381.5 1499 378.7 1498.4 376 1497.8 376.7 1497.2 379.5 1496.6 382.3 1496 378.1 1495.4 373.9 1494.8 371 1494.2 371.1 1493.6 372.4 1493 373.7 1492.4 370.9 1491.8 371.1 1491.2 372.5 1490.6 375.4 1490 370.9 1489.4 367.6 1488.8 369.2 1488.2 366 1487.6 362.8 1487 363.5 1486.4 364.7 1485.8 361.9 1485.2 361 1484.6 359.4 1484 361.6 1483.4 358.6 1482.8 355.8 1482.2 353.1 1481.6 355.7 1481 358.4 1480.4 359.9 1479.8 354.3 1479.2 349 1478 346.8 1477.4 348.2 1476.8 349.6 1476.2 346.4 1475.6 348.5 1475 352.7 1474.4 348.5 1473.8 349.3 1473.2 345.5 1472.6 344.7 1472 340.8 1471.4 340.9 1470.8 342 1470.2 339.3 1469.6 340.4 1469 337.4 1468.4 334.4 1467.8 331.6 1467.2 330.8 1466.6 329.9 1466 331.8 1465.4 334.1 1464.8 333.6 1464.2 329.2 1463.6 327.3 1463 328.8 1462.4 330.2 1461.8 326.8 1461.2 323.3 1460.6 320.7 1460 319.2 1459.4 318 1458.8 318.8 1458.2 319.8 1457.6 318.8 1457 321.7 1456.4 316.7 1455.8 311.9 1454.6 310 1452.8 306.8ZM1548.8 1289.5 1549.4 1294.6 1550 1299.4 1550.6 1299.4 1551.2 1297 1551.8 1299.6 1552.4 1299.4 1554.2 1299.6 1556 1299.2 1556.6 1293.4 1557.2 1289.1 1557.8 1294.4 1558.4 1298.5 1559 1297.4 1559.6 1298.5 1560.2 1296 1560.8 1298 1561.4 1296.4 1562 1298 1562.6 1296.8 1563.2 1294.6 1563.8 1295.4 1564.4 1295.6 1565 1292.8 1565.6 1296.2 1566.2 1295.3 1566.8 1296.2 1567.4 1297.3 1568 1299.3 1568.6 1295.7 1569.2 1299.3 1569.8 1292.1 1570.4 1296.2 1571 1297.9 1571.6 1299.3 1572.2 1299.3 1574 1299.5 1574.6 1289.1 1575.2 1299.2 1575.8 1299.2 1576.4 1299.5 1577 1296.7 1577.6 1298.3 1578.2 1296.9 1578.8 1298.3 1579.4 1296.2 1580 1296.5 1580.6 1298.1 1581.2 1299.5 1583 1299.5 1584.8 1299.6 1586 1299.6 1586.6 1295.2 1587.2 1296.4 1587.8 1298 1588.4 1296.8 1589 1299.6 1590.2 1299.3 1592 1299.6 1593.8 1299.3 1595.6 1299.6 1596.2 1295.6 1596.8 1298.3 1597.4 1296.9 1598 1298.3 1598.6 1299.6 1598.6 1308.9 1598 1304 1597.4 1304 1595.6 1304.1 1595 1304.2 1594.4 1310.5 1593.8 1304.3 1592 1304.3 1590.2 1304.2 1588.4 1304.1 1587.2 1304.4 1586.6 1307.3 1586 1308 1585.4 1312.1 1584.8 1308 1584.2 1307.9 1583.6 1311.9 1583 1307.9 1582.4 1305.4 1581.8 1304.2 1581.2 1304.3 1580.6 1305.4 1580 1306.8 1579.4 1307.1 1578.8 1310.2 1578.2 1307.1 1577.6 1304.1 1577 1307.8 1576.4 1307.5 1575.8 1304.4 1575.2 1304 1574.6 1306.4 1574 1304.4 1572.2 1304 1571.6 1304.1 1571 1305.9 1570.4 1309 1569.8 1307.1 1569.2 1308.5 1568.6 1304.1 1568 1305.4 1567.4 1306.8 1566.8 1305.4 1566.2 1305.8 1565.6 1304.4 1565 1304.3 1563.8 1304.2 1563.2 1312 1562.6 1304.4 1562 1304.4 1561.4 1309.2 1560.8 1314.5 1560.2 1309.2 1559.6 1314.5 1559 1309.6 1558.4 1306.8 1557.8 1304 1557.2 1305.8 1556.6 1307.7 1556 1306.5 1555.4 1305.2 1554.8 1304.4 1554.2 1304.3 1552.4 1304.4 1551.8 1304.3 1551.2 1304.9 1550.6 1305.8 1550 1304.9 1549.4 1304.4 1548.8 1304.1ZM1599.6 296.3 1600.2 295.7 1600.8 295.8 1601.4 298.8 1602 301.8 1603.2 303.5 1605 306.9 1606.8 309.7 1608 311.9 1608.6 310.2 1609.2 308.4 1609.8 312.2 1610.4 315.8 1611 316.7 1611.6 316.6 1612.2 316.1 1612.8 318.5 1613.4 318.4 1614 318.1 1614.6 320.2 1615.2 322.4 1615.8 324.4 1616.4 322.1 1617 319.7 1617.6 324 1618.2 328.1 1618.8 328.8 1619.4 326.7 1620 324.3 1620.6 328.5 1621.2 332.6 1623 334.9 1623.6 336.2 1624.2 333.3 1624.9 330.5 1625.5 327.6 1626.1 330.8 1626.7 334.7 1627.3 337.8 1627.9 335 1628.5 337.9 1629.1 336.1 1629.7 339.6 1630.3 343.2 1630.9 345.5 1631.5 347.3 1632.1 347.1 1632.7 346.7 1633.3 348.8 1633.9 350.5 1634.5 350.3 1635.1 349.7 1635.7 350.3 1636.3 348.1 1636.9 345.9 1637.5 349.7 1638.1 353.5 1638.7 356.5 1639.3 356.5 1639.9 356.5 1640.5 356 1641.1 358.1 1641.7 359.7 1642.3 361.2 1642.9 361.6 1643.5 361.3 1644.1 360.9 1644.7 362.7 1645.3 364.6 1645.9 365 1646.5 364.3 1647.1 362.7 1647.7 358.2 1648.3 364.1 1648.9 368.4 1649.5 367.6 1650.1 366.7 1650.7 368.9 1651.3 370.8 1651.9 369.8 1652.5 372.1 1653.1 374 1653.7 374.5 1654.3 375.1 1654.9 372.6 1655.5 369.7 1656.1 373.7 1656.7 376.4 1657.3 376.1 1657.9 374.4 1658.5 375.6 1659.1 372.3 1659.7 373.4 1660.3 376.3 1660.9 379.1 1661.5 380 1662.1 379.5 1662.7 381 1663.3 381.4 1663.9 382.6 1664.5 383.8 1665.1 384.7 1665.7 383.4 1666.3 381.9 1666.9 380.3 1667.5 382.8 1668.1 385.3 1668.7 387.8 1669.3 387.8 1669.9 384 1670.5 379.7 1671.1 384.8 1671.7 388.3 1672.3 387.9 1672.9 389.1 1673.5 390.2 1674.1 389.7 1674.8 391.1 1675.4 392.3 1676 390.4 1676.6 388.3 1677.2 386.3 1677.8 389.1 1678.4 392 1679 390.9 1679.6 387.5 1680.2 391.8 1680.8 396 1681.4 395.4 1682 394.7 1682.6 394 1683.2 395.6 1683.8 397.1 1684.4 398.6 1686.2 399.7 1688 401.2 1689.8 402.5 1691 403.4 1691.6 401.2 1692.2 398.7 1692.8 402.1 1693.4 405.5 1695.2 406.6 1695.8 407.3 1696.4 407.2 1697 407 1697.6 406.9 1698.2 406.3 1698.8 408.2 1699.4 409.6 1699.4 416.1 1698.8 417.4 1698.2 415.2 1697.6 415.5 1697 417.6 1696.4 415.4 1695.8 418.1 1695.2 420.8 1694.6 417.2 1694 419.9 1693.4 416.3 1692.8 412.7 1692.2 412.4 1691.6 410.8 1691 412.9 1690.4 417.2 1689.8 412 1689.2 406.9 1688.6 407.6 1688 408.4 1687.4 409.2 1686.8 407.5 1686.2 405.7 1685.6 404.4 1684.4 403.4 1683.8 405.2 1683.2 407.3 1682.6 404.3 1682 401.6 1680.8 400.4 1680.2 400.3 1679.6 402.2 1679 404.6 1678.4 406.9 1677.8 403.7 1677.2 400.6 1676.6 401.1 1676 400.2 1675.4 398.7 1674.8 397.3 1674.1 396.3 1673.5 395.8 1672.9 395.1 1672.3 396.4 1671.7 397.7 1671.1 399 1670.5 398.1 1669.9 402.4 1669.3 397.2 1668.7 393.3 1668.1 394.1 1667.5 395.6 1666.9 397.3 1666.3 394.7 1665.7 392.1 1665.1 389.6 1664.5 389.4 1663.9 393.3 1663.3 397.7 1662.7 392.3 1662.1 388.6 1661.5 388.8 1660.9 388.6 1660.3 386.8 1659.7 385.3 1659.1 385 1658.5 384.2 1657.9 385.6 1657.3 387.2 1656.7 384.6 1656.1 382.1 1655.5 383.8 1654.9 385.7 1654.3 387.6 1653.7 384.6 1653.1 381.6 1652.5 378.7 1651.9 378.3 1650.7 377.1 1650.1 377.1 1649.5 377.3 1648.9 377.6 1648.3 377.2 1647.7 379.3 1647.1 375.9 1646.5 374.1 1645.9 372.7 1645.3 372.8 1644.7 373 1644.1 371.4 1643.5 369.9 1642.9 373.7 1642.3 378.3 1641.7 372.2 1641.1 368.4 1640.5 369.7 1639.9 373.3 1639.3 368.2 1638.7 366.2 1638.1 366.9 1637.5 364.6 1636.9 362.3 1636.3 360.3 1635.7 359.2 1635.1 360.7 1634.5 362.3 1633.9 363.9 1633.3 360.7 1632.7 358.1 1632.1 360.3 1631.5 356.5 1630.9 353.1 1630.3 354.6 1629.7 356.5 1629.1 358.4 1628.5 354.8 1627.9 351.2 1627.3 348.1 1626.7 347.2 1624.9 344.4 1623 341.7 1621.8 340.1 1621.2 342.8 1620.6 345.8 1620 341.1 1619.4 336.6 1618.8 335.8 1618.2 336.3 1617.6 337.2 1617 338.1 1616.4 335.7 1615.8 334.5 1615.2 332.7 1614.6 330.9 1614 330.7 1613.4 331.1 1612.8 328.9 1612.2 326.7 1611.6 324.7 1611 323.9 1610.4 325.8 1609.8 328.1 1609.2 330.4 1608.6 326.2 1608 322 1607.4 317.9 1606.8 317.2 1605 314.2 1603.2 311.2 1602.6 311.1 1602 311.5 1601.4 311.8 1600.8 311.6 1600.2 309 1599.6 306.4ZM1700.5 1289.5 1701.1 1289.1 1701.7 1299.6 1702.3 1296.6 1702.9 1293.6 1703.5 1296.6 1704.1 1297.8 1704.7 1298.7 1705.3 1297.7 1705.9 1298.7 1706.5 1299.6 1707.7 1299.2 1708.3 1299.5 1708.9 1294.5 1709.5 1299.3 1711.3 1299.3 1711.9 1298.5 1712.5 1297.3 1713.1 1298.5 1713.7 1299.3 1714.9 1299.6 1716.7 1299.3 1717.3 1289.1 1717.9 1299.2 1718.5 1295.7 1719.1 1299.5 1719.7 1299.3 1720.3 1297 1720.9 1297.2 1721.5 1297.3 1722.1 1299.4 1723.9 1299.5 1724.6 1299.5 1725.2 1296.4 1725.8 1294.9 1726.4 1299.4 1727 1297.1 1727.6 1294.5 1728.2 1297.1 1728.8 1299.6 1729.4 1299.2 1730.6 1299.4 1731.2 1297.1 1731.8 1299.3 1733 1299.2 1734.2 1299.4 1734.8 1296.1 1735.4 1292.5 1736 1289.1 1736.6 1299.2 1738.4 1299.4 1740.2 1299.3 1740.8 1292.7 1741.4 1299.2 1742 1299.6 1742.6 1299.4 1743.2 1295.3 1743.8 1299.2 1744.4 1299.5 1745 1297.8 1745.6 1299.5 1746.2 1297.1 1746.8 1294.6 1747.4 1297.1 1748 1299.4 1748 1304.2 1747.4 1305.9 1746.8 1304.1 1746.2 1310.1 1745.6 1308 1745 1309.6 1744.4 1305.3 1743.8 1306.7 1743.2 1305.3 1742.6 1304.1 1742 1304.1 1740.2 1304.2 1738.4 1304.2 1737.8 1304 1737.2 1307.9 1736.6 1311.9 1736 1307.9 1735.4 1304 1734.8 1305.5 1734.2 1307 1733.6 1307.9 1733 1308.1 1732.4 1304 1731.8 1304.2 1731.2 1305.1 1730.6 1306.2 1730 1310.4 1729.4 1307 1728.8 1305.5 1728.2 1304.3 1727.6 1306.3 1727 1308.6 1726.4 1310.7 1725.8 1313.1 1725.2 1305.4 1724.6 1306.9 1723.9 1307.2 1723.3 1306.1 1722.7 1304.4 1722.1 1304 1721.5 1304.3 1720.9 1306.8 1720.3 1309.7 1719.7 1306.8 1719.1 1304.3 1718.5 1304.3 1716.7 1304.4 1714.9 1304.2 1713.1 1304.4 1711.3 1304.4 1710.7 1304.1 1710.1 1306.1 1709.5 1308.2 1708.9 1306.1 1708.3 1305 1707.7 1306.1 1707.1 1306.6 1706.5 1309.1 1705.9 1306.5 1705.3 1304.2 1704.7 1305.7 1704.1 1307.4 1703.5 1305.7 1702.9 1307.2 1702.3 1310.3 1701.7 1304.1 1701.1 1304.2 1700.5 1305.8ZM1748.9 286.7 1749.5 291.8 1750.1 296.9 1750.7 298.3 1751.3 301.3 1751.9 304 1752.5 305 1753.1 306.1 1753.7 306 1754.3 305.7 1754.9 305.4 1755.5 307.9 1756.1 307.3 1756.8 307.4 1757.4 311.2 1758 312.6 1758.6 312.1 1759.2 315 1759.8 313.9 1760.4 312.8 1761 315.9 1761.6 319.1 1762.2 318.2 1762.8 315.3 1763.4 312.4 1764 317.3 1764.6 322.2 1765.2 323.2 1765.8 320.4 1766.4 317.5 1767 322.3 1767.6 327.1 1768.2 328.3 1768.8 327.4 1769.4 330.2 1770 328.6 1770.6 326.4 1771.3 330.5 1771.9 327.2 1772.5 333.3 1773.1 339.3 1774.3 341 1775.5 343 1776.1 342.3 1776.7 341.5 1777.3 342.5 1777.9 344.6 1778.5 346.6 1779.1 347.1 1779.7 346.3 1780.3 348.9 1780.9 349.2 1781.5 348.9 1782.1 350.9 1782.7 352.9 1783.3 352.7 1783.9 351.4 1784.5 350.1 1785.1 352.3 1785.8 350.5 1786.4 353.9 1787 357.3 1787.6 360.4 1788.2 357.9 1788.8 355.1 1789.4 352.3 1790 355.5 1790.6 360.6 1791.2 363.7 1791.8 363.5 1792.4 365.2 1793 366.9 1793 373.5 1792.4 373 1790.6 370.7 1788.8 368.7 1787 365.8 1785.8 364.3 1785.1 364.2 1784.5 364.3 1783.9 364.4 1783.3 362.6 1782.7 360.9 1782.1 361.9 1781.5 363.8 1780.9 365.6 1780.3 362.1 1779.7 358.5 1779.1 357.3 1778.5 355.6 1777.9 354 1777.3 352.5 1776.7 351.6 1776.1 356.2 1775.5 361.1 1774.9 354.4 1774.3 353.5 1773.7 358.4 1773.1 351.7 1772.5 346.5 1771.9 344.8 1771.3 343.4 1770.6 342.6 1768.8 339.8 1768.2 342.3 1767.6 345.2 1767 348.2 1766.4 343.4 1765.8 338.5 1765.2 335.7 1764.6 335.8 1764 333.8 1763.4 331.8 1762.8 330.6 1762.2 330.3 1761.6 331.6 1761 334.2 1760.4 336.9 1759.8 332.3 1759.2 327.6 1758.6 326.9 1758 329.9 1757.4 332.9 1756.8 327.9 1756.1 322.8 1755.5 322.3 1754.9 319.8 1754.3 317.8 1753.7 316.1 1753.1 316.6 1752.5 314.3 1751.9 314.2 1751.3 312.1 1750.7 311.6 1750.1 311.7 1749.5 309.4 1748.9 307.2Z"/>
</g>
<g fill="none" stroke="#f00" stroke-width="2.7">
<rect x="178.6" y="1198.2" width="27.5" height="27.5"/>
<rect x="238.8" y="1198.2" width="27.5" height="27.5"/>
<rect x="322.9" y="1288" width="27.5" height="27.5"/>
<rect x="407.1" y="1288" width="27.5" height="27.5"/>
<rect x="491.4" y="1288" width="27.5" height="27.5"/>
<rect x="575.5" y="1288" width="27.5" height="27.5"/>
<rect x="659.8" y="1288" width="27.5" height="27.5"/>
<rect x="744" y="1288" width="27.5" height="27.5"/>
<rect x="828.1" y="1288" width="27.5" height="27.5"/>
<rect x="912.4" y="1288" width="27.5" height="27.5"/>
<rect x="996.6" y="1288" width="27.5" height="27.5"/>
<rect x="1080.8" y="1288" width="27.5" height="27.5"/>
<rect x="1165" y="1288" width="27.5" height="27.5"/>
<rect x="1249.2" y="1288" width="27.5" height="27.5"/>
<rect x="1333.4" y="1288" width="27.5" height="27.5"/>
<rect x="1417.5" y="1288" width="27.5" height="27.5"/>
<rect x="1501.8" y="373.7" width="27.5" height="27.5"/>
<rect x="1586" y="284.1" width="27.5" height="27.5"/>
<rect x="1670.2" y="386.7" width="27.5" height="27.5"/>
<rect x="1754.4" y="321.2" width="27.5" height="27.5"/>
</g>
<rect x="227.3" y="76.3" width="780.2" height="215" fill="#fff" stroke="#262626" stroke-width="2.7"/>
<g fill="none" stroke="#000" stroke-width="2.7">
<line x1="248" y1="116.1" x2="358.4" y2="116.1"/>
<polygon points="321.9,115.1 319.5,123.9 313.1,130.4 304.2,132.8 295.3,130.4 288.9,123.9 286.5,115.1 288.9,106.2 295.3,99.8 304.2,97.4 313.1,99.8 319.5,106.2"/>
</g>
<text x="367.9" y="137.3" font-size="59.4" fill="#000">Storage Capacitor Voltage</text>
<g fill="none" stroke="#00f" stroke-width="2.7">
<line x1="248" y1="183.6" x2="358.4" y2="183.6"/>
<path d="M282.8 184.6H325.6M304.2 163.2V206M289.1 169.5L319.3 199.7M289.1 199.7L319.3 169.5"/>
</g>
<text x="367.9" y="204.8" font-size="59.4" fill="#000">Input Voltage</text>
<g fill="none" stroke="#f00" stroke-width="2.7">
<line x1="248" y1="251.2" x2="358.4" y2="251.2"/>
<rect x="290.6" y="238.3" width="27.5" height="27.5"/>
</g>
<text x="367.9" y="272.3" font-size="59.4" fill="#000">Switch/Operation State</text>
</svg>
</body></html>
